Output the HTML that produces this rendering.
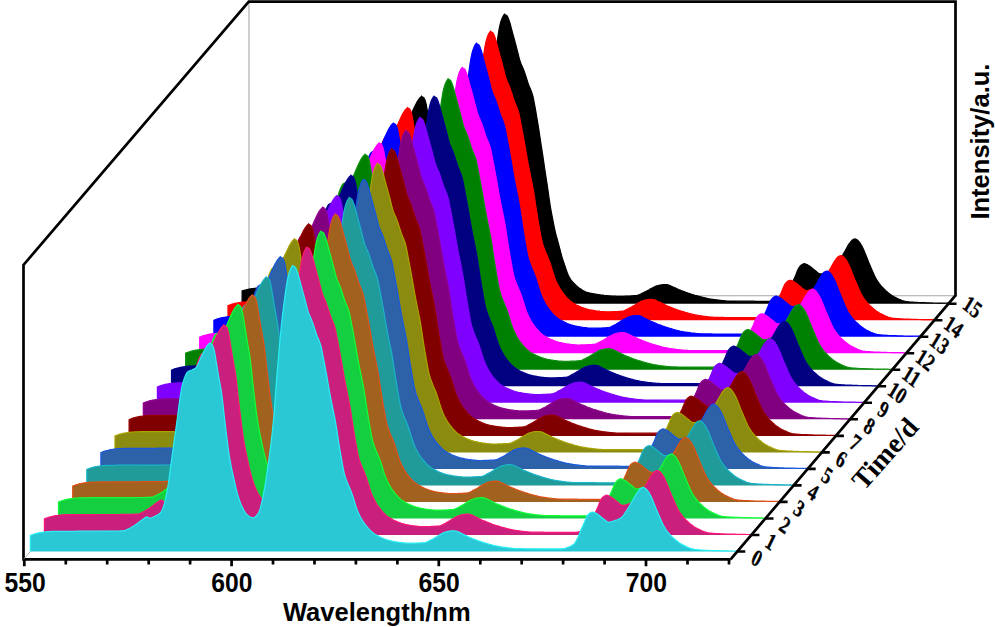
<!DOCTYPE html>
<html><head><meta charset="utf-8"><title>chart</title>
<style>html,body{margin:0;padding:0;background:#fff;}svg{display:block}</style></head>
<body><svg width="995" height="627" viewBox="0 0 995 627">
<rect width="995" height="627" fill="#fff"/>
<path d="M249 3V295.8H954" fill="none" stroke="#a8a8a8" stroke-width="1.1"/>
<path d="M242.1 303.7L242.1 291.0L243.1 290.6L244.1 290.3L245.1 290.0L246.1 289.8L247.1 289.5L248.1 289.3L249.1 289.1L250.1 288.9L251.1 288.8L252.1 288.6L253.1 288.5L254.1 288.4L255.1 288.3L256.1 288.2L257.1 288.1L258.1 288.0L259.1 287.9L260.1 287.8L261.1 287.8L262.1 287.7L263.1 287.7L264.1 287.7L265.1 287.7L266.1 287.7L267.1 287.7L268.1 287.7L269.1 287.7L270.1 287.7L271.1 287.6L272.1 287.6L273.1 287.6L274.1 287.6L275.1 287.6L276.1 287.6L277.1 287.6L278.1 287.6L279.1 287.6L280.1 287.6L281.1 287.6L282.1 287.6L283.1 287.6L284.1 287.6L285.1 287.6L286.1 287.6L287.1 287.6L288.1 287.6L289.1 287.6L290.1 287.6L291.1 287.6L292.1 287.6L293.1 287.6L294.1 287.6L295.1 287.6L296.1 287.6L297.1 287.6L298.1 287.6L299.1 287.6L300.1 287.5L301.1 287.5L302.1 287.5L303.1 287.5L304.1 287.5L305.1 287.5L306.1 287.5L307.1 287.5L308.1 287.5L309.1 287.5L310.1 287.5L311.1 287.5L312.1 287.5L313.1 287.5L314.1 287.5L315.1 287.5L316.1 287.5L317.1 287.5L318.1 287.5L319.1 287.5L320.1 287.5L321.1 287.5L322.1 287.5L323.1 287.5L324.1 287.4L325.1 287.4L326.1 287.4L327.1 287.4L328.1 287.4L329.1 287.4L330.1 287.4L331.1 287.3L332.1 287.3L333.1 287.3L334.1 287.3L335.1 287.2L336.1 287.1L337.1 286.9L338.1 286.5L339.1 286.2L340.1 285.7L341.1 285.4L342.1 285.0L343.1 284.5L344.1 284.1L345.1 283.6L346.1 283.1L347.1 282.6L348.1 282.0L349.1 281.4L350.1 280.7L351.1 280.0L352.1 279.2L353.1 278.5L354.1 277.8L355.1 277.1L356.1 276.3L357.1 275.5L358.1 274.8L359.1 274.4L359.2 274.4L360.1 274.7L360.9 275.0L361.1 275.0L362.1 274.6L363.1 274.1L364.1 273.6L365.1 272.9L366.1 272.2L367.1 271.5L368.1 270.7L369.1 269.9L370.1 269.1L371.1 268.2L372.1 267.1L373.1 265.6L374.1 263.6L375.1 260.9L376.1 257.4L377.1 253.4L378.1 248.7L379.1 243.2L380.1 237.0L381.1 229.8L382.1 222.0L383.1 214.5L384.1 207.2L385.1 200.1L386.1 192.9L387.1 185.8L388.1 178.6L389.1 171.4L390.1 163.8L391.1 156.2L392.1 149.2L393.1 143.3L394.1 138.2L395.1 134.5L396.1 131.4L397.1 129.0L398.1 126.9L399.1 125.3L400.1 124.5L401.1 124.0L402.1 123.7L403.1 123.3L404.1 122.9L405.1 122.4L406.1 122.0L407.1 121.4L408.1 120.6L409.1 119.1L410.1 116.8L411.1 114.6L412.1 112.3L413.1 109.9L414.1 107.8L415.1 105.7L416.1 103.7L417.1 101.9L418.1 100.3L419.1 98.9L420.1 97.7L421.0 96.8L421.1 96.7L421.5 96.2L422.1 96.7L423.1 97.3L424.1 98.1L425.1 100.3L426.1 103.8L427.1 109.4L428.1 115.4L429.1 121.5L430.1 127.4L431.1 133.0L432.1 138.6L433.1 144.2L434.1 151.5L435.1 160.3L436.1 169.5L437.1 178.0L438.1 186.1L439.1 194.1L440.1 201.7L441.1 208.4L442.1 214.3L443.1 219.5L444.1 224.3L445.1 228.9L446.1 233.3L447.1 237.6L448.1 241.8L449.1 245.7L450.1 249.1L451.1 252.1L452.1 254.9L453.1 257.4L454.1 259.6L455.1 261.5L456.1 263.3L457.1 264.9L458.1 266.3L459.1 267.3L460.1 268.0L461.1 268.6L462.1 269.2L463.1 269.6L464.1 269.8L464.8 269.9L465.1 269.8L466.1 269.5L467.1 268.8L468.1 267.8L469.1 266.6L470.1 265.2L471.1 263.2L472.1 260.0L473.1 255.9L474.1 251.6L475.1 246.7L476.1 241.2L477.1 235.3L478.1 228.9L479.1 222.0L480.1 214.8L481.1 207.4L482.1 199.7L483.1 191.5L484.1 182.6L485.1 172.8L486.1 161.5L487.1 147.2L488.1 133.6L489.1 121.0L490.1 109.0L491.1 97.5L492.1 86.4L493.1 75.8L494.1 66.3L495.1 58.0L496.1 50.0L497.1 42.4L498.1 35.5L499.1 29.2L500.1 24.5L501.1 21.0L502.1 18.3L503.1 16.3L504.0 14.9L504.1 14.7L504.6 14.1L505.1 14.6L505.2 14.7L506.1 15.1L507.1 15.8L508.1 17.7L509.1 20.4L510.1 23.5L511.1 27.3L512.1 31.2L513.1 34.9L514.1 38.5L515.1 42.2L516.1 46.0L517.1 49.8L518.1 53.7L519.1 57.8L520.1 61.3L521.1 63.9L522.1 66.2L523.1 68.5L524.1 71.0L525.1 73.9L526.1 77.0L527.1 80.2L528.1 83.2L529.1 85.9L530.1 88.3L531.1 90.7L532.1 93.4L533.1 97.0L534.1 102.0L535.1 107.4L536.1 113.0L537.1 119.0L538.1 125.1L539.1 131.4L540.1 138.0L541.1 144.8L542.1 151.2L543.1 157.7L544.1 164.5L545.1 171.4L546.1 177.9L547.1 184.3L548.1 191.1L549.1 198.4L550.1 205.1L551.1 210.8L552.1 216.2L553.1 221.3L554.1 226.3L555.1 231.1L556.1 235.3L557.1 238.7L558.1 242.3L559.1 246.1L560.1 250.0L561.1 253.8L562.1 257.3L563.1 260.6L564.1 263.5L565.1 266.4L566.1 269.4L567.1 272.2L568.1 274.7L569.1 276.9L570.1 278.6L571.1 280.0L572.1 281.3L573.1 282.4L574.1 283.5L575.1 284.5L576.1 285.5L577.1 286.3L578.1 287.1L579.1 287.9L580.1 288.6L581.1 289.3L582.1 290.0L583.1 290.6L584.1 291.1L585.1 291.6L586.1 292.0L587.1 292.3L588.1 292.6L589.1 292.9L590.1 293.1L591.1 293.3L592.1 293.5L593.1 293.7L594.1 293.8L595.1 294.0L596.1 294.2L597.1 294.3L598.1 294.5L599.1 294.7L600.1 294.8L601.1 295.0L602.1 295.1L603.1 295.2L604.1 295.4L605.1 295.5L606.1 295.6L607.1 295.7L608.1 295.8L609.1 295.8L610.1 295.9L611.1 296.0L612.1 296.0L613.1 296.1L614.1 296.2L615.1 296.2L616.1 296.3L617.1 296.3L618.1 296.4L619.1 296.4L620.1 296.4L621.1 296.4L622.1 296.3L623.1 296.3L624.1 296.3L625.1 296.2L626.1 296.2L627.1 296.1L628.1 296.1L629.1 296.0L630.1 296.0L631.1 295.9L632.1 295.8L633.1 295.8L634.1 295.7L635.1 295.6L636.1 295.5L637.1 295.4L638.1 295.1L639.1 294.8L640.1 294.3L641.1 293.9L642.1 293.4L643.1 292.9L644.1 292.4L645.1 291.9L646.1 291.4L647.1 290.8L648.1 290.2L649.1 289.7L650.1 289.1L651.1 288.6L652.1 288.1L653.1 287.5L654.1 287.0L655.1 286.5L656.1 286.1L657.1 285.8L658.1 285.5L659.1 285.3L660.1 285.1L661.1 284.9L662.1 284.8L663.1 284.7L664.1 284.6L665.1 284.6L666.1 284.6L667.1 284.7L668.1 284.9L669.1 285.2L670.1 285.6L671.1 286.1L672.1 286.5L673.1 287.0L674.1 287.4L675.1 287.9L676.1 288.3L677.1 288.8L678.1 289.2L679.1 289.7L680.1 290.1L681.1 290.5L682.1 290.9L683.1 291.2L684.1 291.6L685.1 292.0L686.1 292.4L687.1 292.7L688.1 293.1L689.1 293.4L690.1 293.7L691.1 294.1L692.1 294.4L693.1 294.7L694.1 295.0L695.1 295.3L696.1 295.5L697.1 295.8L698.1 296.1L699.1 296.4L700.1 296.6L701.1 296.9L702.1 297.2L703.1 297.4L704.1 297.7L705.1 297.9L706.1 298.1L707.1 298.4L708.1 298.6L709.1 298.8L710.1 299.0L711.1 299.1L712.1 299.3L713.1 299.4L714.1 299.6L715.1 299.7L716.1 299.8L717.1 299.9L718.1 300.1L719.1 300.2L720.1 300.3L721.1 300.4L722.1 300.5L723.1 300.6L724.1 300.7L725.1 300.8L726.1 300.9L727.1 301.0L728.1 301.0L729.1 301.1L730.1 301.1L731.1 301.1L732.1 301.1L733.1 301.1L734.1 301.1L735.1 301.1L736.1 301.1L737.1 301.2L738.1 301.2L739.1 301.2L740.1 301.2L741.1 301.2L742.1 301.2L743.1 301.2L744.1 301.2L745.1 301.2L746.1 301.2L747.1 301.2L748.1 301.2L749.1 301.2L750.1 301.2L751.1 301.2L752.1 301.2L753.1 301.2L754.1 301.2L755.1 301.3L756.1 301.3L757.1 301.3L758.1 301.3L759.1 301.3L760.1 301.3L761.1 301.3L762.1 301.3L763.1 301.3L764.1 301.3L765.1 301.3L766.1 301.3L767.1 301.3L768.1 301.3L769.1 301.3L770.1 301.3L771.1 301.3L772.1 301.3L773.1 301.3L774.1 301.2L775.1 301.0L776.1 300.8L777.1 300.5L778.1 300.2L779.1 299.8L780.1 299.4L781.1 298.9L782.1 298.5L783.1 298.0L784.1 297.5L785.1 296.7L786.1 295.8L787.1 294.4L788.1 292.6L789.1 290.6L790.1 288.5L791.1 286.0L792.1 283.4L793.1 280.9L794.1 278.7L795.1 276.6L796.1 274.2L797.1 271.6L798.1 269.3L799.1 267.6L800.1 266.2L801.1 265.2L802.1 264.5L803.1 264.0L804.1 263.7L804.4 263.7L805.1 263.8L806.1 264.2L807.1 264.6L808.1 265.2L809.1 265.8L810.1 266.4L811.1 267.2L812.1 268.0L813.1 268.9L814.1 269.7L815.1 270.5L816.1 271.3L817.1 272.1L818.1 272.9L819.1 273.5L820.1 273.9L821.1 273.9L822.1 273.8L823.1 273.5L824.1 273.2L825.1 272.9L826.1 272.5L827.1 272.2L828.1 271.8L829.1 271.5L830.1 271.0L831.1 270.5L832.1 270.0L833.1 269.3L834.1 268.5L835.1 267.3L836.1 265.9L837.1 264.3L838.1 262.7L839.1 261.2L840.1 259.6L841.1 257.8L842.1 256.0L843.1 254.3L844.1 252.5L845.1 250.8L846.1 249.0L847.1 247.2L848.1 245.4L849.1 243.9L850.1 242.5L851.1 241.3L852.1 240.2L853.1 239.5L854.1 239.0L855.0 238.9L855.1 238.9L856.1 239.2L857.1 239.7L858.1 240.6L859.1 241.8L860.1 243.2L861.1 244.8L862.1 246.6L863.1 248.6L864.1 250.8L865.1 253.2L866.1 255.7L867.1 258.3L868.1 260.8L869.1 263.3L870.1 265.6L871.1 267.9L872.1 270.3L873.1 272.6L874.1 274.8L875.1 276.9L876.1 278.8L877.1 280.4L878.1 281.9L879.1 283.3L880.1 284.6L881.1 285.8L882.1 287.0L883.1 288.0L884.1 289.0L885.1 289.9L886.1 290.9L887.1 291.7L888.1 292.6L889.1 293.4L890.1 294.2L891.1 294.9L892.1 295.6L893.1 296.2L894.1 296.8L895.1 297.3L896.1 297.8L897.1 298.3L898.1 298.7L899.1 299.2L900.1 299.6L901.1 300.1L902.1 300.5L903.1 300.8L904.1 301.1L905.1 301.4L906.1 301.6L907.1 301.7L908.1 301.8L909.1 301.9L910.1 302.0L911.1 302.1L912.1 302.2L913.1 302.2L914.1 302.3L915.1 302.3L916.1 302.4L917.1 302.4L918.1 302.5L919.1 302.5L920.1 302.6L921.1 302.6L922.1 302.6L923.1 302.7L924.1 302.7L925.1 302.7L926.1 302.8L927.1 302.8L928.1 302.8L929.1 302.9L930.1 302.9L931.1 302.9L932.1 302.9L933.1 303.0L934.1 303.0L935.1 303.0L936.1 303.0L937.1 303.1L938.1 303.1L939.1 303.1L940.1 303.1L941.1 303.1L942.1 303.1L943.1 303.2L944.1 303.2L945.1 303.2L946.1 303.2L947.1 303.2L948.1 303.2L948.1 303.7" fill="#000000" stroke="#000000" stroke-width="1.2" stroke-linejoin="miter" stroke-miterlimit="3"/>
<path d="M228.0 320.2L228.0 305.5L229.0 305.2L230.0 304.8L231.0 304.5L232.0 304.1L233.0 303.9L234.0 303.6L235.0 303.4L236.0 303.2L237.0 303.0L238.0 302.8L239.0 302.7L240.0 302.6L241.0 302.4L242.0 302.3L243.0 302.2L244.0 302.1L245.0 302.0L246.0 301.9L247.0 301.9L248.0 301.8L249.0 301.8L250.0 301.8L251.0 301.8L252.0 301.7L253.0 301.7L254.0 301.7L255.0 301.7L256.0 301.7L257.0 301.7L258.0 301.7L259.0 301.7L260.0 301.7L261.0 301.7L262.0 301.7L263.0 301.7L264.0 301.7L265.0 301.7L266.0 301.7L267.0 301.7L268.0 301.6L269.0 301.6L270.0 301.6L271.0 301.6L272.0 301.6L273.0 301.6L274.0 301.6L275.0 301.6L276.0 301.6L277.0 301.6L278.0 301.6L279.0 301.6L280.0 301.6L281.0 301.6L282.0 301.6L283.0 301.6L284.0 301.6L285.0 301.6L286.0 301.6L287.0 301.6L288.0 301.6L289.0 301.6L290.0 301.6L291.0 301.6L292.0 301.6L293.0 301.6L294.0 301.6L295.0 301.6L296.0 301.6L297.0 301.5L298.0 301.5L299.0 301.5L300.0 301.5L301.0 301.5L302.0 301.5L303.0 301.5L304.0 301.5L305.0 301.5L306.0 301.5L307.0 301.5L308.0 301.5L309.0 301.5L310.0 301.5L311.0 301.5L312.0 301.5L313.0 301.4L314.0 301.4L315.0 301.4L316.0 301.4L317.0 301.4L318.0 301.3L319.0 301.3L320.0 301.3L321.0 301.2L322.0 301.1L323.0 300.8L324.0 300.4L325.0 300.0L326.0 299.5L327.0 299.1L328.0 298.6L329.0 298.1L330.0 297.6L331.0 297.0L332.0 296.4L333.0 295.9L334.0 295.2L335.0 294.5L336.0 293.8L337.0 293.0L338.0 292.2L339.0 291.5L340.0 290.8L341.0 290.0L342.0 289.2L343.0 288.5L344.0 287.9L345.0 287.5L345.1 287.5L346.0 288.1L346.8 288.5L347.0 288.5L348.0 288.2L349.0 287.9L350.0 287.4L351.0 286.9L352.0 286.3L353.0 285.6L354.0 285.0L355.0 284.3L356.0 283.6L357.0 282.8L358.0 281.8L359.0 280.3L360.0 278.4L361.0 275.7L362.0 272.2L363.0 268.2L364.0 263.5L365.0 257.9L366.0 251.6L367.0 244.4L368.0 236.4L369.0 228.8L370.0 221.3L371.0 214.0L372.0 206.7L373.0 199.4L374.0 192.0L375.0 184.6L376.0 176.8L377.0 169.0L378.0 161.9L379.0 155.7L380.0 150.6L381.0 146.8L382.0 143.6L383.0 141.1L384.0 138.9L385.0 137.3L386.0 136.5L387.0 136.0L388.0 135.7L389.0 135.3L390.0 134.8L391.0 134.4L392.0 133.9L393.0 133.3L394.0 132.5L395.0 130.9L396.0 128.6L397.0 126.4L398.0 124.0L399.0 121.6L400.0 119.4L401.0 117.2L402.0 115.2L403.0 113.4L404.0 111.7L405.0 110.2L406.0 109.1L406.9 108.2L407.0 108.0L407.4 107.6L408.0 108.1L409.0 108.6L410.0 109.4L411.0 111.7L412.0 115.3L413.0 121.1L414.0 127.2L415.0 133.5L416.0 139.5L417.0 145.3L418.0 151.0L419.0 156.7L420.0 164.2L421.0 173.2L422.0 182.6L423.0 191.3L424.0 199.7L425.0 207.9L426.0 215.7L427.0 222.6L428.0 228.5L429.0 233.9L430.0 238.9L431.0 243.5L432.0 248.0L433.0 252.5L434.0 256.8L435.0 260.8L436.0 264.3L437.0 267.4L438.0 270.2L439.0 272.8L440.0 275.1L441.0 277.1L442.0 278.9L443.0 280.6L444.0 282.0L445.0 283.1L446.0 283.8L447.0 284.5L448.0 285.2L449.0 285.6L450.0 285.9L450.7 286.0L451.0 286.0L452.0 285.7L453.0 285.0L454.0 284.1L455.0 282.9L456.0 281.6L457.0 279.7L458.0 276.4L459.0 272.3L460.0 268.1L461.0 263.2L462.0 257.7L463.0 251.8L464.0 245.5L465.0 238.6L466.0 231.4L467.0 224.0L468.0 216.4L469.0 208.3L470.0 199.4L471.0 189.5L472.0 178.3L473.0 164.0L474.0 150.4L475.0 137.9L476.0 125.9L477.0 114.4L478.0 103.3L479.0 92.8L480.0 83.3L481.0 75.0L482.0 67.1L483.0 59.5L484.0 52.6L485.0 46.3L486.0 41.6L487.0 38.1L488.0 35.3L489.0 33.4L489.9 32.0L490.0 31.8L490.5 31.2L491.0 31.7L491.1 31.8L492.0 32.2L493.0 32.9L494.0 34.8L495.0 37.5L496.0 40.6L497.0 44.4L498.0 48.3L499.0 51.9L500.0 55.6L501.0 59.3L502.0 63.0L503.0 66.8L504.0 70.7L505.0 74.8L506.0 78.3L507.0 80.9L508.0 83.2L509.0 85.4L510.0 88.0L511.0 90.9L512.0 94.0L513.0 97.1L514.0 100.2L515.0 102.8L516.0 105.2L517.0 107.6L518.0 110.4L519.0 113.9L520.0 118.9L521.0 124.1L522.0 129.4L523.0 134.7L524.0 140.2L525.0 145.7L526.0 151.6L527.0 157.5L528.0 163.1L529.0 168.2L530.0 173.1L531.0 178.1L532.0 183.0L533.0 188.2L534.0 194.0L535.0 200.6L536.0 207.4L537.0 213.7L538.0 219.8L539.0 225.6L540.0 231.3L541.0 236.8L542.0 241.5L543.0 244.9L544.0 247.8L545.0 250.5L546.0 253.0L547.0 255.3L548.0 257.6L549.0 260.1L550.0 262.8L551.0 265.9L552.0 269.2L553.0 272.5L554.0 275.6L555.0 278.5L556.0 280.9L557.0 283.0L558.0 285.0L559.0 286.9L560.0 288.6L561.0 290.2L562.0 291.7L563.0 293.0L564.0 294.3L565.0 295.6L566.0 296.7L567.0 297.9L568.0 298.9L569.0 299.8L570.0 300.7L571.0 301.5L572.0 302.2L573.0 302.9L574.0 303.5L575.0 304.1L576.0 304.7L577.0 305.2L578.0 305.6L579.0 306.1L580.0 306.5L581.0 307.0L582.0 307.4L583.0 307.7L584.0 308.1L585.0 308.4L586.0 308.8L587.0 309.0L588.0 309.3L589.0 309.5L590.0 309.8L591.0 310.0L592.0 310.2L593.0 310.4L594.0 310.6L595.0 310.7L596.0 310.9L597.0 311.0L598.0 311.1L599.0 311.2L600.0 311.4L601.0 311.5L602.0 311.6L603.0 311.7L604.0 311.7L605.0 311.8L606.0 311.8L607.0 311.8L608.0 311.8L609.0 311.8L610.0 311.8L611.0 311.8L612.0 311.8L613.0 311.7L614.0 311.7L615.0 311.7L616.0 311.6L617.0 311.6L618.0 311.5L619.0 311.4L620.0 311.4L621.0 311.3L622.0 311.2L623.0 311.1L624.0 310.8L625.0 310.4L626.0 309.9L627.0 309.4L628.0 308.9L629.0 308.3L630.0 307.8L631.0 307.3L632.0 306.7L633.0 306.1L634.0 305.5L635.0 304.9L636.0 304.2L637.0 303.7L638.0 303.1L639.0 302.5L640.0 302.0L641.0 301.4L642.0 301.0L643.0 300.6L644.0 300.4L645.0 300.1L646.0 299.9L647.0 299.7L648.0 299.5L649.0 299.4L650.0 299.3L651.0 299.3L652.0 299.3L653.0 299.5L654.0 299.7L655.0 300.0L656.0 300.4L657.0 301.0L658.0 301.5L659.0 301.9L660.0 302.4L661.0 302.9L662.0 303.4L663.0 303.9L664.0 304.4L665.0 304.9L666.0 305.3L667.0 305.8L668.0 306.2L669.0 306.6L670.0 307.0L671.0 307.4L672.0 307.8L673.0 308.2L674.0 308.6L675.0 309.0L676.0 309.4L677.0 309.7L678.0 310.1L679.0 310.4L680.0 310.7L681.0 311.0L682.0 311.3L683.0 311.6L684.0 311.9L685.0 312.2L686.0 312.5L687.0 312.8L688.0 313.1L689.0 313.4L690.0 313.6L691.0 313.9L692.0 314.2L693.0 314.4L694.0 314.6L695.0 314.8L696.0 315.0L697.0 315.2L698.0 315.4L699.0 315.6L700.0 315.7L701.0 315.8L702.0 316.0L703.0 316.1L704.0 316.3L705.0 316.4L706.0 316.5L707.0 316.6L708.0 316.8L709.0 316.9L710.0 317.0L711.0 317.1L712.0 317.1L713.0 317.2L714.0 317.3L715.0 317.3L716.0 317.4L717.0 317.4L718.0 317.4L719.0 317.4L720.0 317.4L721.0 317.4L722.0 317.4L723.0 317.4L724.0 317.5L725.0 317.5L726.0 317.5L727.0 317.5L728.0 317.5L729.0 317.5L730.0 317.5L731.0 317.5L732.0 317.5L733.0 317.5L734.0 317.5L735.0 317.5L736.0 317.5L737.0 317.5L738.0 317.5L739.0 317.5L740.0 317.6L741.0 317.6L742.0 317.6L743.0 317.6L744.0 317.6L745.0 317.6L746.0 317.6L747.0 317.6L748.0 317.6L749.0 317.6L750.0 317.6L751.0 317.6L752.0 317.6L753.0 317.6L754.0 317.6L755.0 317.6L756.0 317.6L757.0 317.6L758.0 317.6L759.0 317.6L760.0 317.5L761.0 317.4L762.0 317.1L763.0 316.9L764.0 316.5L765.0 316.2L766.0 315.8L767.0 315.3L768.0 314.9L769.0 314.5L770.0 313.9L771.0 313.3L772.0 312.3L773.0 310.9L774.0 309.1L775.0 307.1L776.0 305.0L777.0 302.6L778.0 299.9L779.0 297.5L780.0 295.3L781.0 293.2L782.0 290.8L783.0 288.2L784.0 285.9L785.0 284.1L786.0 282.8L787.0 281.8L788.0 281.1L789.0 280.6L790.0 280.3L790.3 280.3L791.0 280.4L792.0 280.8L793.0 281.2L794.0 281.7L795.0 282.4L796.0 283.0L797.0 283.8L798.0 284.6L799.0 285.5L800.0 286.3L801.0 287.1L802.0 287.9L803.0 288.7L804.0 289.5L805.0 290.1L806.0 290.4L807.0 290.5L808.0 290.4L809.0 290.1L810.0 289.8L811.0 289.5L812.0 289.1L813.0 288.8L814.0 288.4L815.0 288.0L816.0 287.6L817.0 287.1L818.0 286.5L819.0 285.9L820.0 285.0L821.0 283.9L822.0 282.5L823.0 280.9L824.0 279.4L825.0 277.8L826.0 276.2L827.0 274.4L828.0 272.7L829.0 270.9L830.0 269.1L831.0 267.4L832.0 265.6L833.0 263.8L834.0 262.1L835.0 260.5L836.0 259.2L837.0 257.9L838.0 256.8L839.0 256.2L840.0 255.7L840.9 255.5L841.0 255.5L842.0 255.8L843.0 256.4L844.0 257.3L845.0 258.4L846.0 259.8L847.0 261.4L848.0 263.2L849.0 265.2L850.0 267.4L851.0 269.8L852.0 272.4L853.0 274.9L854.0 277.4L855.0 279.9L856.0 282.2L857.0 284.5L858.0 286.9L859.0 289.2L860.0 291.4L861.0 293.5L862.0 295.4L863.0 297.0L864.0 298.5L865.0 299.9L866.0 301.2L867.0 302.4L868.0 303.5L869.0 304.6L870.0 305.6L871.0 306.5L872.0 307.4L873.0 308.3L874.0 309.1L875.0 309.9L876.0 310.7L877.0 311.4L878.0 312.1L879.0 312.7L880.0 313.3L881.0 313.8L882.0 314.3L883.0 314.8L884.0 315.3L885.0 315.7L886.0 316.2L887.0 316.6L888.0 317.0L889.0 317.3L890.0 317.6L891.0 317.9L892.0 318.1L893.0 318.3L894.0 318.4L895.0 318.4L896.0 318.5L897.0 318.6L898.0 318.7L899.0 318.7L900.0 318.8L901.0 318.9L902.0 318.9L903.0 319.0L904.0 319.0L905.0 319.1L906.0 319.1L907.0 319.1L908.0 319.2L909.0 319.2L910.0 319.2L911.0 319.3L912.0 319.3L913.0 319.3L914.0 319.3L915.0 319.4L916.0 319.4L917.0 319.4L918.0 319.5L919.0 319.5L920.0 319.5L921.0 319.5L922.0 319.6L923.0 319.6L924.0 319.6L925.0 319.6L926.0 319.6L927.0 319.7L928.0 319.7L929.0 319.7L930.0 319.7L931.0 319.7L932.0 319.7L933.0 319.7L934.0 319.7L934.0 320.2" fill="#ff0000" stroke="#ff0000" stroke-width="1.2" stroke-linejoin="miter" stroke-miterlimit="3"/>
<path d="M213.9 336.7L213.9 320.3L214.9 319.9L215.9 319.5L216.9 319.1L217.9 318.8L218.9 318.5L219.9 318.2L220.9 318.0L221.9 317.7L222.9 317.5L223.9 317.3L224.9 317.2L225.9 317.0L226.9 316.9L227.9 316.8L228.9 316.6L229.9 316.5L230.9 316.4L231.9 316.3L232.9 316.3L233.9 316.2L234.9 316.2L235.9 316.1L236.9 316.1L237.9 316.1L238.9 316.1L239.9 316.1L240.9 316.1L241.9 316.1L242.9 316.1L243.9 316.1L244.9 316.1L245.9 316.0L246.9 316.0L247.9 316.0L248.9 316.0L249.9 316.0L250.9 316.0L251.9 316.0L252.9 316.0L253.9 316.0L254.9 316.0L255.9 316.0L256.9 316.0L257.9 316.0L258.9 316.0L259.9 316.0L260.9 316.0L261.9 316.0L262.9 316.0L263.9 316.0L264.9 316.0L265.9 316.0L266.9 316.0L267.9 316.0L268.9 316.0L269.9 315.9L270.9 315.9L271.9 315.9L272.9 315.9L273.9 315.9L274.9 315.9L275.9 315.9L276.9 315.9L277.9 315.9L278.9 315.9L279.9 315.9L280.9 315.9L281.9 315.9L282.9 315.9L283.9 315.9L284.9 315.9L285.9 315.9L286.9 315.9L287.9 315.9L288.9 315.9L289.9 315.9L290.9 315.9L291.9 315.8L292.9 315.8L293.9 315.8L294.9 315.8L295.9 315.8L296.9 315.8L297.9 315.8L298.9 315.8L299.9 315.8L300.9 315.7L301.9 315.7L302.9 315.7L303.9 315.7L304.9 315.6L305.9 315.6L306.9 315.5L307.9 315.4L308.9 315.1L309.9 314.6L310.9 314.1L311.9 313.6L312.9 313.1L313.9 312.6L314.9 312.1L315.9 311.5L316.9 310.8L317.9 310.2L318.9 309.5L319.9 308.9L320.9 308.1L321.9 307.3L322.9 306.5L323.9 305.7L324.9 304.9L325.9 304.2L326.9 303.5L327.9 302.7L328.9 302.0L329.9 301.5L330.9 301.3L331.0 301.3L331.9 302.0L332.7 302.6L332.9 302.6L333.9 302.4L334.9 302.2L335.9 301.9L336.9 301.5L337.9 301.0L338.9 300.4L339.9 299.9L340.9 299.3L341.9 298.7L342.9 298.1L343.9 297.2L344.9 295.8L345.9 294.0L346.9 291.4L347.9 288.0L348.9 284.0L349.9 279.4L350.9 273.9L351.9 267.6L352.9 260.4L353.9 252.4L354.9 244.8L355.9 237.4L356.9 230.0L357.9 222.6L358.9 215.3L359.9 207.9L360.9 200.4L361.9 192.6L362.9 184.7L363.9 177.6L364.9 171.5L365.9 166.3L366.9 162.4L367.9 159.3L368.9 156.8L369.9 154.6L370.9 152.9L371.9 152.1L372.9 151.6L373.9 151.3L374.9 150.9L375.9 150.5L376.9 150.0L377.9 149.5L378.9 148.9L379.9 148.1L380.9 146.5L381.9 144.2L382.9 142.0L383.9 139.5L384.9 137.1L385.9 134.9L386.9 132.7L387.9 130.7L388.9 128.9L389.9 127.2L390.9 125.7L391.9 124.5L392.8 123.6L392.9 123.5L393.3 123.0L393.9 123.5L394.9 124.1L395.9 124.9L396.9 127.2L397.9 130.8L398.9 136.6L399.9 142.8L400.9 149.1L401.9 155.1L402.9 160.9L403.9 166.6L404.9 172.4L405.9 180.0L406.9 189.0L407.9 198.5L408.9 207.2L409.9 215.6L410.9 223.9L411.9 231.7L412.9 238.6L413.9 244.6L414.9 250.0L415.9 255.0L416.9 259.6L417.9 264.2L418.9 268.7L419.9 273.0L420.9 277.0L421.9 280.5L422.9 283.6L423.9 286.5L424.9 289.1L425.9 291.3L426.9 293.3L427.9 295.2L428.9 296.9L429.9 298.3L430.9 299.3L431.9 300.1L432.9 300.8L433.9 301.4L434.9 301.8L435.9 302.1L436.6 302.2L436.9 302.1L437.9 301.8L438.9 301.1L439.9 300.2L440.9 299.0L441.9 297.6L442.9 295.6L443.9 292.3L444.9 288.2L445.9 283.8L446.9 278.9L447.9 273.3L448.9 267.3L449.9 260.9L450.9 253.9L451.9 246.6L452.9 239.0L453.9 231.3L454.9 223.0L455.9 214.0L456.9 204.0L457.9 192.5L458.9 178.0L459.9 164.3L460.9 151.5L461.9 139.3L462.9 127.7L463.9 116.4L464.9 105.7L465.9 96.0L466.9 87.6L467.9 79.6L468.9 71.8L469.9 64.9L470.9 58.5L471.9 53.7L472.9 50.1L473.9 47.4L474.9 45.4L475.8 43.9L475.9 43.8L476.4 43.1L476.9 43.6L477.0 43.7L477.9 44.2L478.9 44.9L479.9 46.8L480.9 49.5L481.9 52.7L482.9 56.6L483.9 60.5L484.9 64.2L485.9 67.9L486.9 71.7L487.9 75.5L488.9 79.3L489.9 83.3L490.9 87.4L491.9 91.0L492.9 93.7L493.9 96.0L494.9 98.3L495.9 100.8L496.9 103.8L497.9 106.9L498.9 110.1L499.9 113.2L500.9 115.9L501.9 118.3L502.9 120.8L503.9 123.6L504.9 127.2L505.9 132.2L506.9 137.5L507.9 142.9L508.9 148.3L509.9 153.8L510.9 159.5L511.9 165.4L512.9 171.4L513.9 177.1L514.9 182.3L515.9 187.3L516.9 192.3L517.9 197.4L518.9 202.7L519.9 208.6L520.9 215.3L521.9 222.1L522.9 228.5L523.9 234.7L524.9 240.6L525.9 246.4L526.9 252.0L527.9 256.8L528.9 260.3L529.9 263.2L530.9 265.9L531.9 268.4L532.9 270.8L533.9 273.2L534.9 275.7L535.9 278.5L536.9 281.6L537.9 284.9L538.9 288.3L539.9 291.4L540.9 294.3L541.9 296.8L542.9 298.9L543.9 301.0L544.9 302.9L545.9 304.6L546.9 306.3L547.9 307.7L548.9 309.1L549.9 310.4L550.9 311.7L551.9 312.9L552.9 314.0L553.9 315.1L554.9 316.0L555.9 316.9L556.9 317.7L557.9 318.5L558.9 319.2L559.9 319.8L560.9 320.4L561.9 320.9L562.9 321.4L563.9 321.9L564.9 322.4L565.9 322.8L566.9 323.3L567.9 323.7L568.9 324.1L569.9 324.4L570.9 324.8L571.9 325.1L572.9 325.4L573.9 325.6L574.9 325.9L575.9 326.1L576.9 326.3L577.9 326.6L578.9 326.7L579.9 326.9L580.9 327.1L581.9 327.2L582.9 327.4L583.9 327.5L584.9 327.6L585.9 327.7L586.9 327.8L587.9 328.0L588.9 328.0L589.9 328.1L590.9 328.2L591.9 328.2L592.9 328.2L593.9 328.2L594.9 328.2L595.9 328.2L596.9 328.2L597.9 328.1L598.9 328.1L599.9 328.1L600.9 328.0L601.9 328.0L602.9 327.9L603.9 327.9L604.9 327.8L605.9 327.8L606.9 327.7L607.9 327.6L608.9 327.5L609.9 327.2L610.9 326.8L611.9 326.3L612.9 325.8L613.9 325.2L614.9 324.7L615.9 324.2L616.9 323.6L617.9 323.0L618.9 322.4L619.9 321.8L620.9 321.1L621.9 320.5L622.9 319.9L623.9 319.4L624.9 318.8L625.9 318.2L626.9 317.7L627.9 317.2L628.9 316.9L629.9 316.6L630.9 316.3L631.9 316.1L632.9 315.9L633.9 315.7L634.9 315.6L635.9 315.5L636.9 315.5L637.9 315.5L638.9 315.7L639.9 315.9L640.9 316.2L641.9 316.6L642.9 317.2L643.9 317.7L644.9 318.2L645.9 318.7L646.9 319.2L647.9 319.7L648.9 320.2L649.9 320.7L650.9 321.2L651.9 321.6L652.9 322.1L653.9 322.5L654.9 322.9L655.9 323.3L656.9 323.8L657.9 324.2L658.9 324.6L659.9 324.9L660.9 325.3L661.9 325.7L662.9 326.1L663.9 326.4L664.9 326.8L665.9 327.1L666.9 327.4L667.9 327.7L668.9 328.0L669.9 328.3L670.9 328.6L671.9 328.9L672.9 329.2L673.9 329.5L674.9 329.8L675.9 330.1L676.9 330.3L677.9 330.6L678.9 330.8L679.9 331.1L680.9 331.3L681.9 331.5L682.9 331.7L683.9 331.8L684.9 332.0L685.9 332.1L686.9 332.3L687.9 332.4L688.9 332.6L689.9 332.7L690.9 332.9L691.9 333.0L692.9 333.1L693.9 333.2L694.9 333.3L695.9 333.4L696.9 333.5L697.9 333.6L698.9 333.7L699.9 333.8L700.9 333.8L701.9 333.8L702.9 333.9L703.9 333.9L704.9 333.9L705.9 333.9L706.9 333.9L707.9 333.9L708.9 333.9L709.9 333.9L710.9 333.9L711.9 333.9L712.9 334.0L713.9 334.0L714.9 334.0L715.9 334.0L716.9 334.0L717.9 334.0L718.9 334.0L719.9 334.0L720.9 334.0L721.9 334.0L722.9 334.0L723.9 334.0L724.9 334.0L725.9 334.0L726.9 334.0L727.9 334.0L728.9 334.0L729.9 334.0L730.9 334.0L731.9 334.1L732.9 334.1L733.9 334.1L734.9 334.1L735.9 334.1L736.9 334.1L737.9 334.1L738.9 334.1L739.9 334.1L740.9 334.1L741.9 334.1L742.9 334.1L743.9 334.1L744.9 334.1L745.9 334.0L746.9 333.8L747.9 333.6L748.9 333.3L749.9 333.0L750.9 332.6L751.9 332.2L752.9 331.8L753.9 331.4L754.9 330.9L755.9 330.4L756.9 329.7L757.9 328.7L758.9 327.3L759.9 325.5L760.9 323.4L761.9 321.3L762.9 318.8L763.9 316.1L764.9 313.7L765.9 311.4L766.9 309.3L767.9 306.8L768.9 304.2L769.9 301.8L770.9 300.1L771.9 298.8L772.9 297.7L773.9 297.0L774.9 296.5L775.9 296.2L776.2 296.2L776.9 296.3L777.9 296.7L778.9 297.1L779.9 297.7L780.9 298.3L781.9 298.9L782.9 299.7L783.9 300.6L784.9 301.5L785.9 302.3L786.9 303.1L787.9 303.9L788.9 304.7L789.9 305.5L790.9 306.1L791.9 306.5L792.9 306.5L793.9 306.4L794.9 306.2L795.9 305.9L796.9 305.5L797.9 305.2L798.9 304.8L799.9 304.4L800.9 304.0L801.9 303.6L802.9 303.1L803.9 302.5L804.9 301.9L805.9 301.0L806.9 299.8L807.9 298.4L808.9 296.8L809.9 295.2L810.9 293.6L811.9 292.0L812.9 290.2L813.9 288.4L814.9 286.6L815.9 284.8L816.9 283.1L817.9 281.2L818.9 279.4L819.9 277.7L820.9 276.1L821.9 274.7L822.9 273.4L823.9 272.3L824.9 271.7L825.9 271.2L826.8 271.0L826.9 271.0L827.9 271.3L828.9 271.9L829.9 272.8L830.9 273.9L831.9 275.4L832.9 277.0L833.9 278.8L834.9 280.8L835.9 283.1L836.9 285.6L837.9 288.1L838.9 290.7L839.9 293.3L840.9 295.7L841.9 298.1L842.9 300.5L843.9 302.9L844.9 305.2L845.9 307.5L846.9 309.6L847.9 311.5L848.9 313.1L849.9 314.7L850.9 316.1L851.9 317.4L852.9 318.6L853.9 319.8L854.9 320.8L855.9 321.8L856.9 322.8L857.9 323.7L858.9 324.6L859.9 325.5L860.9 326.3L861.9 327.1L862.9 327.8L863.9 328.5L864.9 329.1L865.9 329.7L866.9 330.2L867.9 330.7L868.9 331.2L869.9 331.7L870.9 332.2L871.9 332.6L872.9 333.1L873.9 333.4L874.9 333.8L875.9 334.1L876.9 334.4L877.9 334.6L878.9 334.7L879.9 334.8L880.9 334.9L881.9 335.0L882.9 335.1L883.9 335.2L884.9 335.2L885.9 335.3L886.9 335.4L887.9 335.4L888.9 335.5L889.9 335.5L890.9 335.6L891.9 335.6L892.9 335.6L893.9 335.7L894.9 335.7L895.9 335.7L896.9 335.8L897.9 335.8L898.9 335.8L899.9 335.9L900.9 335.9L901.9 335.9L902.9 335.9L903.9 336.0L904.9 336.0L905.9 336.0L906.9 336.0L907.9 336.1L908.9 336.1L909.9 336.1L910.9 336.1L911.9 336.1L912.9 336.2L913.9 336.2L914.9 336.2L915.9 336.2L916.9 336.2L917.9 336.2L918.9 336.2L919.9 336.2L919.9 336.7" fill="#0000ff" stroke="#0000ff" stroke-width="1.2" stroke-linejoin="miter" stroke-miterlimit="3"/>
<path d="M199.7 353.3L199.7 337.1L200.7 336.7L201.7 336.3L202.7 335.9L203.7 335.6L204.7 335.3L205.7 335.0L206.7 334.8L207.7 334.5L208.7 334.3L209.7 334.1L210.7 334.0L211.7 333.8L212.7 333.7L213.7 333.6L214.7 333.5L215.7 333.4L216.7 333.3L217.7 333.2L218.7 333.1L219.7 333.0L220.7 333.0L221.7 333.0L222.7 333.0L223.7 333.0L224.7 332.9L225.7 332.9L226.7 332.9L227.7 332.9L228.7 332.9L229.7 332.9L230.7 332.9L231.7 332.9L232.7 332.9L233.7 332.9L234.7 332.9L235.7 332.9L236.7 332.9L237.7 332.9L238.7 332.9L239.7 332.8L240.7 332.8L241.7 332.8L242.7 332.8L243.7 332.8L244.7 332.8L245.7 332.8L246.7 332.8L247.7 332.8L248.7 332.8L249.7 332.8L250.7 332.8L251.7 332.8L252.7 332.8L253.7 332.8L254.7 332.8L255.7 332.8L256.7 332.8L257.7 332.8L258.7 332.8L259.7 332.8L260.7 332.8L261.7 332.8L262.7 332.8L263.7 332.8L264.7 332.8L265.7 332.8L266.7 332.7L267.7 332.7L268.7 332.7L269.7 332.7L270.7 332.7L271.7 332.7L272.7 332.7L273.7 332.7L274.7 332.7L275.7 332.7L276.7 332.7L277.7 332.7L278.7 332.7L279.7 332.7L280.7 332.7L281.7 332.7L282.7 332.6L283.7 332.6L284.7 332.6L285.7 332.6L286.7 332.6L287.7 332.6L288.7 332.5L289.7 332.5L290.7 332.5L291.7 332.4L292.7 332.4L293.7 332.2L294.7 331.9L295.7 331.5L296.7 331.0L297.7 330.5L298.7 330.0L299.7 329.5L300.7 329.0L301.7 328.4L302.7 327.8L303.7 327.1L304.7 326.5L305.7 325.8L306.7 325.1L307.7 324.3L308.7 323.5L309.7 322.7L310.7 321.9L311.7 321.2L312.7 320.5L313.7 319.8L314.7 319.1L315.7 318.6L316.7 318.4L316.8 318.3L317.7 319.1L318.5 319.7L318.7 319.7L319.7 319.5L320.7 319.3L321.7 319.0L322.7 318.5L323.7 318.1L324.7 317.5L325.7 317.0L326.7 316.4L327.7 315.8L328.7 315.2L329.7 314.3L330.7 313.0L331.7 311.2L332.7 308.6L333.7 305.2L334.7 301.4L335.7 296.8L336.7 291.4L337.7 285.2L338.7 278.1L339.7 270.3L340.7 262.8L341.7 255.4L342.7 248.2L343.7 240.9L344.7 233.7L345.7 226.4L346.7 219.1L347.7 211.4L348.7 203.6L349.7 196.6L350.7 190.6L351.7 185.5L352.7 181.7L353.7 178.6L354.7 176.1L355.7 173.9L356.7 172.3L357.7 171.5L358.7 171.1L359.7 170.7L360.7 170.3L361.7 169.9L362.7 169.4L363.7 169.0L364.7 168.4L365.7 167.6L366.7 166.0L367.7 163.8L368.7 161.5L369.7 159.1L370.7 156.8L371.7 154.6L372.7 152.4L373.7 150.4L374.7 148.6L375.7 147.0L376.7 145.5L377.7 144.4L378.6 143.5L378.7 143.4L379.1 142.9L379.7 143.4L380.7 143.9L381.7 144.7L382.7 147.0L383.7 150.6L384.7 156.2L385.7 162.3L386.7 168.5L387.7 174.5L388.7 180.2L389.7 185.8L390.7 191.5L391.7 198.9L392.7 207.8L393.7 217.1L394.7 225.7L395.7 234.0L396.7 242.2L397.7 249.8L398.7 256.7L399.7 262.6L400.7 267.9L401.7 272.8L402.7 277.4L403.7 281.9L404.7 286.3L405.7 290.5L406.7 294.5L407.7 298.0L408.7 301.0L409.7 303.8L410.7 306.4L411.7 308.6L412.7 310.6L413.7 312.4L414.7 314.1L415.7 315.5L416.7 316.5L417.7 317.3L418.7 318.0L419.7 318.6L420.7 319.0L421.7 319.3L422.4 319.4L422.7 319.4L423.7 319.1L424.7 318.5L425.7 317.5L426.7 316.4L427.7 315.0L428.7 313.1L429.7 309.9L430.7 305.9L431.7 301.7L432.7 296.9L433.7 291.4L434.7 285.6L435.7 279.4L436.7 272.6L437.7 265.4L438.7 258.1L439.7 250.6L440.7 242.5L441.7 233.7L442.7 224.0L443.7 212.8L444.7 198.7L445.7 185.3L446.7 172.9L447.7 161.0L448.7 149.7L449.7 138.7L450.7 128.3L451.7 118.9L452.7 110.7L453.7 102.9L454.7 95.3L455.7 88.5L456.7 82.3L457.7 77.7L458.7 74.2L459.7 71.5L460.7 69.5L461.6 68.2L461.7 68.0L462.2 67.4L462.7 67.9L462.8 68.0L463.7 68.4L464.7 69.1L465.7 70.9L466.7 73.6L467.7 76.7L468.7 80.4L469.7 84.3L470.7 87.9L471.7 91.5L472.7 95.2L473.7 98.9L474.7 102.6L475.7 106.4L476.7 110.5L477.7 114.0L478.7 116.6L479.7 118.8L480.7 121.0L481.7 123.5L482.7 126.4L483.7 129.5L484.7 132.6L485.7 135.6L486.7 138.2L487.7 140.6L488.7 143.0L489.7 145.7L490.7 149.2L491.7 154.1L492.7 159.3L493.7 164.5L494.7 169.8L495.7 175.2L496.7 180.7L497.7 186.4L498.7 192.3L499.7 197.8L500.7 202.8L501.7 207.7L502.7 212.7L503.7 217.6L504.7 222.7L505.7 228.4L506.7 235.0L507.7 241.6L508.7 247.9L509.7 253.9L510.7 259.7L511.7 265.3L512.7 270.8L513.7 275.4L514.7 278.8L515.7 281.6L516.7 284.3L517.7 286.8L518.7 289.1L519.7 291.4L520.7 293.8L521.7 296.5L522.7 299.6L523.7 302.8L524.7 306.0L525.7 309.2L526.7 312.0L527.7 314.3L528.7 316.5L529.7 318.4L530.7 320.3L531.7 322.0L532.7 323.6L533.7 325.0L534.7 326.4L535.7 327.7L536.7 328.9L537.7 330.0L538.7 331.1L539.7 332.2L540.7 333.1L541.7 334.0L542.7 334.8L543.7 335.5L544.7 336.1L545.7 336.8L546.7 337.3L547.7 337.9L548.7 338.4L549.7 338.8L550.7 339.3L551.7 339.7L552.7 340.1L553.7 340.5L554.7 340.9L555.7 341.3L556.7 341.6L557.7 341.9L558.7 342.2L559.7 342.5L560.7 342.7L561.7 342.9L562.7 343.1L563.7 343.3L564.7 343.5L565.7 343.7L566.7 343.9L567.7 344.0L568.7 344.1L569.7 344.2L570.7 344.4L571.7 344.5L572.7 344.6L573.7 344.7L574.7 344.8L575.7 344.9L576.7 344.9L577.7 345.0L578.7 345.0L579.7 345.0L580.7 344.9L581.7 344.9L582.7 344.9L583.7 344.9L584.7 344.9L585.7 344.8L586.7 344.8L587.7 344.7L588.7 344.7L589.7 344.6L590.7 344.6L591.7 344.5L592.7 344.4L593.7 344.4L594.7 344.2L595.7 344.0L596.7 343.6L597.7 343.1L598.7 342.6L599.7 342.0L600.7 341.5L601.7 341.0L602.7 340.5L603.7 339.9L604.7 339.3L605.7 338.7L606.7 338.1L607.7 337.5L608.7 336.9L609.7 336.3L610.7 335.8L611.7 335.2L612.7 334.7L613.7 334.2L614.7 333.9L615.7 333.6L616.7 333.3L617.7 333.1L618.7 332.9L619.7 332.8L620.7 332.7L621.7 332.6L622.7 332.6L623.7 332.6L624.7 332.8L625.7 333.0L626.7 333.2L627.7 333.7L628.7 334.2L629.7 334.7L630.7 335.2L631.7 335.7L632.7 336.2L633.7 336.7L634.7 337.2L635.7 337.6L636.7 338.1L637.7 338.5L638.7 339.0L639.7 339.4L640.7 339.8L641.7 340.2L642.7 340.6L643.7 341.0L644.7 341.4L645.7 341.8L646.7 342.1L647.7 342.5L648.7 342.9L649.7 343.2L650.7 343.5L651.7 343.9L652.7 344.2L653.7 344.5L654.7 344.8L655.7 345.1L656.7 345.4L657.7 345.6L658.7 345.9L659.7 346.2L660.7 346.5L661.7 346.8L662.7 347.0L663.7 347.3L664.7 347.5L665.7 347.7L666.7 347.9L667.7 348.1L668.7 348.3L669.7 348.5L670.7 348.6L671.7 348.8L672.7 348.9L673.7 349.1L674.7 349.2L675.7 349.3L676.7 349.5L677.7 349.6L678.7 349.7L679.7 349.8L680.7 349.9L681.7 350.0L682.7 350.1L683.7 350.2L684.7 350.3L685.7 350.4L686.7 350.4L687.7 350.4L688.7 350.5L689.7 350.5L690.7 350.5L691.7 350.5L692.7 350.5L693.7 350.5L694.7 350.5L695.7 350.5L696.7 350.5L697.7 350.5L698.7 350.5L699.7 350.6L700.7 350.6L701.7 350.6L702.7 350.6L703.7 350.6L704.7 350.6L705.7 350.6L706.7 350.6L707.7 350.6L708.7 350.6L709.7 350.6L710.7 350.6L711.7 350.6L712.7 350.6L713.7 350.6L714.7 350.6L715.7 350.6L716.7 350.6L717.7 350.6L718.7 350.6L719.7 350.6L720.7 350.7L721.7 350.7L722.7 350.7L723.7 350.7L724.7 350.7L725.7 350.7L726.7 350.7L727.7 350.7L728.7 350.7L729.7 350.7L730.7 350.7L731.7 350.6L732.7 350.4L733.7 350.2L734.7 349.9L735.7 349.6L736.7 349.3L737.7 348.9L738.7 348.4L739.7 348.0L740.7 347.6L741.7 347.1L742.7 346.4L743.7 345.4L744.7 344.0L745.7 342.3L746.7 340.3L747.7 338.2L748.7 335.8L749.7 333.2L750.7 330.8L751.7 328.6L752.7 326.5L753.7 324.2L754.7 321.6L755.7 319.3L756.7 317.6L757.7 316.3L758.7 315.3L759.7 314.6L760.7 314.1L761.7 313.8L762.0 313.8L762.7 313.9L763.7 314.2L764.7 314.7L765.7 315.2L766.7 315.8L767.7 316.5L768.7 317.2L769.7 318.1L770.7 318.9L771.7 319.7L772.7 320.5L773.7 321.3L774.7 322.1L775.7 322.9L776.7 323.5L777.7 323.8L778.7 323.8L779.7 323.7L780.7 323.5L781.7 323.2L782.7 322.9L783.7 322.5L784.7 322.2L785.7 321.8L786.7 321.4L787.7 321.0L788.7 320.5L789.7 319.9L790.7 319.3L791.7 318.5L792.7 317.3L793.7 315.9L794.7 314.4L795.7 312.8L796.7 311.3L797.7 309.7L798.7 308.0L799.7 306.2L800.7 304.5L801.7 302.7L802.7 301.0L803.7 299.2L804.7 297.4L805.7 295.8L806.7 294.2L807.7 292.9L808.7 291.6L809.7 290.6L810.7 289.9L811.7 289.4L812.6 289.3L812.7 289.3L813.7 289.6L814.7 290.1L815.7 291.0L816.7 292.1L817.7 293.5L818.7 295.1L819.7 296.9L820.7 298.8L821.7 301.0L822.7 303.4L823.7 305.9L824.7 308.5L825.7 311.0L826.7 313.3L827.7 315.6L828.7 317.9L829.7 320.3L830.7 322.6L831.7 324.8L832.7 326.8L833.7 328.7L834.7 330.3L835.7 331.8L836.7 333.1L837.7 334.4L838.7 335.6L839.7 336.7L840.7 337.8L841.7 338.8L842.7 339.7L843.7 340.6L844.7 341.5L845.7 342.3L846.7 343.1L847.7 343.8L848.7 344.6L849.7 345.2L850.7 345.8L851.7 346.4L852.7 346.9L853.7 347.4L854.7 347.9L855.7 348.4L856.7 348.8L857.7 349.3L858.7 349.7L859.7 350.1L860.7 350.4L861.7 350.7L862.7 351.0L863.7 351.2L864.7 351.3L865.7 351.4L866.7 351.5L867.7 351.6L868.7 351.7L869.7 351.7L870.7 351.8L871.7 351.9L872.7 351.9L873.7 352.0L874.7 352.0L875.7 352.1L876.7 352.1L877.7 352.1L878.7 352.2L879.7 352.2L880.7 352.3L881.7 352.3L882.7 352.3L883.7 352.3L884.7 352.4L885.7 352.4L886.7 352.4L887.7 352.5L888.7 352.5L889.7 352.5L890.7 352.5L891.7 352.6L892.7 352.6L893.7 352.6L894.7 352.6L895.7 352.6L896.7 352.7L897.7 352.7L898.7 352.7L899.7 352.7L900.7 352.7L901.7 352.7L902.7 352.7L903.7 352.8L904.7 352.8L905.7 352.8L905.7 353.3" fill="#ff00ff" stroke="#ff00ff" stroke-width="1.2" stroke-linejoin="miter" stroke-miterlimit="3"/>
<path d="M185.6 369.8L185.6 353.2L186.6 352.8L187.6 352.4L188.6 352.0L189.6 351.7L190.6 351.4L191.6 351.1L192.6 350.8L193.6 350.6L194.6 350.4L195.6 350.2L196.6 350.0L197.6 349.9L198.6 349.8L199.6 349.6L200.6 349.5L201.6 349.4L202.6 349.3L203.6 349.2L204.6 349.1L205.6 349.1L206.6 349.0L207.6 349.0L208.6 349.0L209.6 349.0L210.6 349.0L211.6 348.9L212.6 348.9L213.6 348.9L214.6 348.9L215.6 348.9L216.6 348.9L217.6 348.9L218.6 348.9L219.6 348.9L220.6 348.9L221.6 348.9L222.6 348.9L223.6 348.9L224.6 348.9L225.6 348.9L226.6 348.9L227.6 348.9L228.6 348.9L229.6 348.8L230.6 348.8L231.6 348.8L232.6 348.8L233.6 348.8L234.6 348.8L235.6 348.8L236.6 348.8L237.6 348.8L238.6 348.8L239.6 348.8L240.6 348.8L241.6 348.8L242.6 348.8L243.6 348.8L244.6 348.8L245.6 348.8L246.6 348.8L247.6 348.8L248.6 348.8L249.6 348.8L250.6 348.8L251.6 348.8L252.6 348.8L253.6 348.8L254.6 348.7L255.6 348.7L256.6 348.7L257.6 348.7L258.6 348.7L259.6 348.7L260.6 348.7L261.6 348.7L262.6 348.7L263.6 348.7L264.6 348.7L265.6 348.7L266.6 348.7L267.6 348.7L268.6 348.7L269.6 348.6L270.6 348.6L271.6 348.6L272.6 348.6L273.6 348.6L274.6 348.5L275.6 348.5L276.6 348.5L277.6 348.4L278.6 348.4L279.6 348.2L280.6 347.9L281.6 347.5L282.6 347.0L283.6 346.5L284.6 346.0L285.6 345.4L286.6 344.9L287.6 344.3L288.6 343.7L289.6 343.0L290.6 342.3L291.6 341.6L292.6 340.9L293.6 340.1L294.6 339.3L295.6 338.4L296.6 337.7L297.6 337.0L298.6 336.3L299.6 335.5L300.6 334.8L301.6 334.2L302.6 334.0L302.7 334.0L303.6 334.7L304.4 335.3L304.6 335.3L305.6 335.2L306.6 334.9L307.6 334.6L308.6 334.2L309.6 333.7L310.6 333.2L311.6 332.6L312.6 332.0L313.6 331.4L314.6 330.8L315.6 329.9L316.6 328.5L317.6 326.7L318.6 324.0L319.6 320.6L320.6 316.6L321.6 311.9L322.6 306.3L323.6 300.1L324.6 292.8L325.6 284.7L326.6 277.1L327.6 269.5L328.6 262.1L329.6 254.7L330.6 247.3L331.6 239.8L332.6 232.3L333.6 224.4L334.6 216.5L335.6 209.3L336.6 203.0L337.6 197.8L338.6 193.9L339.6 190.8L340.6 188.2L341.6 186.0L342.6 184.4L343.6 183.6L344.6 183.1L345.6 182.7L346.6 182.3L347.6 181.9L348.6 181.4L349.6 180.9L350.6 180.3L351.6 179.5L352.6 177.9L353.6 175.6L354.6 173.3L355.6 170.8L356.6 168.4L357.6 166.2L358.6 164.0L359.6 161.9L360.6 160.1L361.6 158.4L362.6 156.9L363.6 155.7L364.5 154.8L364.6 154.7L365.0 154.2L365.6 154.7L366.6 155.3L367.6 156.1L368.6 158.4L369.6 162.1L370.6 167.9L371.6 174.1L372.6 180.5L373.6 186.6L374.6 192.4L375.6 198.2L376.6 204.0L377.6 211.6L378.6 220.8L379.6 230.3L380.6 239.1L381.6 247.6L382.6 255.9L383.6 263.8L384.6 270.8L385.6 276.8L386.6 282.3L387.6 287.3L388.6 292.0L389.6 296.6L390.6 301.1L391.6 305.5L392.6 309.5L393.6 313.1L394.6 316.2L395.6 319.1L396.6 321.7L397.6 324.0L398.6 326.0L399.6 327.9L400.6 329.7L401.6 331.1L402.6 332.2L403.6 333.0L404.6 333.7L405.6 334.3L406.6 334.8L407.6 335.1L408.3 335.2L408.6 335.2L409.6 334.9L410.6 334.3L411.6 333.3L412.6 332.2L413.6 330.8L414.6 328.9L415.6 325.6L416.6 321.5L417.6 317.3L418.6 312.3L419.6 306.8L420.6 300.9L421.6 294.6L422.6 287.6L423.6 280.4L424.6 272.9L425.6 265.2L426.6 257.0L427.6 248.1L428.6 238.2L429.6 226.8L430.6 212.5L431.6 198.8L432.6 186.2L433.6 174.1L434.6 162.5L435.6 151.4L436.6 140.8L437.6 131.2L438.6 122.8L439.6 114.9L440.6 107.2L441.6 100.3L442.6 93.9L443.6 89.2L444.6 85.7L445.6 82.9L446.6 81.0L447.5 79.5L447.6 79.4L448.1 78.7L448.6 79.2L448.7 79.3L449.6 79.8L450.6 80.5L451.6 82.4L452.6 85.1L453.6 88.2L454.6 92.1L455.6 96.0L456.6 99.6L457.6 103.3L458.6 107.0L459.6 110.8L460.6 114.6L461.6 118.5L462.6 122.7L463.6 126.2L464.6 128.8L465.6 131.1L466.6 133.4L467.6 135.9L468.6 138.8L469.6 142.0L470.6 145.2L471.6 148.2L472.6 150.9L473.6 153.3L474.6 155.7L475.6 158.5L476.6 162.1L477.6 167.1L478.6 172.3L479.6 177.6L480.6 183.0L481.6 188.5L482.6 194.1L483.6 200.0L484.6 205.9L485.6 211.5L486.6 216.7L487.6 221.6L488.6 226.6L489.6 231.7L490.6 236.9L491.6 242.7L492.6 249.4L493.6 256.1L494.6 262.5L495.6 268.6L496.6 274.5L497.6 280.2L498.6 285.8L499.6 290.5L500.6 294.0L501.6 296.9L502.6 299.6L503.6 302.1L504.6 304.4L505.6 306.8L506.6 309.2L507.6 312.0L508.6 315.1L509.6 318.4L510.6 321.7L511.6 324.9L512.6 327.7L513.6 330.1L514.6 332.3L515.6 334.3L516.6 336.2L517.6 338.0L518.6 339.6L519.6 341.0L520.6 342.4L521.6 343.7L522.6 345.0L523.6 346.1L524.6 347.3L525.6 348.3L526.6 349.3L527.6 350.1L528.6 350.9L529.6 351.7L530.6 352.4L531.6 353.0L532.6 353.6L533.6 354.1L534.6 354.6L535.6 355.1L536.6 355.6L537.6 356.0L538.6 356.4L539.6 356.8L540.6 357.2L541.6 357.6L542.6 357.9L543.6 358.2L544.6 358.5L545.6 358.8L546.6 359.0L547.6 359.3L548.6 359.5L549.6 359.7L550.6 359.9L551.6 360.0L552.6 360.2L553.6 360.4L554.6 360.5L555.6 360.6L556.6 360.7L557.6 360.9L558.6 361.0L559.6 361.1L560.6 361.2L561.6 361.2L562.6 361.3L563.6 361.3L564.6 361.3L565.6 361.3L566.6 361.3L567.6 361.3L568.6 361.3L569.6 361.3L570.6 361.2L571.6 361.2L572.6 361.2L573.6 361.1L574.6 361.1L575.6 361.0L576.6 360.9L577.6 360.9L578.6 360.8L579.6 360.7L580.6 360.6L581.6 360.3L582.6 359.9L583.6 359.4L584.6 358.9L585.6 358.4L586.6 357.8L587.6 357.3L588.6 356.8L589.6 356.2L590.6 355.6L591.6 354.9L592.6 354.3L593.6 353.7L594.6 353.1L595.6 352.5L596.6 352.0L597.6 351.4L598.6 350.9L599.6 350.4L600.6 350.1L601.6 349.8L602.6 349.5L603.6 349.3L604.6 349.1L605.6 349.0L606.6 348.8L607.6 348.8L608.6 348.7L609.6 348.8L610.6 348.9L611.6 349.1L612.6 349.4L613.6 349.8L614.6 350.4L615.6 350.9L616.6 351.4L617.6 351.9L618.6 352.4L619.6 352.9L620.6 353.4L621.6 353.9L622.6 354.3L623.6 354.8L624.6 355.2L625.6 355.7L626.6 356.1L627.6 356.5L628.6 356.9L629.6 357.3L630.6 357.7L631.6 358.1L632.6 358.5L633.6 358.8L634.6 359.2L635.6 359.5L636.6 359.9L637.6 360.2L638.6 360.5L639.6 360.8L640.6 361.1L641.6 361.4L642.6 361.7L643.6 362.0L644.6 362.3L645.6 362.6L646.6 362.9L647.6 363.2L648.6 363.4L649.6 363.7L650.6 363.9L651.6 364.1L652.6 364.4L653.6 364.6L654.6 364.8L655.6 364.9L656.6 365.1L657.6 365.2L658.6 365.4L659.6 365.5L660.6 365.7L661.6 365.8L662.6 365.9L663.6 366.1L664.6 366.2L665.6 366.3L666.6 366.4L667.6 366.5L668.6 366.6L669.6 366.7L670.6 366.8L671.6 366.8L672.6 366.9L673.6 366.9L674.6 366.9L675.6 366.9L676.6 366.9L677.6 367.0L678.6 367.0L679.6 367.0L680.6 367.0L681.6 367.0L682.6 367.0L683.6 367.0L684.6 367.0L685.6 367.0L686.6 367.0L687.6 367.0L688.6 367.0L689.6 367.1L690.6 367.1L691.6 367.1L692.6 367.1L693.6 367.1L694.6 367.1L695.6 367.1L696.6 367.1L697.6 367.1L698.6 367.1L699.6 367.1L700.6 367.1L701.6 367.1L702.6 367.1L703.6 367.1L704.6 367.1L705.6 367.1L706.6 367.1L707.6 367.1L708.6 367.1L709.6 367.1L710.6 367.1L711.6 367.1L712.6 367.1L713.6 367.1L714.6 367.1L715.6 367.1L716.6 367.1L717.6 367.1L718.6 366.9L719.6 366.7L720.6 366.4L721.6 366.1L722.6 365.7L723.6 365.3L724.6 364.9L725.6 364.4L726.6 364.0L727.6 363.5L728.6 362.8L729.6 361.8L730.6 360.4L731.6 358.6L732.6 356.6L733.6 354.5L734.6 352.0L735.6 349.3L736.6 346.9L737.6 344.7L738.6 342.5L739.6 340.1L740.6 337.6L741.6 335.2L742.6 333.5L743.6 332.1L744.6 331.1L745.6 330.4L746.6 329.9L747.6 329.6L747.9 329.6L748.6 329.7L749.6 330.1L750.6 330.5L751.6 331.0L752.6 331.7L753.6 332.3L754.6 333.1L755.6 333.9L756.6 334.8L757.6 335.7L758.6 336.4L759.6 337.2L760.6 338.1L761.6 338.8L762.6 339.4L763.6 339.8L764.6 339.8L765.6 339.7L766.6 339.5L767.6 339.2L768.6 338.8L769.6 338.5L770.6 338.1L771.6 337.8L772.6 337.4L773.6 336.9L774.6 336.4L775.6 335.9L776.6 335.2L777.6 334.4L778.6 333.2L779.6 331.8L780.6 330.2L781.6 328.6L782.6 327.1L783.6 325.4L784.6 323.7L785.6 321.9L786.6 320.1L787.6 318.3L788.6 316.6L789.6 314.8L790.6 313.0L791.6 311.2L792.6 309.7L793.6 308.3L794.6 307.0L795.6 306.0L796.6 305.3L797.6 304.8L798.5 304.6L798.6 304.6L799.6 304.9L800.6 305.5L801.6 306.4L802.6 307.5L803.6 308.9L804.6 310.6L805.6 312.4L806.6 314.4L807.6 316.6L808.6 319.0L809.6 321.6L810.6 324.2L811.6 326.7L812.6 329.1L813.6 331.5L814.6 333.8L815.6 336.2L816.6 338.5L817.6 340.8L818.6 342.9L819.6 344.7L820.6 346.4L821.6 347.9L822.6 349.3L823.6 350.6L824.6 351.8L825.6 353.0L826.6 354.0L827.6 355.0L828.6 356.0L829.6 356.9L830.6 357.8L831.6 358.6L832.6 359.4L833.6 360.2L834.6 360.9L835.6 361.6L836.6 362.2L837.6 362.8L838.6 363.3L839.6 363.8L840.6 364.3L841.6 364.8L842.6 365.3L843.6 365.7L844.6 366.1L845.6 366.5L846.6 366.9L847.6 367.2L848.6 367.4L849.6 367.6L850.6 367.8L851.6 367.9L852.6 368.0L853.6 368.1L854.6 368.2L855.6 368.2L856.6 368.3L857.6 368.4L858.6 368.4L859.6 368.5L860.6 368.5L861.6 368.6L862.6 368.6L863.6 368.6L864.6 368.7L865.6 368.7L866.6 368.8L867.6 368.8L868.6 368.8L869.6 368.8L870.6 368.9L871.6 368.9L872.6 368.9L873.6 369.0L874.6 369.0L875.6 369.0L876.6 369.0L877.6 369.1L878.6 369.1L879.6 369.1L880.6 369.1L881.6 369.2L882.6 369.2L883.6 369.2L884.6 369.2L885.6 369.2L886.6 369.2L887.6 369.2L888.6 369.3L889.6 369.3L890.6 369.3L891.6 369.3L891.6 369.8" fill="#008000" stroke="#109010" stroke-width="1.2" stroke-linejoin="miter" stroke-miterlimit="3"/>
<path d="M171.5 386.3L171.5 370.1L172.5 369.7L173.5 369.3L174.5 368.9L175.5 368.6L176.5 368.3L177.5 368.0L178.5 367.8L179.5 367.5L180.5 367.3L181.5 367.1L182.5 367.0L183.5 366.8L184.5 366.7L185.5 366.6L186.5 366.4L187.5 366.3L188.5 366.2L189.5 366.1L190.5 366.1L191.5 366.0L192.5 366.0L193.5 365.9L194.5 365.9L195.5 365.9L196.5 365.9L197.5 365.9L198.5 365.9L199.5 365.9L200.5 365.9L201.5 365.9L202.5 365.9L203.5 365.9L204.5 365.8L205.5 365.8L206.5 365.8L207.5 365.8L208.5 365.8L209.5 365.8L210.5 365.8L211.5 365.8L212.5 365.8L213.5 365.8L214.5 365.8L215.5 365.8L216.5 365.8L217.5 365.8L218.5 365.8L219.5 365.8L220.5 365.8L221.5 365.8L222.5 365.8L223.5 365.8L224.5 365.8L225.5 365.8L226.5 365.8L227.5 365.8L228.5 365.8L229.5 365.8L230.5 365.7L231.5 365.7L232.5 365.7L233.5 365.7L234.5 365.7L235.5 365.7L236.5 365.7L237.5 365.7L238.5 365.7L239.5 365.7L240.5 365.7L241.5 365.7L242.5 365.7L243.5 365.7L244.5 365.7L245.5 365.7L246.5 365.7L247.5 365.7L248.5 365.7L249.5 365.7L250.5 365.7L251.5 365.6L252.5 365.6L253.5 365.6L254.5 365.6L255.5 365.6L256.5 365.6L257.5 365.6L258.5 365.5L259.5 365.5L260.5 365.5L261.5 365.5L262.5 365.4L263.5 365.4L264.5 365.3L265.5 365.2L266.5 364.9L267.5 364.5L268.5 364.0L269.5 363.5L270.5 363.0L271.5 362.5L272.5 361.9L273.5 361.3L274.5 360.7L275.5 360.1L276.5 359.4L277.5 358.8L278.5 358.0L279.5 357.2L280.5 356.4L281.5 355.6L282.5 354.9L283.5 354.2L284.5 353.5L285.5 352.7L286.5 352.0L287.5 351.5L288.5 351.3L288.6 351.3L289.5 352.0L290.3 352.6L290.5 352.6L291.5 352.4L292.5 352.2L293.5 351.9L294.5 351.5L295.5 351.0L296.5 350.4L297.5 349.9L298.5 349.3L299.5 348.8L300.5 348.1L301.5 347.2L302.5 345.9L303.5 344.1L304.5 341.5L305.5 338.1L306.5 334.2L307.5 329.6L308.5 324.2L309.5 318.0L310.5 310.9L311.5 303.0L312.5 295.5L313.5 288.1L314.5 280.8L315.5 273.6L316.5 266.3L317.5 259.0L318.5 251.7L319.5 243.9L320.5 236.2L321.5 229.1L322.5 223.0L323.5 217.9L324.5 214.1L325.5 211.0L326.5 208.5L327.5 206.3L328.5 204.7L329.5 204.0L330.5 203.5L331.5 203.1L332.5 202.7L333.5 202.3L334.5 201.8L335.5 201.4L336.5 200.8L337.5 200.0L338.5 198.4L339.5 196.1L340.5 193.9L341.5 191.5L342.5 189.1L343.5 186.9L344.5 184.8L345.5 182.8L346.5 181.0L347.5 179.3L348.5 177.9L349.5 176.7L350.4 175.8L350.5 175.7L350.9 175.2L351.5 175.7L352.5 176.2L353.5 177.1L354.5 179.4L355.5 182.9L356.5 188.6L357.5 194.7L358.5 200.9L359.5 206.9L360.5 212.6L361.5 218.3L362.5 224.0L363.5 231.4L364.5 240.4L365.5 249.7L366.5 258.3L367.5 266.6L368.5 274.8L369.5 282.5L370.5 289.4L371.5 295.3L372.5 300.6L373.5 305.5L374.5 310.1L375.5 314.6L376.5 319.1L377.5 323.3L378.5 327.3L379.5 330.8L380.5 333.8L381.5 336.7L382.5 339.2L383.5 341.5L384.5 343.4L385.5 345.2L386.5 346.9L387.5 348.3L388.5 349.3L389.5 350.1L390.5 350.8L391.5 351.4L392.5 351.8L393.5 352.1L394.2 352.1L394.5 352.1L395.5 351.8L396.5 351.1L397.5 350.2L398.5 349.0L399.5 347.6L400.5 345.7L401.5 342.4L402.5 338.3L403.5 334.0L404.5 329.1L405.5 323.6L406.5 317.7L407.5 311.3L408.5 304.4L409.5 297.2L410.5 289.7L411.5 282.1L412.5 273.9L413.5 265.0L414.5 255.1L415.5 243.8L416.5 229.5L417.5 215.9L418.5 203.2L419.5 191.2L420.5 179.7L421.5 168.6L422.5 158.0L423.5 148.4L424.5 140.1L425.5 132.1L426.5 124.5L427.5 117.6L428.5 111.3L429.5 106.6L430.5 103.0L431.5 100.3L432.5 98.3L433.4 96.9L433.5 96.8L434.0 96.1L434.5 96.6L434.6 96.7L435.5 97.2L436.5 97.8L437.5 99.7L438.5 102.5L439.5 105.6L440.5 109.4L441.5 113.3L442.5 117.0L443.5 120.6L444.5 124.3L445.5 128.1L446.5 131.9L447.5 135.8L448.5 139.9L449.5 143.4L450.5 146.1L451.5 148.4L452.5 150.6L453.5 153.1L454.5 156.0L455.5 159.2L456.5 162.3L457.5 165.4L458.5 168.1L459.5 170.4L460.5 172.9L461.5 175.6L462.5 179.2L463.5 184.2L464.5 189.4L465.5 194.7L466.5 200.1L467.5 205.5L468.5 211.1L469.5 217.0L470.5 222.9L471.5 228.5L472.5 233.6L473.5 238.6L474.5 243.6L475.5 248.6L476.5 253.8L477.5 259.6L478.5 266.2L479.5 273.0L480.5 279.3L481.5 285.4L482.5 291.3L483.5 297.0L484.5 302.6L485.5 307.2L486.5 310.7L487.5 313.6L488.5 316.3L489.5 318.8L490.5 321.1L491.5 323.5L492.5 325.9L493.5 328.7L494.5 331.8L495.5 335.1L496.5 338.4L497.5 341.5L498.5 344.4L499.5 346.8L500.5 348.9L501.5 351.0L502.5 352.8L503.5 354.6L504.5 356.2L505.5 357.6L506.5 359.0L507.5 360.3L508.5 361.6L509.5 362.7L510.5 363.8L511.5 364.9L512.5 365.8L513.5 366.7L514.5 367.5L515.5 368.2L516.5 368.9L517.5 369.5L518.5 370.1L519.5 370.7L520.5 371.2L521.5 371.7L522.5 372.1L523.5 372.6L524.5 373.0L525.5 373.4L526.5 373.8L527.5 374.1L528.5 374.5L529.5 374.8L530.5 375.1L531.5 375.3L532.5 375.6L533.5 375.8L534.5 376.0L535.5 376.2L536.5 376.4L537.5 376.6L538.5 376.8L539.5 376.9L540.5 377.0L541.5 377.2L542.5 377.3L543.5 377.4L544.5 377.5L545.5 377.6L546.5 377.7L547.5 377.8L548.5 377.8L549.5 377.9L550.5 377.9L551.5 377.9L552.5 377.9L553.5 377.8L554.5 377.8L555.5 377.8L556.5 377.8L557.5 377.7L558.5 377.7L559.5 377.7L560.5 377.6L561.5 377.5L562.5 377.5L563.5 377.4L564.5 377.4L565.5 377.3L566.5 377.1L567.5 376.9L568.5 376.5L569.5 376.0L570.5 375.5L571.5 374.9L572.5 374.4L573.5 373.9L574.5 373.3L575.5 372.7L576.5 372.1L577.5 371.5L578.5 370.9L579.5 370.3L580.5 369.7L581.5 369.1L582.5 368.5L583.5 368.0L584.5 367.4L585.5 367.0L586.5 366.7L587.5 366.4L588.5 366.1L589.5 365.9L590.5 365.7L591.5 365.5L592.5 365.4L593.5 365.3L594.5 365.3L595.5 365.3L596.5 365.5L597.5 365.7L598.5 366.0L599.5 366.4L600.5 367.0L601.5 367.5L602.5 368.0L603.5 368.5L604.5 369.0L605.5 369.5L606.5 370.0L607.5 370.4L608.5 370.9L609.5 371.4L610.5 371.8L611.5 372.2L612.5 372.6L613.5 373.1L614.5 373.5L615.5 373.9L616.5 374.3L617.5 374.6L618.5 375.0L619.5 375.4L620.5 375.7L621.5 376.1L622.5 376.4L623.5 376.8L624.5 377.1L625.5 377.4L626.5 377.7L627.5 378.0L628.5 378.3L629.5 378.6L630.5 378.9L631.5 379.1L632.5 379.4L633.5 379.7L634.5 380.0L635.5 380.2L636.5 380.5L637.5 380.7L638.5 380.9L639.5 381.1L640.5 381.3L641.5 381.5L642.5 381.6L643.5 381.8L644.5 381.9L645.5 382.0L646.5 382.2L647.5 382.3L648.5 382.5L649.5 382.6L650.5 382.7L651.5 382.8L652.5 382.9L653.5 383.0L654.5 383.1L655.5 383.2L656.5 383.3L657.5 383.4L658.5 383.4L659.5 383.4L660.5 383.5L661.5 383.5L662.5 383.5L663.5 383.5L664.5 383.5L665.5 383.5L666.5 383.5L667.5 383.5L668.5 383.5L669.5 383.5L670.5 383.5L671.5 383.6L672.5 383.6L673.5 383.6L674.5 383.6L675.5 383.6L676.5 383.6L677.5 383.6L678.5 383.6L679.5 383.6L680.5 383.6L681.5 383.6L682.5 383.6L683.5 383.6L684.5 383.6L685.5 383.6L686.5 383.6L687.5 383.6L688.5 383.6L689.5 383.6L690.5 383.6L691.5 383.6L692.5 383.7L693.5 383.7L694.5 383.7L695.5 383.7L696.5 383.7L697.5 383.7L698.5 383.7L699.5 383.7L700.5 383.7L701.5 383.7L702.5 383.7L703.5 383.6L704.5 383.4L705.5 383.2L706.5 382.9L707.5 382.6L708.5 382.2L709.5 381.8L710.5 381.4L711.5 381.0L712.5 380.5L713.5 380.0L714.5 379.3L715.5 378.4L716.5 377.0L717.5 375.2L718.5 373.1L719.5 371.1L720.5 368.6L721.5 365.9L722.5 363.5L723.5 361.3L724.5 359.1L725.5 356.8L726.5 354.2L727.5 351.8L728.5 350.1L729.5 348.8L730.5 347.7L731.5 347.1L732.5 346.5L733.5 346.2L733.8 346.2L734.5 346.3L735.5 346.7L736.5 347.2L737.5 347.7L738.5 348.3L739.5 349.0L740.5 349.7L741.5 350.6L742.5 351.4L743.5 352.3L744.5 353.0L745.5 353.8L746.5 354.7L747.5 355.4L748.5 356.1L749.5 356.4L750.5 356.4L751.5 356.3L752.5 356.1L753.5 355.8L754.5 355.4L755.5 355.1L756.5 354.7L757.5 354.4L758.5 354.0L759.5 353.6L760.5 353.1L761.5 352.5L762.5 351.8L763.5 351.0L764.5 349.8L765.5 348.4L766.5 346.9L767.5 345.3L768.5 343.7L769.5 342.1L770.5 340.3L771.5 338.6L772.5 336.8L773.5 335.0L774.5 333.3L775.5 331.5L776.5 329.7L777.5 327.9L778.5 326.4L779.5 325.0L780.5 323.7L781.5 322.7L782.5 322.0L783.5 321.5L784.4 321.3L784.5 321.3L785.5 321.7L786.5 322.2L787.5 323.1L788.5 324.2L789.5 325.6L790.5 327.3L791.5 329.1L792.5 331.1L793.5 333.3L794.5 335.7L795.5 338.2L796.5 340.8L797.5 343.4L798.5 345.8L799.5 348.1L800.5 350.5L801.5 352.8L802.5 355.1L803.5 357.4L804.5 359.5L805.5 361.3L806.5 363.0L807.5 364.5L808.5 365.9L809.5 367.2L810.5 368.4L811.5 369.5L812.5 370.6L813.5 371.6L814.5 372.5L815.5 373.4L816.5 374.3L817.5 375.2L818.5 376.0L819.5 376.7L820.5 377.5L821.5 378.1L822.5 378.8L823.5 379.3L824.5 379.9L825.5 380.4L826.5 380.8L827.5 381.3L828.5 381.8L829.5 382.2L830.5 382.7L831.5 383.0L832.5 383.4L833.5 383.7L834.5 384.0L835.5 384.2L836.5 384.3L837.5 384.4L838.5 384.5L839.5 384.6L840.5 384.7L841.5 384.8L842.5 384.8L843.5 384.9L844.5 384.9L845.5 385.0L846.5 385.0L847.5 385.1L848.5 385.1L849.5 385.2L850.5 385.2L851.5 385.2L852.5 385.3L853.5 385.3L854.5 385.3L855.5 385.4L856.5 385.4L857.5 385.4L858.5 385.5L859.5 385.5L860.5 385.5L861.5 385.5L862.5 385.6L863.5 385.6L864.5 385.6L865.5 385.6L866.5 385.7L867.5 385.7L868.5 385.7L869.5 385.7L870.5 385.7L871.5 385.7L872.5 385.8L873.5 385.8L874.5 385.8L875.5 385.8L876.5 385.8L877.5 385.8L877.5 386.3" fill="#000080" stroke="#000090" stroke-width="1.2" stroke-linejoin="miter" stroke-miterlimit="3"/>
<path d="M157.4 402.8L157.4 386.9L158.4 386.5L159.4 386.1L160.4 385.7L161.4 385.4L162.4 385.1L163.4 384.9L164.4 384.6L165.4 384.4L166.4 384.2L167.4 384.0L168.4 383.8L169.4 383.7L170.4 383.6L171.4 383.4L172.4 383.3L173.4 383.2L174.4 383.1L175.4 383.0L176.4 383.0L177.4 382.9L178.4 382.9L179.4 382.8L180.4 382.8L181.4 382.8L182.4 382.8L183.4 382.8L184.4 382.8L185.4 382.8L186.4 382.8L187.4 382.8L188.4 382.8L189.4 382.7L190.4 382.7L191.4 382.7L192.4 382.7L193.4 382.7L194.4 382.7L195.4 382.7L196.4 382.7L197.4 382.7L198.4 382.7L199.4 382.7L200.4 382.7L201.4 382.7L202.4 382.7L203.4 382.7L204.4 382.7L205.4 382.7L206.4 382.7L207.4 382.7L208.4 382.7L209.4 382.7L210.4 382.7L211.4 382.7L212.4 382.7L213.4 382.7L214.4 382.7L215.4 382.6L216.4 382.6L217.4 382.6L218.4 382.6L219.4 382.6L220.4 382.6L221.4 382.6L222.4 382.6L223.4 382.6L224.4 382.6L225.4 382.6L226.4 382.6L227.4 382.6L228.4 382.6L229.4 382.6L230.4 382.6L231.4 382.6L232.4 382.6L233.4 382.6L234.4 382.6L235.4 382.6L236.4 382.5L237.4 382.5L238.4 382.5L239.4 382.5L240.4 382.5L241.4 382.5L242.4 382.5L243.4 382.5L244.4 382.4L245.4 382.4L246.4 382.4L247.4 382.4L248.4 382.3L249.4 382.3L250.4 382.2L251.4 382.1L252.4 381.8L253.4 381.4L254.4 380.9L255.4 380.4L256.4 379.9L257.4 379.4L258.4 378.9L259.4 378.3L260.4 377.7L261.4 377.1L262.4 376.4L263.4 375.8L264.4 375.0L265.4 374.3L266.4 373.5L267.4 372.7L268.4 372.0L269.4 371.3L270.4 370.6L271.4 369.8L272.4 369.2L273.4 368.7L274.4 368.4L274.5 368.4L275.4 369.1L276.2 369.7L276.4 369.7L277.4 369.6L278.4 369.3L279.4 369.0L280.4 368.6L281.4 368.1L282.4 367.6L283.4 367.1L284.4 366.5L285.4 366.0L286.4 365.3L287.4 364.5L288.4 363.2L289.4 361.4L290.4 358.8L291.4 355.5L292.4 351.7L293.4 347.2L294.4 341.8L295.4 335.8L296.4 328.8L297.4 321.1L298.4 313.7L299.4 306.4L300.4 299.3L301.4 292.2L302.4 285.0L303.4 277.9L304.4 270.6L305.4 263.0L306.4 255.4L307.4 248.5L308.4 242.5L309.4 237.5L310.4 233.8L311.4 230.7L312.4 228.3L313.4 226.2L314.4 224.6L315.4 223.8L316.4 223.3L317.4 223.0L318.4 222.6L319.4 222.2L320.4 221.7L321.4 221.3L322.4 220.7L323.4 219.9L324.4 218.4L325.4 216.1L326.4 213.9L327.4 211.6L328.4 209.3L329.4 207.1L330.4 205.0L331.4 203.0L332.4 201.3L333.4 199.6L334.4 198.2L335.4 197.0L336.3 196.2L336.4 196.0L336.8 195.6L337.4 196.1L338.4 196.6L339.4 197.4L340.4 199.7L341.4 203.1L342.4 208.7L343.4 214.7L344.4 220.8L345.4 226.7L346.4 232.3L347.4 237.9L348.4 243.5L349.4 250.8L350.4 259.6L351.4 268.7L352.4 277.2L353.4 285.4L354.4 293.4L355.4 300.9L356.4 307.7L357.4 313.5L358.4 318.7L359.4 323.5L360.4 328.1L361.4 332.5L362.4 336.8L363.4 341.0L364.4 344.9L365.4 348.3L366.4 351.3L367.4 354.1L368.4 356.6L369.4 358.8L370.4 360.7L371.4 362.5L372.4 364.2L373.4 365.5L374.4 366.5L375.4 367.3L376.4 367.9L377.4 368.5L378.4 368.9L379.4 369.2L380.1 369.3L380.4 369.2L381.4 368.9L382.4 368.3L383.4 367.3L384.4 366.1L385.4 364.8L386.4 362.9L387.4 359.6L388.4 355.6L389.4 351.4L390.4 346.6L391.4 341.2L392.4 335.4L393.4 329.1L394.4 322.3L395.4 315.2L396.4 307.9L397.4 300.3L398.4 292.3L399.4 283.5L400.4 273.8L401.4 262.7L402.4 248.6L403.4 235.2L404.4 222.8L405.4 211.0L406.4 199.6L407.4 188.7L408.4 178.3L409.4 168.9L410.4 160.7L411.4 152.9L412.4 145.4L413.4 138.6L414.4 132.4L415.4 127.8L416.4 124.3L417.4 121.6L418.4 119.7L419.3 118.3L419.4 118.1L419.9 117.5L420.4 118.0L420.5 118.1L421.4 118.5L422.4 119.2L423.4 121.1L424.4 123.7L425.4 126.8L426.4 130.6L427.4 134.4L428.4 138.0L429.4 141.6L430.4 145.2L431.4 148.9L432.4 152.7L433.4 156.5L434.4 160.5L435.4 164.0L436.4 166.6L437.4 168.9L438.4 171.1L439.4 173.5L440.4 176.4L441.4 179.5L442.4 182.6L443.4 185.6L444.4 188.2L445.4 190.6L446.4 192.9L447.4 195.7L448.4 199.2L449.4 204.1L450.4 209.2L451.4 214.4L452.4 219.7L453.4 225.1L454.4 230.6L455.4 236.3L456.4 242.2L457.4 247.7L458.4 252.7L459.4 257.6L460.4 262.5L461.4 267.4L462.4 272.5L463.4 278.3L464.4 284.8L465.4 291.4L466.4 297.6L467.4 303.7L468.4 309.4L469.4 315.0L470.4 320.5L471.4 325.1L472.4 328.5L473.4 331.3L474.4 334.0L475.4 336.5L476.4 338.8L477.4 341.0L478.4 343.5L479.4 346.2L480.4 349.2L481.4 352.5L482.4 355.7L483.4 358.8L484.4 361.6L485.4 364.0L486.4 366.1L487.4 368.1L488.4 369.9L489.4 371.6L490.4 373.2L491.4 374.6L492.4 376.0L493.4 377.3L494.4 378.5L495.4 379.7L496.4 380.7L497.4 381.8L498.4 382.7L499.4 383.6L500.4 384.4L501.4 385.1L502.4 385.7L503.4 386.3L504.4 386.9L505.4 387.5L506.4 388.0L507.4 388.4L508.4 388.9L509.4 389.3L510.4 389.7L511.4 390.1L512.4 390.5L513.4 390.9L514.4 391.2L515.4 391.5L516.4 391.8L517.4 392.0L518.4 392.3L519.4 392.5L520.4 392.7L521.4 392.9L522.4 393.1L523.4 393.3L524.4 393.4L525.4 393.6L526.4 393.7L527.4 393.8L528.4 393.9L529.4 394.1L530.4 394.2L531.4 394.3L532.4 394.4L533.4 394.4L534.4 394.5L535.4 394.5L536.4 394.5L537.4 394.5L538.4 394.5L539.4 394.5L540.4 394.5L541.4 394.5L542.4 394.4L543.4 394.4L544.4 394.4L545.4 394.3L546.4 394.3L547.4 394.2L548.4 394.2L549.4 394.1L550.4 394.0L551.4 393.9L552.4 393.8L553.4 393.5L554.4 393.1L555.4 392.7L556.4 392.2L557.4 391.6L558.4 391.1L559.4 390.6L560.4 390.1L561.4 389.5L562.4 388.9L563.4 388.3L564.4 387.7L565.4 387.0L566.4 386.5L567.4 385.9L568.4 385.4L569.4 384.8L570.4 384.3L571.4 383.8L572.4 383.5L573.4 383.2L574.4 382.9L575.4 382.7L576.4 382.5L577.4 382.4L578.4 382.3L579.4 382.2L580.4 382.2L581.4 382.2L582.4 382.4L583.4 382.6L584.4 382.8L585.4 383.3L586.4 383.8L587.4 384.3L588.4 384.8L589.4 385.3L590.4 385.8L591.4 386.3L592.4 386.7L593.4 387.2L594.4 387.7L595.4 388.1L596.4 388.6L597.4 389.0L598.4 389.4L599.4 389.8L600.4 390.2L601.4 390.6L602.4 391.0L603.4 391.4L604.4 391.7L605.4 392.1L606.4 392.4L607.4 392.8L608.4 393.1L609.4 393.4L610.4 393.7L611.4 394.0L612.4 394.3L613.4 394.6L614.4 394.9L615.4 395.2L616.4 395.5L617.4 395.8L618.4 396.1L619.4 396.3L620.4 396.6L621.4 396.8L622.4 397.1L623.4 397.3L624.4 397.5L625.4 397.7L626.4 397.9L627.4 398.1L628.4 398.2L629.4 398.4L630.4 398.5L631.4 398.6L632.4 398.8L633.4 398.9L634.4 399.0L635.4 399.2L636.4 399.3L637.4 399.4L638.4 399.5L639.4 399.6L640.4 399.7L641.4 399.8L642.4 399.9L643.4 399.9L644.4 400.0L645.4 400.0L646.4 400.0L647.4 400.0L648.4 400.0L649.4 400.1L650.4 400.1L651.4 400.1L652.4 400.1L653.4 400.1L654.4 400.1L655.4 400.1L656.4 400.1L657.4 400.1L658.4 400.1L659.4 400.1L660.4 400.1L661.4 400.1L662.4 400.2L663.4 400.2L664.4 400.2L665.4 400.2L666.4 400.2L667.4 400.2L668.4 400.2L669.4 400.2L670.4 400.2L671.4 400.2L672.4 400.2L673.4 400.2L674.4 400.2L675.4 400.2L676.4 400.2L677.4 400.2L678.4 400.2L679.4 400.2L680.4 400.2L681.4 400.2L682.4 400.2L683.4 400.2L684.4 400.2L685.4 400.2L686.4 400.2L687.4 400.2L688.4 400.2L689.4 400.2L690.4 400.0L691.4 399.8L692.4 399.5L693.4 399.2L694.4 398.8L695.4 398.4L696.4 398.0L697.4 397.6L698.4 397.2L699.4 396.6L700.4 395.9L701.4 395.0L702.4 393.6L703.4 391.9L704.4 389.9L705.4 387.8L706.4 385.4L707.4 382.8L708.4 380.4L709.4 378.2L710.4 376.1L711.4 373.8L712.4 371.2L713.4 368.9L714.4 367.2L715.4 365.9L716.4 364.9L717.4 364.2L718.4 363.7L719.4 363.4L719.7 363.4L720.4 363.5L721.4 363.9L722.4 364.3L723.4 364.8L724.4 365.4L725.4 366.1L726.4 366.9L727.4 367.7L728.4 368.5L729.4 369.4L730.4 370.1L731.4 370.9L732.4 371.7L733.4 372.5L734.4 373.1L735.4 373.4L736.4 373.5L737.4 373.3L738.4 373.1L739.4 372.8L740.4 372.5L741.4 372.1L742.4 371.8L743.4 371.4L744.4 371.0L745.4 370.6L746.4 370.1L747.4 369.6L748.4 368.9L749.4 368.1L750.4 366.9L751.4 365.6L752.4 364.0L753.4 362.5L754.4 360.9L755.4 359.3L756.4 357.6L757.4 355.9L758.4 354.1L759.4 352.4L760.4 350.7L761.4 348.9L762.4 347.1L763.4 345.4L764.4 343.9L765.4 342.6L766.4 341.3L767.4 340.2L768.4 339.6L769.4 339.1L770.3 338.9L770.4 339.0L771.4 339.3L772.4 339.8L773.4 340.7L774.4 341.8L775.4 343.2L776.4 344.8L777.4 346.6L778.4 348.5L779.4 350.7L780.4 353.1L781.4 355.6L782.4 358.1L783.4 360.6L784.4 363.0L785.4 365.3L786.4 367.6L787.4 369.9L788.4 372.2L789.4 374.4L790.4 376.4L791.4 378.3L792.4 379.9L793.4 381.4L794.4 382.7L795.4 384.0L796.4 385.2L797.4 386.3L798.4 387.4L799.4 388.3L800.4 389.3L801.4 390.2L802.4 391.0L803.4 391.9L804.4 392.7L805.4 393.4L806.4 394.1L807.4 394.8L808.4 395.4L809.4 396.0L810.4 396.5L811.4 397.0L812.4 397.5L813.4 397.9L814.4 398.4L815.4 398.8L816.4 399.2L817.4 399.6L818.4 400.0L819.4 400.3L820.4 400.5L821.4 400.7L822.4 400.9L823.4 401.0L824.4 401.1L825.4 401.2L826.4 401.2L827.4 401.3L828.4 401.4L829.4 401.4L830.4 401.5L831.4 401.5L832.4 401.6L833.4 401.6L834.4 401.7L835.4 401.7L836.4 401.7L837.4 401.8L838.4 401.8L839.4 401.8L840.4 401.9L841.4 401.9L842.4 401.9L843.4 402.0L844.4 402.0L845.4 402.0L846.4 402.0L847.4 402.1L848.4 402.1L849.4 402.1L850.4 402.1L851.4 402.2L852.4 402.2L853.4 402.2L854.4 402.2L855.4 402.2L856.4 402.3L857.4 402.3L858.4 402.3L859.4 402.3L860.4 402.3L861.4 402.3L862.4 402.3L863.4 402.3L863.4 402.8" fill="#8000ff" stroke="#8000ff" stroke-width="1.2" stroke-linejoin="miter" stroke-miterlimit="3"/>
<path d="M143.3 419.3L143.3 403.1L144.3 402.6L145.3 402.2L146.3 401.9L147.3 401.5L148.3 401.2L149.3 400.9L150.3 400.7L151.3 400.5L152.3 400.2L153.3 400.1L154.3 399.9L155.3 399.8L156.3 399.6L157.3 399.5L158.3 399.4L159.3 399.3L160.3 399.2L161.3 399.1L162.3 399.0L163.3 398.9L164.3 398.9L165.3 398.9L166.3 398.9L167.3 398.9L168.3 398.8L169.3 398.8L170.3 398.8L171.3 398.8L172.3 398.8L173.3 398.8L174.3 398.8L175.3 398.8L176.3 398.8L177.3 398.8L178.3 398.8L179.3 398.8L180.3 398.8L181.3 398.8L182.3 398.7L183.3 398.7L184.3 398.7L185.3 398.7L186.3 398.7L187.3 398.7L188.3 398.7L189.3 398.7L190.3 398.7L191.3 398.7L192.3 398.7L193.3 398.7L194.3 398.7L195.3 398.7L196.3 398.7L197.3 398.7L198.3 398.7L199.3 398.7L200.3 398.7L201.3 398.7L202.3 398.7L203.3 398.7L204.3 398.7L205.3 398.7L206.3 398.7L207.3 398.7L208.3 398.7L209.3 398.6L210.3 398.6L211.3 398.6L212.3 398.6L213.3 398.6L214.3 398.6L215.3 398.6L216.3 398.6L217.3 398.6L218.3 398.6L219.3 398.6L220.3 398.6L221.3 398.6L222.3 398.6L223.3 398.6L224.3 398.6L225.3 398.6L226.3 398.5L227.3 398.5L228.3 398.5L229.3 398.5L230.3 398.5L231.3 398.5L232.3 398.4L233.3 398.4L234.3 398.4L235.3 398.3L236.3 398.3L237.3 398.1L238.3 397.8L239.3 397.4L240.3 396.9L241.3 396.4L242.3 395.9L243.3 395.4L244.3 394.8L245.3 394.2L246.3 393.6L247.3 393.0L248.3 392.3L249.3 391.6L250.3 390.9L251.3 390.1L252.3 389.3L253.3 388.5L254.3 387.7L255.3 387.0L256.3 386.3L257.3 385.6L258.3 384.9L259.3 384.3L260.3 384.1L260.4 384.1L261.3 384.8L262.1 385.4L262.3 385.4L263.3 385.3L264.3 385.0L265.3 384.7L266.3 384.3L267.3 383.8L268.3 383.3L269.3 382.7L270.3 382.2L271.3 381.6L272.3 380.9L273.3 380.0L274.3 378.7L275.3 376.9L276.3 374.3L277.3 370.9L278.3 367.0L279.3 362.4L280.3 356.9L281.3 350.7L282.3 343.5L283.3 335.6L284.3 328.1L285.3 320.6L286.3 313.3L287.3 306.0L288.3 298.7L289.3 291.4L290.3 284.0L291.3 276.2L292.3 268.4L293.3 261.3L294.3 255.2L295.3 250.1L296.3 246.2L297.3 243.1L298.3 240.6L299.3 238.4L300.3 236.8L301.3 236.0L302.3 235.5L303.3 235.1L304.3 234.8L305.3 234.3L306.3 233.9L307.3 233.4L308.3 232.8L309.3 232.0L310.3 230.4L311.3 228.1L312.3 225.9L313.3 223.5L314.3 221.1L315.3 218.9L316.3 216.7L317.3 214.7L318.3 212.9L319.3 211.2L320.3 209.8L321.3 208.6L322.2 207.7L322.3 207.6L322.7 207.1L323.3 207.6L324.3 208.1L325.3 209.0L326.3 211.3L327.3 214.8L328.3 220.6L329.3 226.7L330.3 232.9L331.3 238.9L332.3 244.7L333.3 250.4L334.3 256.2L335.3 263.6L336.3 272.6L337.3 282.0L338.3 290.7L339.3 299.0L340.3 307.2L341.3 315.0L342.3 321.9L343.3 327.8L344.3 333.2L345.3 338.1L346.3 342.8L347.3 347.3L348.3 351.8L349.3 356.0L350.3 360.0L351.3 363.5L352.3 366.6L353.3 369.4L354.3 372.0L355.3 374.3L356.3 376.2L357.3 378.1L358.3 379.8L359.3 381.2L360.3 382.3L361.3 383.0L362.3 383.7L363.3 384.3L364.3 384.8L365.3 385.1L366.0 385.2L366.3 385.1L367.3 384.8L368.3 384.2L369.3 383.2L370.3 382.1L371.3 380.7L372.3 378.8L373.3 375.5L374.3 371.5L375.3 367.2L376.3 362.3L377.3 356.8L378.3 351.0L379.3 344.7L380.3 337.8L381.3 330.5L382.3 323.1L383.3 315.5L384.3 307.4L385.3 298.5L386.3 288.7L387.3 277.4L388.3 263.1L389.3 249.6L390.3 237.0L391.3 225.0L392.3 213.5L393.3 202.5L394.3 191.9L395.3 182.4L396.3 174.1L397.3 166.2L398.3 158.6L399.3 151.7L400.3 145.4L401.3 140.7L402.3 137.2L403.3 134.5L404.3 132.5L405.2 131.1L405.3 130.9L405.8 130.3L406.3 130.8L406.4 130.9L407.3 131.4L408.3 132.0L409.3 133.9L410.3 136.6L411.3 139.7L412.3 143.5L413.3 147.4L414.3 151.1L415.3 154.7L416.3 158.4L417.3 162.2L418.3 166.0L419.3 169.8L420.3 173.9L421.3 177.4L422.3 180.0L423.3 182.3L424.3 184.6L425.3 187.1L426.3 190.0L427.3 193.1L428.3 196.3L429.3 199.3L430.3 202.0L431.3 204.3L432.3 206.7L433.3 209.5L434.3 213.1L435.3 218.0L436.3 223.2L437.3 228.5L438.3 233.9L439.3 239.3L440.3 244.8L441.3 250.7L442.3 256.6L443.3 262.2L444.3 267.3L445.3 272.2L446.3 277.2L447.3 282.2L448.3 287.3L449.3 293.2L450.3 299.7L451.3 306.5L452.3 312.8L453.3 318.9L454.3 324.7L455.3 330.4L456.3 335.9L457.3 340.6L458.3 344.1L459.3 346.9L460.3 349.6L461.3 352.1L462.3 354.4L463.3 356.8L464.3 359.2L465.3 362.0L466.3 365.1L467.3 368.3L468.3 371.6L469.3 374.7L470.3 377.6L471.3 380.0L472.3 382.1L473.3 384.1L474.3 386.0L475.3 387.7L476.3 389.3L477.3 390.8L478.3 392.2L479.3 393.5L480.3 394.7L481.3 395.9L482.3 397.0L483.3 398.0L484.3 399.0L485.3 399.8L486.3 400.6L487.3 401.4L488.3 402.0L489.3 402.7L490.3 403.2L491.3 403.8L492.3 404.3L493.3 404.8L494.3 405.2L495.3 405.7L496.3 406.1L497.3 406.5L498.3 406.9L499.3 407.2L500.3 407.6L501.3 407.9L502.3 408.2L503.3 408.4L504.3 408.7L505.3 408.9L506.3 409.1L507.3 409.3L508.3 409.5L509.3 409.7L510.3 409.8L511.3 410.0L512.3 410.1L513.3 410.2L514.3 410.4L515.3 410.5L516.3 410.6L517.3 410.7L518.3 410.8L519.3 410.9L520.3 410.9L521.3 410.9L522.3 410.9L523.3 410.9L524.3 410.9L525.3 410.9L526.3 410.9L527.3 410.9L528.3 410.8L529.3 410.8L530.3 410.8L531.3 410.7L532.3 410.7L533.3 410.6L534.3 410.6L535.3 410.5L536.3 410.4L537.3 410.4L538.3 410.2L539.3 409.9L540.3 409.5L541.3 409.1L542.3 408.5L543.3 408.0L544.3 407.5L545.3 407.0L546.3 406.4L547.3 405.8L548.3 405.2L549.3 404.6L550.3 404.0L551.3 403.4L552.3 402.8L553.3 402.2L554.3 401.6L555.3 401.1L556.3 400.5L557.3 400.1L558.3 399.8L559.3 399.5L560.3 399.2L561.3 399.0L562.3 398.8L563.3 398.7L564.3 398.6L565.3 398.5L566.3 398.4L567.3 398.5L568.3 398.6L569.3 398.8L570.3 399.1L571.3 399.5L572.3 400.1L573.3 400.6L574.3 401.1L575.3 401.6L576.3 402.1L577.3 402.6L578.3 403.1L579.3 403.5L580.3 404.0L581.3 404.5L582.3 404.9L583.3 405.3L584.3 405.7L585.3 406.1L586.3 406.6L587.3 407.0L588.3 407.3L589.3 407.7L590.3 408.1L591.3 408.5L592.3 408.8L593.3 409.2L594.3 409.5L595.3 409.8L596.3 410.1L597.3 410.4L598.3 410.7L599.3 411.0L600.3 411.3L601.3 411.6L602.3 411.9L603.3 412.2L604.3 412.5L605.3 412.8L606.3 413.0L607.3 413.3L608.3 413.5L609.3 413.7L610.3 414.0L611.3 414.2L612.3 414.3L613.3 414.5L614.3 414.7L615.3 414.8L616.3 415.0L617.3 415.1L618.3 415.2L619.3 415.4L620.3 415.5L621.3 415.6L622.3 415.8L623.3 415.9L624.3 416.0L625.3 416.1L626.3 416.2L627.3 416.3L628.3 416.3L629.3 416.4L630.3 416.5L631.3 416.5L632.3 416.5L633.3 416.5L634.3 416.5L635.3 416.5L636.3 416.5L637.3 416.6L638.3 416.6L639.3 416.6L640.3 416.6L641.3 416.6L642.3 416.6L643.3 416.6L644.3 416.6L645.3 416.6L646.3 416.6L647.3 416.6L648.3 416.6L649.3 416.6L650.3 416.7L651.3 416.7L652.3 416.7L653.3 416.7L654.3 416.7L655.3 416.7L656.3 416.7L657.3 416.7L658.3 416.7L659.3 416.7L660.3 416.7L661.3 416.7L662.3 416.7L663.3 416.7L664.3 416.7L665.3 416.7L666.3 416.7L667.3 416.7L668.3 416.7L669.3 416.7L670.3 416.7L671.3 416.7L672.3 416.7L673.3 416.7L674.3 416.7L675.3 416.6L676.3 416.5L677.3 416.3L678.3 416.0L679.3 415.7L680.3 415.3L681.3 414.9L682.3 414.5L683.3 414.0L684.3 413.6L685.3 413.1L686.3 412.4L687.3 411.4L688.3 410.0L689.3 408.2L690.3 406.2L691.3 404.2L692.3 401.7L693.3 399.0L694.3 396.6L695.3 394.4L696.3 392.3L697.3 389.9L698.3 387.3L699.3 385.0L700.3 383.3L701.3 382.0L702.3 380.9L703.3 380.2L704.3 379.7L705.3 379.4L705.6 379.4L706.3 379.5L707.3 379.9L708.3 380.3L709.3 380.9L710.3 381.5L711.3 382.1L712.3 382.9L713.3 383.8L714.3 384.6L715.3 385.5L716.3 386.2L717.3 387.0L718.3 387.8L719.3 388.6L720.3 389.2L721.3 389.6L722.3 389.6L723.3 389.5L724.3 389.2L725.3 388.9L726.3 388.6L727.3 388.2L728.3 387.9L729.3 387.5L730.3 387.2L731.3 386.7L732.3 386.2L733.3 385.7L734.3 385.0L735.3 384.2L736.3 383.0L737.3 381.6L738.3 380.1L739.3 378.5L740.3 376.9L741.3 375.3L742.3 373.6L743.3 371.8L744.3 370.0L745.3 368.3L746.3 366.5L747.3 364.7L748.3 362.9L749.3 361.2L750.3 359.6L751.3 358.3L752.3 357.0L753.3 356.0L754.3 355.3L755.3 354.8L756.2 354.6L756.3 354.6L757.3 354.9L758.3 355.5L759.3 356.4L760.3 357.5L761.3 358.9L762.3 360.5L763.3 362.3L764.3 364.3L765.3 366.5L766.3 369.0L767.3 371.5L768.3 374.0L769.3 376.6L770.3 379.0L771.3 381.3L772.3 383.6L773.3 386.0L774.3 388.3L775.3 390.5L776.3 392.6L777.3 394.5L778.3 396.1L779.3 397.6L780.3 399.0L781.3 400.3L782.3 401.5L783.3 402.6L784.3 403.7L785.3 404.7L786.3 405.6L787.3 406.5L788.3 407.4L789.3 408.3L790.3 409.1L791.3 409.8L792.3 410.5L793.3 411.2L794.3 411.8L795.3 412.4L796.3 412.9L797.3 413.4L798.3 413.9L799.3 414.4L800.3 414.9L801.3 415.3L802.3 415.7L803.3 416.1L804.3 416.4L805.3 416.8L806.3 417.0L807.3 417.2L808.3 417.4L809.3 417.5L810.3 417.6L811.3 417.6L812.3 417.7L813.3 417.8L814.3 417.9L815.3 417.9L816.3 418.0L817.3 418.0L818.3 418.1L819.3 418.1L820.3 418.2L821.3 418.2L822.3 418.3L823.3 418.3L824.3 418.3L825.3 418.4L826.3 418.4L827.3 418.4L828.3 418.4L829.3 418.5L830.3 418.5L831.3 418.5L832.3 418.5L833.3 418.6L834.3 418.6L835.3 418.6L836.3 418.7L837.3 418.7L838.3 418.7L839.3 418.7L840.3 418.7L841.3 418.8L842.3 418.8L843.3 418.8L844.3 418.8L845.3 418.8L846.3 418.8L847.3 418.8L848.3 418.8L849.3 418.8L849.3 419.3" fill="#800080" stroke="#900090" stroke-width="1.2" stroke-linejoin="miter" stroke-miterlimit="3"/>
<path d="M129.1 435.9L129.1 419.6L130.1 419.2L131.1 418.8L132.1 418.4L133.1 418.1L134.1 417.7L135.1 417.5L136.1 417.2L137.1 417.0L138.1 416.8L139.1 416.6L140.1 416.4L141.1 416.3L142.1 416.2L143.1 416.0L144.1 415.9L145.1 415.8L146.1 415.7L147.1 415.6L148.1 415.5L149.1 415.5L150.1 415.4L151.1 415.4L152.1 415.4L153.1 415.4L154.1 415.4L155.1 415.4L156.1 415.4L157.1 415.4L158.1 415.3L159.1 415.3L160.1 415.3L161.1 415.3L162.1 415.3L163.1 415.3L164.1 415.3L165.1 415.3L166.1 415.3L167.1 415.3L168.1 415.3L169.1 415.3L170.1 415.3L171.1 415.3L172.1 415.3L173.1 415.3L174.1 415.3L175.1 415.3L176.1 415.3L177.1 415.3L178.1 415.3L179.1 415.3L180.1 415.3L181.1 415.2L182.1 415.2L183.1 415.2L184.1 415.2L185.1 415.2L186.1 415.2L187.1 415.2L188.1 415.2L189.1 415.2L190.1 415.2L191.1 415.2L192.1 415.2L193.1 415.2L194.1 415.2L195.1 415.2L196.1 415.2L197.1 415.2L198.1 415.2L199.1 415.2L200.1 415.2L201.1 415.2L202.1 415.2L203.1 415.2L204.1 415.1L205.1 415.1L206.1 415.1L207.1 415.1L208.1 415.1L209.1 415.1L210.1 415.1L211.1 415.1L212.1 415.1L213.1 415.1L214.1 415.1L215.1 415.0L216.1 415.0L217.1 415.0L218.1 415.0L219.1 414.9L220.1 414.9L221.1 414.9L222.1 414.8L223.1 414.7L224.1 414.4L225.1 413.9L226.1 413.4L227.1 412.9L228.1 412.4L229.1 411.9L230.1 411.4L231.1 410.8L232.1 410.2L233.1 409.5L234.1 408.9L235.1 408.2L236.1 407.4L237.1 406.7L238.1 405.8L239.1 405.0L240.1 404.3L241.1 403.6L242.1 402.9L243.1 402.1L244.1 401.4L245.1 400.9L246.1 400.7L246.2 400.7L247.1 401.4L247.9 402.0L248.1 402.0L249.1 401.8L250.1 401.6L251.1 401.3L252.1 400.9L253.1 400.4L254.1 399.8L255.1 399.3L256.1 398.7L257.1 398.1L258.1 397.5L259.1 396.6L260.1 395.3L261.1 393.5L262.1 390.8L263.1 387.5L264.1 383.6L265.1 378.9L266.1 373.5L267.1 367.3L268.1 360.1L269.1 352.2L270.1 344.7L271.1 337.2L272.1 329.9L273.1 322.6L274.1 315.4L275.1 308.0L276.1 300.6L277.1 292.8L278.1 285.1L279.1 278.0L280.1 271.9L281.1 266.7L282.1 262.9L283.1 259.8L284.1 257.3L285.1 255.1L286.1 253.5L287.1 252.7L288.1 252.2L289.1 251.8L290.1 251.5L291.1 251.0L292.1 250.6L293.1 250.1L294.1 249.5L295.1 248.7L296.1 247.1L297.1 244.9L298.1 242.6L299.1 240.2L300.1 237.8L301.1 235.6L302.1 233.4L303.1 231.4L304.1 229.6L305.1 228.0L306.1 226.5L307.1 225.3L308.0 224.4L308.1 224.3L308.5 223.8L309.1 224.3L310.1 224.9L311.1 225.7L312.1 228.0L313.1 231.6L314.1 237.3L315.1 243.4L316.1 249.6L317.1 255.6L318.1 261.4L319.1 267.1L320.1 272.8L321.1 280.3L322.1 289.3L323.1 298.7L324.1 307.3L325.1 315.7L326.1 323.9L327.1 331.6L328.1 338.5L329.1 344.4L330.1 349.8L331.1 354.7L332.1 359.4L333.1 363.9L334.1 368.3L335.1 372.6L336.1 376.6L337.1 380.1L338.1 383.2L339.1 386.0L340.1 388.6L341.1 390.9L342.1 392.8L343.1 394.7L344.1 396.4L345.1 397.8L346.1 398.9L347.1 399.6L348.1 400.3L349.1 400.9L350.1 401.4L351.1 401.7L351.8 401.8L352.1 401.8L353.1 401.5L354.1 400.9L355.1 399.9L356.1 398.8L357.1 397.4L358.1 395.6L359.1 392.3L360.1 388.3L361.1 384.1L362.1 379.2L363.1 373.8L364.1 368.0L365.1 361.7L366.1 354.8L367.1 347.7L368.1 340.3L369.1 332.7L370.1 324.7L371.1 315.8L372.1 306.1L373.1 294.9L374.1 280.7L375.1 267.3L376.1 254.8L377.1 242.9L378.1 231.5L379.1 220.5L380.1 210.0L381.1 200.5L382.1 192.3L383.1 184.4L384.1 176.9L385.1 170.1L386.1 163.8L387.1 159.2L388.1 155.6L389.1 153.0L390.1 151.0L391.0 149.6L391.1 149.5L391.6 148.8L392.1 149.3L392.2 149.4L393.1 149.9L394.1 150.5L395.1 152.4L396.1 155.1L397.1 158.2L398.1 162.0L399.1 165.8L400.1 169.4L401.1 173.1L402.1 176.7L403.1 180.5L404.1 184.2L405.1 188.0L406.1 192.1L407.1 195.6L408.1 198.2L409.1 200.5L410.1 202.7L411.1 205.2L412.1 208.1L413.1 211.2L414.1 214.3L415.1 217.3L416.1 220.0L417.1 222.3L418.1 224.7L419.1 227.5L420.1 231.0L421.1 235.9L422.1 241.1L423.1 246.3L424.1 251.7L425.1 257.1L426.1 262.6L427.1 268.4L428.1 274.3L429.1 279.8L430.1 284.8L431.1 289.7L432.1 294.7L433.1 299.6L434.1 304.8L435.1 310.5L436.1 317.1L437.1 323.8L438.1 330.0L439.1 336.1L440.1 341.9L441.1 347.5L442.1 353.0L443.1 357.7L444.1 361.1L445.1 363.9L446.1 366.6L447.1 369.1L448.1 371.4L449.1 373.7L450.1 376.1L451.1 378.9L452.1 382.0L453.1 385.2L454.1 388.5L455.1 391.6L456.1 394.4L457.1 396.8L458.1 398.9L459.1 400.9L460.1 402.8L461.1 404.5L462.1 406.1L463.1 407.5L464.1 408.9L465.1 410.2L466.1 411.4L467.1 412.6L468.1 413.7L469.1 414.7L470.1 415.6L471.1 416.5L472.1 417.3L473.1 418.0L474.1 418.7L475.1 419.3L476.1 419.9L477.1 420.4L478.1 420.9L479.1 421.4L480.1 421.8L481.1 422.3L482.1 422.7L483.1 423.1L484.1 423.5L485.1 423.8L486.1 424.2L487.1 424.5L488.1 424.8L489.1 425.0L490.1 425.3L491.1 425.5L492.1 425.7L493.1 425.9L494.1 426.1L495.1 426.3L496.1 426.4L497.1 426.6L498.1 426.7L499.1 426.8L500.1 426.9L501.1 427.1L502.1 427.2L503.1 427.3L504.1 427.4L505.1 427.4L506.1 427.5L507.1 427.5L508.1 427.5L509.1 427.5L510.1 427.5L511.1 427.5L512.1 427.5L513.1 427.5L514.1 427.4L515.1 427.4L516.1 427.4L517.1 427.3L518.1 427.3L519.1 427.2L520.1 427.1L521.1 427.1L522.1 427.0L523.1 426.9L524.1 426.8L525.1 426.5L526.1 426.1L527.1 425.7L528.1 425.1L529.1 424.6L530.1 424.1L531.1 423.6L532.1 423.0L533.1 422.4L534.1 421.8L535.1 421.2L536.1 420.6L537.1 420.0L538.1 419.4L539.1 418.9L540.1 418.3L541.1 417.7L542.1 417.2L543.1 416.8L544.1 416.4L545.1 416.1L546.1 415.9L547.1 415.6L548.1 415.5L549.1 415.3L550.1 415.2L551.1 415.1L552.1 415.1L553.1 415.1L554.1 415.3L555.1 415.5L556.1 415.8L557.1 416.2L558.1 416.7L559.1 417.2L560.1 417.7L561.1 418.2L562.1 418.7L563.1 419.2L564.1 419.7L565.1 420.2L566.1 420.6L567.1 421.1L568.1 421.5L569.1 421.9L570.1 422.3L571.1 422.8L572.1 423.2L573.1 423.6L574.1 423.9L575.1 424.3L576.1 424.7L577.1 425.1L578.1 425.4L579.1 425.8L580.1 426.1L581.1 426.4L582.1 426.7L583.1 427.0L584.1 427.3L585.1 427.6L586.1 427.9L587.1 428.2L588.1 428.5L589.1 428.8L590.1 429.1L591.1 429.3L592.1 429.6L593.1 429.8L594.1 430.1L595.1 430.3L596.1 430.5L597.1 430.7L598.1 430.9L599.1 431.1L600.1 431.2L601.1 431.4L602.1 431.5L603.1 431.7L604.1 431.8L605.1 431.9L606.1 432.1L607.1 432.2L608.1 432.3L609.1 432.4L610.1 432.5L611.1 432.6L612.1 432.7L613.1 432.8L614.1 432.9L615.1 432.9L616.1 433.0L617.1 433.0L618.1 433.0L619.1 433.1L620.1 433.1L621.1 433.1L622.1 433.1L623.1 433.1L624.1 433.1L625.1 433.1L626.1 433.1L627.1 433.1L628.1 433.1L629.1 433.1L630.1 433.2L631.1 433.2L632.1 433.2L633.1 433.2L634.1 433.2L635.1 433.2L636.1 433.2L637.1 433.2L638.1 433.2L639.1 433.2L640.1 433.2L641.1 433.2L642.1 433.2L643.1 433.2L644.1 433.2L645.1 433.2L646.1 433.2L647.1 433.2L648.1 433.2L649.1 433.2L650.1 433.2L651.1 433.2L652.1 433.2L653.1 433.2L654.1 433.2L655.1 433.2L656.1 433.2L657.1 433.2L658.1 433.2L659.1 433.2L660.1 433.2L661.1 433.2L662.1 433.0L663.1 432.8L664.1 432.5L665.1 432.2L666.1 431.8L667.1 431.4L668.1 431.0L669.1 430.6L670.1 430.2L671.1 429.6L672.1 428.9L673.1 428.0L674.1 426.6L675.1 424.8L676.1 422.8L677.1 420.8L678.1 418.3L679.1 415.7L680.1 413.3L681.1 411.1L682.1 409.0L683.1 406.6L684.1 404.1L685.1 401.7L686.1 400.0L687.1 398.7L688.1 397.7L689.1 397.0L690.1 396.5L691.1 396.2L691.4 396.2L692.1 396.3L693.1 396.7L694.1 397.1L695.1 397.7L696.1 398.3L697.1 398.9L698.1 399.7L699.1 400.5L700.1 401.4L701.1 402.2L702.1 402.9L703.1 403.7L704.1 404.6L705.1 405.3L706.1 405.9L707.1 406.3L708.1 406.3L709.1 406.2L710.1 406.0L711.1 405.7L712.1 405.3L713.1 405.0L714.1 404.6L715.1 404.3L716.1 403.9L717.1 403.5L718.1 403.0L719.1 402.4L720.1 401.8L721.1 400.9L722.1 399.8L723.1 398.4L724.1 396.8L725.1 395.3L726.1 393.7L727.1 392.1L728.1 390.4L729.1 388.6L730.1 386.9L731.1 385.1L732.1 383.4L733.1 381.6L734.1 379.8L735.1 378.1L736.1 376.6L737.1 375.2L738.1 374.0L739.1 372.9L740.1 372.2L741.1 371.8L742.0 371.6L742.1 371.6L743.1 371.9L744.1 372.5L745.1 373.3L746.1 374.5L747.1 375.9L748.1 377.5L749.1 379.3L750.1 381.2L751.1 383.4L752.1 385.8L753.1 388.3L754.1 390.9L755.1 393.4L756.1 395.8L757.1 398.1L758.1 400.4L759.1 402.7L760.1 405.0L761.1 407.3L762.1 409.3L763.1 411.2L764.1 412.8L765.1 414.3L766.1 415.6L767.1 416.9L768.1 418.1L769.1 419.3L770.1 420.3L771.1 421.3L772.1 422.2L773.1 423.1L774.1 424.0L775.1 424.9L776.1 425.7L777.1 426.4L778.1 427.1L779.1 427.8L780.1 428.4L781.1 429.0L782.1 429.5L783.1 430.0L784.1 430.5L785.1 430.9L786.1 431.4L787.1 431.8L788.1 432.3L789.1 432.6L790.1 433.0L791.1 433.3L792.1 433.6L793.1 433.8L794.1 433.9L795.1 434.0L796.1 434.1L797.1 434.2L798.1 434.3L799.1 434.3L800.1 434.4L801.1 434.5L802.1 434.5L803.1 434.6L804.1 434.6L805.1 434.7L806.1 434.7L807.1 434.7L808.1 434.8L809.1 434.8L810.1 434.8L811.1 434.9L812.1 434.9L813.1 434.9L814.1 435.0L815.1 435.0L816.1 435.0L817.1 435.0L818.1 435.1L819.1 435.1L820.1 435.1L821.1 435.2L822.1 435.2L823.1 435.2L824.1 435.2L825.1 435.2L826.1 435.3L827.1 435.3L828.1 435.3L829.1 435.3L830.1 435.3L831.1 435.3L832.1 435.3L833.1 435.4L834.1 435.4L835.1 435.4L835.1 435.9" fill="#800000" stroke="#980000" stroke-width="1.2" stroke-linejoin="miter" stroke-miterlimit="3"/>
<path d="M115.0 452.4L115.0 436.0L116.0 435.6L117.0 435.2L118.0 434.8L119.0 434.4L120.0 434.1L121.0 433.9L122.0 433.6L123.0 433.4L124.0 433.2L125.0 433.0L126.0 432.8L127.0 432.7L128.0 432.5L129.0 432.4L130.0 432.3L131.0 432.2L132.0 432.1L133.0 432.0L134.0 431.9L135.0 431.8L136.0 431.8L137.0 431.8L138.0 431.8L139.0 431.8L140.0 431.7L141.0 431.7L142.0 431.7L143.0 431.7L144.0 431.7L145.0 431.7L146.0 431.7L147.0 431.7L148.0 431.7L149.0 431.7L150.0 431.7L151.0 431.7L152.0 431.7L153.0 431.7L154.0 431.6L155.0 431.6L156.0 431.6L157.0 431.6L158.0 431.6L159.0 431.6L160.0 431.6L161.0 431.6L162.0 431.6L163.0 431.6L164.0 431.6L165.0 431.6L166.0 431.6L167.0 431.6L168.0 431.6L169.0 431.6L170.0 431.6L171.0 431.6L172.0 431.6L173.0 431.6L174.0 431.6L175.0 431.6L176.0 431.6L177.0 431.6L178.0 431.6L179.0 431.6L180.0 431.5L181.0 431.5L182.0 431.5L183.0 431.5L184.0 431.5L185.0 431.5L186.0 431.5L187.0 431.5L188.0 431.5L189.0 431.5L190.0 431.5L191.0 431.5L192.0 431.5L193.0 431.5L194.0 431.5L195.0 431.5L196.0 431.5L197.0 431.4L198.0 431.4L199.0 431.4L200.0 431.4L201.0 431.4L202.0 431.4L203.0 431.3L204.0 431.3L205.0 431.3L206.0 431.3L207.0 431.2L208.0 431.2L209.0 431.0L210.0 430.7L211.0 430.3L212.0 429.8L213.0 429.3L214.0 428.8L215.0 428.2L216.0 427.7L217.0 427.1L218.0 426.5L219.0 425.8L220.0 425.2L221.0 424.5L222.0 423.7L223.0 422.9L224.0 422.1L225.0 421.3L226.0 420.6L227.0 419.9L228.0 419.1L229.0 418.4L230.0 417.7L231.0 417.1L232.0 416.9L232.1 416.9L233.0 417.6L233.8 418.2L234.0 418.2L235.0 418.1L236.0 417.8L237.0 417.5L238.0 417.1L239.0 416.6L240.0 416.1L241.0 415.5L242.0 414.9L243.0 414.4L244.0 413.7L245.0 412.8L246.0 411.5L247.0 409.6L248.0 407.0L249.0 403.6L250.0 399.7L251.0 395.0L252.0 389.5L253.0 383.3L254.0 376.1L255.0 368.1L256.0 360.5L257.0 353.0L258.0 345.6L259.0 338.3L260.0 330.9L261.0 323.5L262.0 316.1L263.0 308.2L264.0 300.4L265.0 293.3L266.0 287.1L267.0 281.9L268.0 278.1L269.0 274.9L270.0 272.4L271.0 270.2L272.0 268.6L273.0 267.8L274.0 267.3L275.0 266.9L276.0 266.6L277.0 266.1L278.0 265.6L279.0 265.2L280.0 264.6L281.0 263.8L282.0 262.2L283.0 259.9L284.0 257.6L285.0 255.2L286.0 252.8L287.0 250.5L288.0 248.4L289.0 246.3L290.0 244.5L291.0 242.8L292.0 241.4L293.0 240.2L293.9 239.3L294.0 239.1L294.4 238.7L295.0 239.2L296.0 239.7L297.0 240.6L298.0 242.9L299.0 246.5L300.0 252.2L301.0 258.4L302.0 264.7L303.0 270.7L304.0 276.6L305.0 282.3L306.0 288.1L307.0 295.6L308.0 304.6L309.0 314.1L310.0 322.8L311.0 331.2L312.0 339.5L313.0 347.3L314.0 354.3L315.0 360.3L316.0 365.6L317.0 370.6L318.0 375.3L319.0 379.8L320.0 384.3L321.0 388.6L322.0 392.6L323.0 396.2L324.0 399.3L325.0 402.2L326.0 404.7L327.0 407.0L328.0 409.0L329.0 410.9L330.0 412.6L331.0 414.0L332.0 415.1L333.0 415.9L334.0 416.6L335.0 417.2L336.0 417.7L337.0 418.0L337.7 418.1L338.0 418.1L339.0 417.8L340.0 417.1L341.0 416.2L342.0 415.0L343.0 413.7L344.0 411.8L345.0 408.5L346.0 404.5L347.0 400.2L348.0 395.3L349.0 389.9L350.0 384.0L351.0 377.7L352.0 370.8L353.0 363.6L354.0 356.2L355.0 348.5L356.0 340.4L357.0 331.5L358.0 321.7L359.0 310.4L360.0 296.1L361.0 282.6L362.0 270.0L363.0 258.0L364.0 246.5L365.0 235.5L366.0 225.0L367.0 215.4L368.0 207.1L369.0 199.2L370.0 191.6L371.0 184.8L372.0 178.4L373.0 173.7L374.0 170.2L375.0 167.5L376.0 165.5L376.9 164.1L377.0 164.0L377.5 163.3L378.0 163.8L378.1 163.9L379.0 164.4L380.0 165.1L381.0 167.0L382.0 169.7L383.0 172.8L384.0 176.6L385.0 180.5L386.0 184.1L387.0 187.8L388.0 191.4L389.0 195.2L390.0 199.0L391.0 202.8L392.0 207.0L393.0 210.4L394.0 213.1L395.0 215.4L396.0 217.6L397.0 220.1L398.0 223.0L399.0 226.1L400.0 229.3L401.0 232.3L402.0 235.0L403.0 237.4L404.0 239.8L405.0 242.5L406.0 246.1L407.0 251.1L408.0 256.3L409.0 261.5L410.0 266.9L411.0 272.3L412.0 277.9L413.0 283.7L414.0 289.7L415.0 295.2L416.0 300.3L417.0 305.2L418.0 310.2L419.0 315.2L420.0 320.4L421.0 326.2L422.0 332.8L423.0 339.5L424.0 345.8L425.0 351.9L426.0 357.8L427.0 363.4L428.0 369.0L429.0 373.6L430.0 377.1L431.0 380.0L432.0 382.6L433.0 385.1L434.0 387.5L435.0 389.8L436.0 392.2L437.0 395.0L438.0 398.1L439.0 401.4L440.0 404.6L441.0 407.8L442.0 410.6L443.0 413.0L444.0 415.2L445.0 417.2L446.0 419.0L447.0 420.8L448.0 422.4L449.0 423.8L450.0 425.2L451.0 426.5L452.0 427.7L453.0 428.9L454.0 430.0L455.0 431.0L456.0 432.0L457.0 432.9L458.0 433.7L459.0 434.4L460.0 435.1L461.0 435.7L462.0 436.3L463.0 436.8L464.0 437.3L465.0 437.8L466.0 438.3L467.0 438.7L468.0 439.1L469.0 439.5L470.0 439.9L471.0 440.3L472.0 440.6L473.0 440.9L474.0 441.2L475.0 441.5L476.0 441.7L477.0 441.9L478.0 442.1L479.0 442.4L480.0 442.5L481.0 442.7L482.0 442.9L483.0 443.0L484.0 443.1L485.0 443.3L486.0 443.4L487.0 443.5L488.0 443.6L489.0 443.7L490.0 443.8L491.0 443.9L492.0 444.0L493.0 444.0L494.0 444.0L495.0 444.0L496.0 444.0L497.0 444.0L498.0 443.9L499.0 443.9L500.0 443.9L501.0 443.9L502.0 443.8L503.0 443.8L504.0 443.7L505.0 443.7L506.0 443.6L507.0 443.5L508.0 443.5L509.0 443.4L510.0 443.2L511.0 443.0L512.0 442.6L513.0 442.1L514.0 441.6L515.0 441.0L516.0 440.5L517.0 440.0L518.0 439.5L519.0 438.9L520.0 438.3L521.0 437.6L522.0 437.0L523.0 436.4L524.0 435.8L525.0 435.3L526.0 434.7L527.0 434.1L528.0 433.6L529.0 433.1L530.0 432.8L531.0 432.5L532.0 432.2L533.0 432.0L534.0 431.8L535.0 431.7L536.0 431.6L537.0 431.5L538.0 431.5L539.0 431.5L540.0 431.7L541.0 431.9L542.0 432.1L543.0 432.6L544.0 433.1L545.0 433.6L546.0 434.1L547.0 434.6L548.0 435.1L549.0 435.6L550.0 436.1L551.0 436.6L552.0 437.1L553.0 437.5L554.0 437.9L555.0 438.4L556.0 438.8L557.0 439.2L558.0 439.6L559.0 440.0L560.0 440.4L561.0 440.8L562.0 441.1L563.0 441.5L564.0 441.9L565.0 442.2L566.0 442.5L567.0 442.9L568.0 443.2L569.0 443.5L570.0 443.8L571.0 444.1L572.0 444.4L573.0 444.7L574.0 445.0L575.0 445.3L576.0 445.5L577.0 445.8L578.0 446.1L579.0 446.3L580.0 446.6L581.0 446.8L582.0 447.0L583.0 447.2L584.0 447.4L585.0 447.6L586.0 447.7L587.0 447.9L588.0 448.0L589.0 448.1L590.0 448.3L591.0 448.4L592.0 448.6L593.0 448.7L594.0 448.8L595.0 448.9L596.0 449.0L597.0 449.1L598.0 449.2L599.0 449.3L600.0 449.4L601.0 449.4L602.0 449.5L603.0 449.5L604.0 449.5L605.0 449.6L606.0 449.6L607.0 449.6L608.0 449.6L609.0 449.6L610.0 449.6L611.0 449.6L612.0 449.6L613.0 449.6L614.0 449.6L615.0 449.6L616.0 449.7L617.0 449.7L618.0 449.7L619.0 449.7L620.0 449.7L621.0 449.7L622.0 449.7L623.0 449.7L624.0 449.7L625.0 449.7L626.0 449.7L627.0 449.7L628.0 449.7L629.0 449.7L630.0 449.7L631.0 449.7L632.0 449.7L633.0 449.7L634.0 449.7L635.0 449.7L636.0 449.7L637.0 449.7L638.0 449.7L639.0 449.7L640.0 449.7L641.0 449.7L642.0 449.8L643.0 449.8L644.0 449.8L645.0 449.8L646.0 449.7L647.0 449.7L648.0 449.5L649.0 449.3L650.0 449.0L651.0 448.7L652.0 448.3L653.0 447.9L654.0 447.5L655.0 447.1L656.0 446.6L657.0 446.1L658.0 445.4L659.0 444.5L660.0 443.1L661.0 441.3L662.0 439.3L663.0 437.2L664.0 434.7L665.0 432.1L666.0 429.7L667.0 427.5L668.0 425.3L669.0 423.0L670.0 420.4L671.0 418.0L672.0 416.3L673.0 415.0L674.0 414.0L675.0 413.3L676.0 412.8L677.0 412.5L677.3 412.4L678.0 412.6L679.0 412.9L680.0 413.4L681.0 413.9L682.0 414.5L683.0 415.2L684.0 415.9L685.0 416.8L686.0 417.7L687.0 418.5L688.0 419.2L689.0 420.0L690.0 420.9L691.0 421.6L692.0 422.3L693.0 422.6L694.0 422.6L695.0 422.5L696.0 422.3L697.0 422.0L698.0 421.6L699.0 421.3L700.0 420.9L701.0 420.6L702.0 420.2L703.0 419.8L704.0 419.3L705.0 418.7L706.0 418.0L707.0 417.2L708.0 416.0L709.0 414.6L710.0 413.1L711.0 411.5L712.0 410.0L713.0 408.3L714.0 406.6L715.0 404.8L716.0 403.0L717.0 401.3L718.0 399.5L719.0 397.7L720.0 396.0L721.0 394.2L722.0 392.7L723.0 391.3L724.0 390.1L725.0 389.0L726.0 388.3L727.0 387.9L727.9 387.7L728.0 387.7L729.0 388.0L730.0 388.5L731.0 389.4L732.0 390.6L733.0 392.0L734.0 393.6L735.0 395.4L736.0 397.3L737.0 399.6L738.0 402.0L739.0 404.5L740.0 407.1L741.0 409.6L742.0 412.0L743.0 414.3L744.0 416.7L745.0 419.0L746.0 421.4L747.0 423.6L748.0 425.7L749.0 427.5L750.0 429.1L751.0 430.6L752.0 432.0L753.0 433.3L754.0 434.5L755.0 435.7L756.0 436.7L757.0 437.7L758.0 438.7L759.0 439.6L760.0 440.4L761.0 441.3L762.0 442.1L763.0 442.9L764.0 443.6L765.0 444.3L766.0 444.9L767.0 445.4L768.0 446.0L769.0 446.5L770.0 446.9L771.0 447.4L772.0 447.9L773.0 448.3L774.0 448.8L775.0 449.1L776.0 449.5L777.0 449.8L778.0 450.1L779.0 450.3L780.0 450.4L781.0 450.5L782.0 450.6L783.0 450.7L784.0 450.8L785.0 450.8L786.0 450.9L787.0 451.0L788.0 451.0L789.0 451.1L790.0 451.1L791.0 451.2L792.0 451.2L793.0 451.3L794.0 451.3L795.0 451.3L796.0 451.4L797.0 451.4L798.0 451.4L799.0 451.5L800.0 451.5L801.0 451.5L802.0 451.5L803.0 451.6L804.0 451.6L805.0 451.6L806.0 451.6L807.0 451.7L808.0 451.7L809.0 451.7L810.0 451.7L811.0 451.8L812.0 451.8L813.0 451.8L814.0 451.8L815.0 451.8L816.0 451.8L817.0 451.9L818.0 451.9L819.0 451.9L820.0 451.9L821.0 451.9L821.0 452.4" fill="#8b8b10" stroke="#a8a400" stroke-width="1.2" stroke-linejoin="miter" stroke-miterlimit="3"/>
<path d="M100.9 468.9L100.9 452.6L101.9 452.2L102.9 451.8L103.9 451.4L104.9 451.1L105.9 450.8L106.9 450.5L107.9 450.3L108.9 450.0L109.9 449.8L110.9 449.6L111.9 449.5L112.9 449.3L113.9 449.2L114.9 449.1L115.9 448.9L116.9 448.8L117.9 448.7L118.9 448.6L119.9 448.6L120.9 448.5L121.9 448.5L122.9 448.4L123.9 448.4L124.9 448.4L125.9 448.4L126.9 448.4L127.9 448.4L128.9 448.4L129.9 448.4L130.9 448.4L131.9 448.4L132.9 448.3L133.9 448.3L134.9 448.3L135.9 448.3L136.9 448.3L137.9 448.3L138.9 448.3L139.9 448.3L140.9 448.3L141.9 448.3L142.9 448.3L143.9 448.3L144.9 448.3L145.9 448.3L146.9 448.3L147.9 448.3L148.9 448.3L149.9 448.3L150.9 448.3L151.9 448.3L152.9 448.3L153.9 448.3L154.9 448.3L155.9 448.3L156.9 448.3L157.9 448.2L158.9 448.2L159.9 448.2L160.9 448.2L161.9 448.2L162.9 448.2L163.9 448.2L164.9 448.2L165.9 448.2L166.9 448.2L167.9 448.2L168.9 448.2L169.9 448.2L170.9 448.2L171.9 448.2L172.9 448.2L173.9 448.2L174.9 448.2L175.9 448.2L176.9 448.2L177.9 448.2L178.9 448.1L179.9 448.1L180.9 448.1L181.9 448.1L182.9 448.1L183.9 448.1L184.9 448.1L185.9 448.1L186.9 448.1L187.9 448.0L188.9 448.0L189.9 448.0L190.9 448.0L191.9 447.9L192.9 447.9L193.9 447.8L194.9 447.7L195.9 447.4L196.9 447.0L197.9 446.5L198.9 445.9L199.9 445.4L200.9 444.9L201.9 444.4L202.9 443.8L203.9 443.2L204.9 442.5L205.9 441.9L206.9 441.2L207.9 440.5L208.9 439.7L209.9 438.9L210.9 438.1L211.9 437.3L212.9 436.6L213.9 435.9L214.9 435.1L215.9 434.4L216.9 433.9L217.9 433.7L218.0 433.7L218.9 434.4L219.7 435.0L219.9 435.0L220.9 434.8L221.9 434.6L222.9 434.3L223.9 433.9L224.9 433.4L225.9 432.9L226.9 432.3L227.9 431.7L228.9 431.1L229.9 430.5L230.9 429.6L231.9 428.3L232.9 426.5L233.9 423.8L234.9 420.5L235.9 416.5L236.9 411.9L237.9 406.4L238.9 400.3L239.9 393.1L240.9 385.2L241.9 377.6L242.9 370.2L243.9 362.9L244.9 355.6L245.9 348.3L246.9 340.9L247.9 333.5L248.9 325.7L249.9 317.9L250.9 310.9L251.9 304.7L252.9 299.6L253.9 295.8L254.9 292.6L255.9 290.2L256.9 288.0L257.9 286.4L258.9 285.6L259.9 285.1L260.9 284.7L261.9 284.3L262.9 283.9L263.9 283.4L264.9 283.0L265.9 282.4L266.9 281.6L267.9 280.0L268.9 277.7L269.9 275.5L270.9 273.0L271.9 270.7L272.9 268.4L273.9 266.3L274.9 264.3L275.9 262.5L276.9 260.8L277.9 259.3L278.9 258.1L279.8 257.3L279.9 257.1L280.3 256.6L280.9 257.2L281.9 257.7L282.9 258.5L283.9 260.8L284.9 264.4L285.9 270.1L286.9 276.3L287.9 282.5L288.9 288.5L289.9 294.3L290.9 300.0L291.9 305.7L292.9 313.2L293.9 322.2L294.9 331.6L295.9 340.3L296.9 348.6L297.9 356.8L298.9 364.5L299.9 371.4L300.9 377.4L301.9 382.8L302.9 387.7L303.9 392.3L304.9 396.9L305.9 401.3L306.9 405.6L307.9 409.6L308.9 413.1L309.9 416.2L310.9 419.0L311.9 421.6L312.9 423.8L313.9 425.8L314.9 427.7L315.9 429.3L316.9 430.8L317.9 431.8L318.9 432.6L319.9 433.3L320.9 433.9L321.9 434.3L322.9 434.6L323.6 434.7L323.9 434.7L324.9 434.4L325.9 433.7L326.9 432.8L327.9 431.6L328.9 430.2L329.9 428.3L330.9 425.0L331.9 421.0L332.9 416.7L333.9 411.8L334.9 406.3L335.9 400.4L336.9 394.1L337.9 387.2L338.9 379.9L339.9 372.5L340.9 364.9L341.9 356.7L342.9 347.8L343.9 338.0L344.9 326.7L345.9 312.4L346.9 298.8L347.9 286.2L348.9 274.2L349.9 262.7L350.9 251.6L351.9 241.0L352.9 231.5L353.9 223.2L354.9 215.2L355.9 207.6L356.9 200.7L357.9 194.4L358.9 189.7L359.9 186.2L360.9 183.5L361.9 181.5L362.8 180.1L362.9 179.9L363.4 179.3L363.9 179.8L364.0 179.9L364.9 180.3L365.9 181.0L366.9 182.9L367.9 185.6L368.9 188.7L369.9 192.5L370.9 196.4L371.9 200.1L372.9 203.7L373.9 207.4L374.9 211.2L375.9 215.0L376.9 218.9L377.9 223.0L378.9 226.5L379.9 229.1L380.9 231.4L381.9 233.7L382.9 236.2L383.9 239.1L384.9 242.2L385.9 245.4L386.9 248.4L387.9 251.1L388.9 253.5L389.9 255.9L390.9 258.6L391.9 262.2L392.9 267.2L393.9 272.4L394.9 277.7L395.9 283.0L396.9 288.5L397.9 294.1L398.9 299.9L399.9 305.9L400.9 311.4L401.9 316.5L402.9 321.5L403.9 326.5L404.9 331.5L405.9 336.6L406.9 342.5L407.9 349.1L408.9 355.8L409.9 362.1L410.9 368.2L411.9 374.1L412.9 379.8L413.9 385.3L414.9 390.0L415.9 393.5L416.9 396.3L417.9 399.0L418.9 401.5L419.9 403.9L420.9 406.2L421.9 408.6L422.9 411.4L423.9 414.5L424.9 417.8L425.9 421.1L426.9 424.2L427.9 427.1L428.9 429.5L429.9 431.6L430.9 433.6L431.9 435.5L432.9 437.2L433.9 438.8L434.9 440.3L435.9 441.7L436.9 443.0L437.9 444.2L438.9 445.4L439.9 446.5L440.9 447.5L441.9 448.5L442.9 449.4L443.9 450.2L444.9 450.9L445.9 451.6L446.9 452.2L447.9 452.8L448.9 453.3L449.9 453.8L450.9 454.3L451.9 454.8L452.9 455.2L453.9 455.6L454.9 456.0L455.9 456.4L456.9 456.8L457.9 457.1L458.9 457.4L459.9 457.7L460.9 458.0L461.9 458.2L462.9 458.4L463.9 458.6L464.9 458.9L465.9 459.0L466.9 459.2L467.9 459.4L468.9 459.5L469.9 459.6L470.9 459.8L471.9 459.9L472.9 460.0L473.9 460.1L474.9 460.2L475.9 460.3L476.9 460.4L477.9 460.5L478.9 460.5L479.9 460.5L480.9 460.5L481.9 460.5L482.9 460.5L483.9 460.4L484.9 460.4L485.9 460.4L486.9 460.4L487.9 460.3L488.9 460.3L489.9 460.2L490.9 460.2L491.9 460.1L492.9 460.0L493.9 460.0L494.9 459.9L495.9 459.7L496.9 459.5L497.9 459.1L498.9 458.6L499.9 458.1L500.9 457.5L501.9 457.0L502.9 456.5L503.9 456.0L504.9 455.4L505.9 454.8L506.9 454.1L507.9 453.5L508.9 452.9L509.9 452.3L510.9 451.7L511.9 451.2L512.9 450.6L513.9 450.1L514.9 449.6L515.9 449.3L516.9 449.0L517.9 448.7L518.9 448.5L519.9 448.3L520.9 448.2L521.9 448.1L522.9 448.0L523.9 447.9L524.9 448.0L525.9 448.1L526.9 448.4L527.9 448.6L528.9 449.1L529.9 449.6L530.9 450.1L531.9 450.6L532.9 451.1L533.9 451.6L534.9 452.1L535.9 452.6L536.9 453.1L537.9 453.5L538.9 454.0L539.9 454.4L540.9 454.8L541.9 455.3L542.9 455.7L543.9 456.1L544.9 456.5L545.9 456.9L546.9 457.3L547.9 457.6L548.9 458.0L549.9 458.4L550.9 458.7L551.9 459.0L552.9 459.4L553.9 459.7L554.9 460.0L555.9 460.3L556.9 460.6L557.9 460.9L558.9 461.2L559.9 461.5L560.9 461.8L561.9 462.0L562.9 462.3L563.9 462.6L564.9 462.8L565.9 463.1L566.9 463.3L567.9 463.5L568.9 463.7L569.9 463.9L570.9 464.1L571.9 464.2L572.9 464.4L573.9 464.5L574.9 464.7L575.9 464.8L576.9 464.9L577.9 465.1L578.9 465.2L579.9 465.3L580.9 465.4L581.9 465.5L582.9 465.6L583.9 465.7L584.9 465.8L585.9 465.9L586.9 466.0L587.9 466.0L588.9 466.0L589.9 466.1L590.9 466.1L591.9 466.1L592.9 466.1L593.9 466.1L594.9 466.1L595.9 466.1L596.9 466.1L597.9 466.1L598.9 466.1L599.9 466.2L600.9 466.2L601.9 466.2L602.9 466.2L603.9 466.2L604.9 466.2L605.9 466.2L606.9 466.2L607.9 466.2L608.9 466.2L609.9 466.2L610.9 466.2L611.9 466.2L612.9 466.2L613.9 466.2L614.9 466.2L615.9 466.2L616.9 466.2L617.9 466.2L618.9 466.2L619.9 466.3L620.9 466.3L621.9 466.3L622.9 466.3L623.9 466.3L624.9 466.3L625.9 466.3L626.9 466.3L627.9 466.3L628.9 466.3L629.9 466.3L630.9 466.3L631.9 466.3L632.9 466.2L633.9 466.0L634.9 465.8L635.9 465.5L636.9 465.2L637.9 464.8L638.9 464.4L639.9 464.0L640.9 463.6L641.9 463.1L642.9 462.6L643.9 461.9L644.9 461.0L645.9 459.6L646.9 457.8L647.9 455.8L648.9 453.7L649.9 451.2L650.9 448.6L651.9 446.1L652.9 443.9L653.9 441.8L654.9 439.4L655.9 436.8L656.9 434.5L657.9 432.8L658.9 431.4L659.9 430.4L660.9 429.7L661.9 429.2L662.9 428.9L663.2 428.9L663.9 429.0L664.9 429.4L665.9 429.8L666.9 430.4L667.9 431.0L668.9 431.6L669.9 432.4L670.9 433.2L671.9 434.1L672.9 434.9L673.9 435.7L674.9 436.5L675.9 437.3L676.9 438.1L677.9 438.7L678.9 439.1L679.9 439.1L680.9 439.0L681.9 438.7L682.9 438.4L683.9 438.1L684.9 437.7L685.9 437.4L686.9 437.0L687.9 436.7L688.9 436.2L689.9 435.7L690.9 435.2L691.9 434.5L692.9 433.7L693.9 432.5L694.9 431.1L695.9 429.5L696.9 427.9L697.9 426.4L698.9 424.8L699.9 423.0L700.9 421.2L701.9 419.5L702.9 417.7L703.9 416.0L704.9 414.2L705.9 412.4L706.9 410.6L707.9 409.1L708.9 407.7L709.9 406.5L710.9 405.4L711.9 404.7L712.9 404.2L713.8 404.1L713.9 404.1L714.9 404.4L715.9 404.9L716.9 405.8L717.9 407.0L718.9 408.4L719.9 410.0L720.9 411.8L721.9 413.8L722.9 416.0L723.9 418.4L724.9 420.9L725.9 423.5L726.9 426.0L727.9 428.5L728.9 430.8L729.9 433.1L730.9 435.5L731.9 437.8L732.9 440.0L733.9 442.1L734.9 444.0L735.9 445.6L736.9 447.1L737.9 448.5L738.9 449.8L739.9 451.0L740.9 452.2L741.9 453.2L742.9 454.2L743.9 455.1L744.9 456.1L745.9 456.9L746.9 457.8L747.9 458.6L748.9 459.4L749.9 460.1L750.9 460.8L751.9 461.4L752.9 462.0L753.9 462.5L754.9 463.0L755.9 463.5L756.9 463.9L757.9 464.4L758.9 464.8L759.9 465.3L760.9 465.7L761.9 466.0L762.9 466.3L763.9 466.6L764.9 466.8L765.9 466.9L766.9 467.0L767.9 467.1L768.9 467.2L769.9 467.3L770.9 467.4L771.9 467.4L772.9 467.5L773.9 467.5L774.9 467.6L775.9 467.6L776.9 467.7L777.9 467.7L778.9 467.8L779.9 467.8L780.9 467.8L781.9 467.9L782.9 467.9L783.9 467.9L784.9 468.0L785.9 468.0L786.9 468.0L787.9 468.1L788.9 468.1L789.9 468.1L790.9 468.1L791.9 468.2L792.9 468.2L793.9 468.2L794.9 468.2L795.9 468.3L796.9 468.3L797.9 468.3L798.9 468.3L799.9 468.3L800.9 468.3L801.9 468.4L802.9 468.4L803.9 468.4L804.9 468.4L805.9 468.4L806.9 468.4L806.9 468.9" fill="#2e62a8" stroke="#1858e0" stroke-width="1.2" stroke-linejoin="miter" stroke-miterlimit="3"/>
<path d="M86.8 485.4L86.8 469.4L87.8 469.0L88.8 468.6L89.8 468.2L90.8 467.9L91.8 467.6L92.8 467.3L93.8 467.1L94.8 466.9L95.8 466.7L96.8 466.5L97.8 466.3L98.8 466.2L99.8 466.1L100.8 465.9L101.8 465.8L102.8 465.7L103.8 465.6L104.8 465.5L105.8 465.4L106.8 465.4L107.8 465.3L108.8 465.3L109.8 465.3L110.8 465.3L111.8 465.3L112.8 465.3L113.8 465.3L114.8 465.3L115.8 465.2L116.8 465.2L117.8 465.2L118.8 465.2L119.8 465.2L120.8 465.2L121.8 465.2L122.8 465.2L123.8 465.2L124.8 465.2L125.8 465.2L126.8 465.2L127.8 465.2L128.8 465.2L129.8 465.2L130.8 465.2L131.8 465.2L132.8 465.2L133.8 465.2L134.8 465.2L135.8 465.2L136.8 465.2L137.8 465.2L138.8 465.2L139.8 465.1L140.8 465.1L141.8 465.1L142.8 465.1L143.8 465.1L144.8 465.1L145.8 465.1L146.8 465.1L147.8 465.1L148.8 465.1L149.8 465.1L150.8 465.1L151.8 465.1L152.8 465.1L153.8 465.1L154.8 465.1L155.8 465.1L156.8 465.1L157.8 465.1L158.8 465.1L159.8 465.1L160.8 465.1L161.8 465.1L162.8 465.0L163.8 465.0L164.8 465.0L165.8 465.0L166.8 465.0L167.8 465.0L168.8 465.0L169.8 465.0L170.8 465.0L171.8 465.0L172.8 464.9L173.8 464.9L174.8 464.9L175.8 464.9L176.8 464.8L177.8 464.8L178.8 464.8L179.8 464.7L180.8 464.6L181.8 464.3L182.8 463.9L183.8 463.4L184.8 462.9L185.8 462.4L186.8 461.9L187.8 461.3L188.8 460.8L189.8 460.2L190.8 459.5L191.8 458.9L192.8 458.2L193.8 457.5L194.8 456.7L195.8 455.9L196.8 455.1L197.8 454.4L198.8 453.7L199.8 453.0L200.8 452.3L201.8 451.6L202.8 451.0L203.8 450.8L203.9 450.8L204.8 451.5L205.6 452.1L205.8 452.1L206.8 452.0L207.8 451.7L208.8 451.4L209.8 451.0L210.8 450.5L211.8 450.0L212.8 449.5L213.8 448.9L214.8 448.3L215.8 447.7L216.8 446.8L217.8 445.5L218.8 443.7L219.8 441.1L220.8 437.8L221.8 434.0L222.8 429.4L223.8 424.1L224.8 418.0L225.8 411.0L226.8 403.2L227.8 395.7L228.8 388.5L229.8 381.3L230.8 374.1L231.8 366.9L232.8 359.7L233.8 352.4L234.8 344.8L235.8 337.1L236.8 330.2L237.8 324.2L238.8 319.1L239.8 315.4L240.8 312.3L241.8 309.9L242.8 307.7L243.8 306.1L244.8 305.3L245.8 304.8L246.8 304.5L247.8 304.1L248.8 303.7L249.8 303.2L250.8 302.8L251.8 302.2L252.8 301.4L253.8 299.9L254.8 297.6L255.8 295.4L256.8 293.0L257.8 290.7L258.8 288.5L259.8 286.4L260.8 284.4L261.8 282.6L262.8 281.0L263.8 279.5L264.8 278.4L265.7 277.5L265.8 277.4L266.2 276.9L266.8 277.4L267.8 278.0L268.8 278.8L269.8 281.0L270.8 284.5L271.8 290.2L272.8 296.2L273.8 302.3L274.8 308.2L275.8 313.9L276.8 319.5L277.8 325.1L278.8 332.5L279.8 341.3L280.8 350.5L281.8 359.0L282.8 367.2L283.8 375.3L284.8 382.9L285.8 389.7L286.8 395.5L287.8 400.8L288.8 405.6L289.8 410.2L290.8 414.6L291.8 419.0L292.8 423.2L293.8 427.1L294.8 430.6L295.8 433.6L296.8 436.4L297.8 438.9L298.8 441.1L299.8 443.0L300.8 444.9L301.8 446.5L302.8 447.9L303.8 448.9L304.8 449.6L305.8 450.3L306.8 450.9L307.8 451.3L308.8 451.6L309.5 451.6L309.8 451.6L310.8 451.3L311.8 450.6L312.8 449.6L313.8 448.4L314.8 447.0L315.8 445.1L316.8 441.9L317.8 437.8L318.8 433.6L319.8 428.7L320.8 423.2L321.8 417.4L322.8 411.1L323.8 404.2L324.8 397.0L325.8 389.6L326.8 382.0L327.8 373.9L328.8 365.1L329.8 355.3L330.8 344.0L331.8 329.8L332.8 316.3L333.8 303.8L334.8 291.8L335.8 280.4L336.8 269.4L337.8 258.9L338.8 249.4L339.8 241.1L340.8 233.3L341.8 225.7L342.8 218.9L343.8 212.6L344.8 207.9L345.8 204.4L346.8 201.7L347.8 199.7L348.7 198.3L348.8 198.2L349.3 197.5L349.8 198.0L349.9 198.1L350.8 198.6L351.8 199.2L352.8 201.1L353.8 203.8L354.8 206.9L355.8 210.7L356.8 214.6L357.8 218.2L358.8 221.8L359.8 225.5L360.8 229.3L361.8 233.0L362.8 236.9L363.8 241.0L364.8 244.4L365.8 247.1L366.8 249.3L367.8 251.6L368.8 254.1L369.8 257.0L370.8 260.1L371.8 263.2L372.8 266.2L373.8 268.9L374.8 271.3L375.8 273.7L376.8 276.4L377.8 280.0L378.8 284.9L379.8 290.1L380.8 295.3L381.8 300.7L382.8 306.1L383.8 311.6L384.8 317.4L385.8 323.3L386.8 328.9L387.8 334.0L388.8 338.8L389.8 343.8L390.8 348.8L391.8 353.9L392.8 359.7L393.8 366.3L394.8 373.0L395.8 379.3L396.8 385.4L397.8 391.2L398.8 396.8L399.8 402.3L400.8 407.0L401.8 410.4L402.8 413.3L403.8 416.0L404.8 418.5L405.8 420.8L406.8 423.1L407.8 425.5L408.8 428.3L409.8 431.4L410.8 434.6L411.8 437.9L412.8 441.0L413.8 443.8L414.8 446.2L415.8 448.4L416.8 450.4L417.8 452.2L418.8 453.9L419.8 455.5L420.8 457.0L421.8 458.3L422.8 459.6L423.8 460.9L424.8 462.0L425.8 463.1L426.8 464.2L427.8 465.1L428.8 466.0L429.8 466.8L430.8 467.5L431.8 468.2L432.8 468.8L433.8 469.4L434.8 469.9L435.8 470.4L436.8 470.9L437.8 471.4L438.8 471.8L439.8 472.2L440.8 472.6L441.8 473.0L442.8 473.4L443.8 473.7L444.8 474.0L445.8 474.3L446.8 474.5L447.8 474.8L448.8 475.0L449.8 475.2L450.8 475.4L451.8 475.6L452.8 475.8L453.8 476.0L454.8 476.1L455.8 476.2L456.8 476.3L457.8 476.5L458.8 476.6L459.8 476.7L460.8 476.8L461.8 476.9L462.8 477.0L463.8 477.0L464.8 477.1L465.8 477.1L466.8 477.1L467.8 477.0L468.8 477.0L469.8 477.0L470.8 477.0L471.8 477.0L472.8 476.9L473.8 476.9L474.8 476.8L475.8 476.8L476.8 476.7L477.8 476.7L478.8 476.6L479.8 476.5L480.8 476.5L481.8 476.3L482.8 476.0L483.8 475.7L484.8 475.2L485.8 474.7L486.8 474.1L487.8 473.6L488.8 473.1L489.8 472.5L490.8 472.0L491.8 471.4L492.8 470.7L493.8 470.1L494.8 469.5L495.8 468.9L496.8 468.4L497.8 467.8L498.8 467.2L499.8 466.7L500.8 466.3L501.8 465.9L502.8 465.6L503.8 465.4L504.8 465.1L505.8 465.0L506.8 464.8L507.8 464.7L508.8 464.6L509.8 464.6L510.8 464.6L511.8 464.8L512.8 465.0L513.8 465.3L514.8 465.7L515.8 466.2L516.8 466.7L517.8 467.2L518.8 467.7L519.8 468.2L520.8 468.7L521.8 469.2L522.8 469.7L523.8 470.2L524.8 470.6L525.8 471.0L526.8 471.5L527.8 471.9L528.8 472.3L529.8 472.7L530.8 473.1L531.8 473.5L532.8 473.9L533.8 474.2L534.8 474.6L535.8 474.9L536.8 475.3L537.8 475.6L538.8 475.9L539.8 476.3L540.8 476.6L541.8 476.9L542.8 477.2L543.8 477.5L544.8 477.8L545.8 478.0L546.8 478.3L547.8 478.6L548.8 478.9L549.8 479.1L550.8 479.4L551.8 479.6L552.8 479.8L553.8 480.1L554.8 480.3L555.8 480.4L556.8 480.6L557.8 480.8L558.8 480.9L559.8 481.1L560.8 481.2L561.8 481.3L562.8 481.5L563.8 481.6L564.8 481.7L565.8 481.9L566.8 482.0L567.8 482.1L568.8 482.2L569.8 482.3L570.8 482.4L571.8 482.4L572.8 482.5L573.8 482.5L574.8 482.6L575.8 482.6L576.8 482.6L577.8 482.6L578.8 482.6L579.8 482.6L580.8 482.6L581.8 482.7L582.8 482.7L583.8 482.7L584.8 482.7L585.8 482.7L586.8 482.7L587.8 482.7L588.8 482.7L589.8 482.7L590.8 482.7L591.8 482.7L592.8 482.7L593.8 482.7L594.8 482.7L595.8 482.8L596.8 482.8L597.8 482.8L598.8 482.8L599.8 482.8L600.8 482.8L601.8 482.8L602.8 482.8L603.8 482.8L604.8 482.8L605.8 482.8L606.8 482.8L607.8 482.8L608.8 482.8L609.8 482.8L610.8 482.8L611.8 482.8L612.8 482.8L613.8 482.8L614.8 482.8L615.8 482.8L616.8 482.8L617.8 482.8L618.8 482.7L619.8 482.6L620.8 482.4L621.8 482.1L622.8 481.8L623.8 481.4L624.8 481.0L625.8 480.6L626.8 480.1L627.8 479.7L628.8 479.2L629.8 478.5L630.8 477.6L631.8 476.1L632.8 474.4L633.8 472.4L634.8 470.3L635.8 467.8L636.8 465.2L637.8 462.8L638.8 460.6L639.8 458.5L640.8 456.1L641.8 453.5L642.8 451.2L643.8 449.5L644.8 448.2L645.8 447.2L646.8 446.5L647.8 446.0L648.8 445.7L649.1 445.6L649.8 445.7L650.8 446.1L651.8 446.6L652.8 447.1L653.8 447.7L654.8 448.4L655.8 449.1L656.8 450.0L657.8 450.8L658.8 451.7L659.8 452.4L660.8 453.2L661.8 454.0L662.8 454.8L663.8 455.4L664.8 455.8L665.8 455.8L666.8 455.7L667.8 455.4L668.8 455.1L669.8 454.8L670.8 454.4L671.8 454.1L672.8 453.7L673.8 453.4L674.8 452.9L675.8 452.4L676.8 451.9L677.8 451.2L678.8 450.4L679.8 449.2L680.8 447.8L681.8 446.3L682.8 444.7L683.8 443.2L684.8 441.5L685.8 439.8L686.8 438.1L687.8 436.3L688.8 434.5L689.8 432.8L690.8 431.0L691.8 429.2L692.8 427.5L693.8 426.0L694.8 424.6L695.8 423.3L696.8 422.3L697.8 421.6L698.8 421.2L699.7 421.0L699.8 421.0L700.8 421.3L701.8 421.8L702.8 422.7L703.8 423.9L704.8 425.2L705.8 426.9L706.8 428.6L707.8 430.6L708.8 432.8L709.8 435.2L710.8 437.7L711.8 440.3L712.8 442.8L713.8 445.2L714.8 447.5L715.8 449.9L716.8 452.2L717.8 454.5L718.8 456.7L719.8 458.8L720.8 460.7L721.8 462.3L722.8 463.8L723.8 465.1L724.8 466.4L725.8 467.7L726.8 468.8L727.8 469.8L728.8 470.8L729.8 471.8L730.8 472.7L731.8 473.5L732.8 474.4L733.8 475.2L734.8 475.9L735.8 476.7L736.8 477.3L737.8 477.9L738.8 478.5L739.8 479.0L740.8 479.5L741.8 480.0L742.8 480.5L743.8 480.9L744.8 481.4L745.8 481.8L746.8 482.2L747.8 482.5L748.8 482.8L749.8 483.1L750.8 483.3L751.8 483.5L752.8 483.6L753.8 483.7L754.8 483.7L755.8 483.8L756.8 483.9L757.8 484.0L758.8 484.0L759.8 484.1L760.8 484.1L761.8 484.2L762.8 484.2L763.8 484.3L764.8 484.3L765.8 484.3L766.8 484.4L767.8 484.4L768.8 484.4L769.8 484.5L770.8 484.5L771.8 484.5L772.8 484.5L773.8 484.6L774.8 484.6L775.8 484.6L776.8 484.7L777.8 484.7L778.8 484.7L779.8 484.7L780.8 484.8L781.8 484.8L782.8 484.8L783.8 484.8L784.8 484.8L785.8 484.9L786.8 484.9L787.8 484.9L788.8 484.9L789.8 484.9L790.8 484.9L791.8 484.9L792.8 484.9L792.8 485.4" fill="#219a9a" stroke="#18b4c8" stroke-width="1.2" stroke-linejoin="miter" stroke-miterlimit="3"/>
<path d="M72.7 501.9L72.7 486.1L73.7 485.6L74.7 485.3L75.7 484.9L76.7 484.6L77.7 484.3L78.7 484.0L79.7 483.7L80.7 483.5L81.7 483.3L82.7 483.1L83.7 483.0L84.7 482.8L85.7 482.7L86.7 482.6L87.7 482.5L88.7 482.4L89.7 482.3L90.7 482.2L91.7 482.1L92.7 482.0L93.7 482.0L94.7 482.0L95.7 482.0L96.7 482.0L97.7 481.9L98.7 481.9L99.7 481.9L100.7 481.9L101.7 481.9L102.7 481.9L103.7 481.9L104.7 481.9L105.7 481.9L106.7 481.9L107.7 481.9L108.7 481.9L109.7 481.9L110.7 481.9L111.7 481.9L112.7 481.9L113.7 481.8L114.7 481.8L115.7 481.8L116.7 481.8L117.7 481.8L118.7 481.8L119.7 481.8L120.7 481.8L121.7 481.8L122.7 481.8L123.7 481.8L124.7 481.8L125.7 481.8L126.7 481.8L127.7 481.8L128.7 481.8L129.7 481.8L130.7 481.8L131.7 481.8L132.7 481.8L133.7 481.8L134.7 481.8L135.7 481.8L136.7 481.8L137.7 481.8L138.7 481.8L139.7 481.8L140.7 481.7L141.7 481.7L142.7 481.7L143.7 481.7L144.7 481.7L145.7 481.7L146.7 481.7L147.7 481.7L148.7 481.7L149.7 481.7L150.7 481.7L151.7 481.7L152.7 481.7L153.7 481.7L154.7 481.7L155.7 481.7L156.7 481.6L157.7 481.6L158.7 481.6L159.7 481.6L160.7 481.6L161.7 481.5L162.7 481.5L163.7 481.5L164.7 481.4L165.7 481.4L166.7 481.3L167.7 481.0L168.7 480.5L169.7 480.0L170.7 479.5L171.7 479.1L172.7 478.6L173.7 478.0L174.7 477.4L175.7 476.8L176.7 476.2L177.7 475.6L178.7 474.9L179.7 474.2L180.7 473.4L181.7 472.6L182.7 471.9L183.7 471.1L184.7 470.4L185.7 469.7L186.7 469.0L187.7 468.3L188.7 467.8L189.7 467.6L189.8 467.6L190.7 468.3L191.5 468.9L191.7 468.9L192.7 468.7L193.7 468.5L194.7 468.2L195.7 467.8L196.7 467.3L197.7 466.8L198.7 466.2L199.7 465.7L200.7 465.1L201.7 464.5L202.7 463.6L203.7 462.3L204.7 460.5L205.7 458.0L206.7 454.7L207.7 450.9L208.7 446.4L209.7 441.0L210.7 435.0L211.7 428.0L212.7 420.3L213.7 412.9L214.7 405.7L215.7 398.5L216.7 391.4L217.7 384.3L218.7 377.1L219.7 369.9L220.7 362.3L221.7 354.7L222.7 347.8L223.7 341.8L224.7 336.8L225.7 333.1L226.7 330.0L227.7 327.6L228.7 325.5L229.7 323.9L230.7 323.1L231.7 322.6L232.7 322.3L233.7 321.9L234.7 321.5L235.7 321.0L236.7 320.6L237.7 320.0L238.7 319.2L239.7 317.7L240.7 315.4L241.7 313.2L242.7 310.9L243.7 308.6L244.7 306.4L245.7 304.3L246.7 302.3L247.7 300.6L248.7 298.9L249.7 297.5L250.7 296.4L251.6 295.5L251.7 295.4L252.1 294.9L252.7 295.4L253.7 295.9L254.7 296.7L255.7 299.0L256.7 302.5L257.7 308.1L258.7 314.0L259.7 320.1L260.7 326.0L261.7 331.6L262.7 337.1L263.7 342.8L264.7 350.0L265.7 358.8L266.7 368.0L267.7 376.4L268.7 384.6L269.7 392.6L270.7 400.1L271.7 406.9L272.7 412.7L273.7 417.9L274.7 422.7L275.7 427.2L276.7 431.7L277.7 436.0L278.7 440.2L279.7 444.0L280.7 447.5L281.7 450.5L282.7 453.2L283.7 455.7L284.7 457.9L285.7 459.8L286.7 461.6L287.7 463.3L288.7 464.6L289.7 465.6L290.7 466.3L291.7 467.0L292.7 467.5L293.7 468.0L294.7 468.2L295.4 468.2L295.7 468.2L296.7 467.9L297.7 467.2L298.7 466.2L299.7 465.0L300.7 463.6L301.7 461.7L302.7 458.4L303.7 454.4L304.7 450.1L305.7 445.2L306.7 439.8L307.7 433.9L308.7 427.6L309.7 420.7L310.7 413.5L311.7 406.2L312.7 398.6L313.7 390.4L314.7 381.6L315.7 371.8L316.7 360.5L317.7 346.3L318.7 332.8L319.7 320.3L320.7 308.4L321.7 296.9L322.7 285.9L323.7 275.4L324.7 265.9L325.7 257.7L326.7 249.8L327.7 242.2L328.7 235.4L329.7 229.1L330.7 224.4L331.7 220.9L332.7 218.2L333.7 216.2L334.6 214.8L334.7 214.7L335.2 214.0L335.7 214.5L335.8 214.6L336.7 215.1L337.7 215.8L338.7 217.6L339.7 220.3L340.7 223.4L341.7 227.2L342.7 231.1L343.7 234.7L344.7 238.4L345.7 242.0L346.7 245.8L347.7 249.6L348.7 253.4L349.7 257.5L350.7 261.0L351.7 263.6L352.7 265.9L353.7 268.1L354.7 270.6L355.7 273.5L356.7 276.6L357.7 279.7L358.7 282.8L359.7 285.4L360.7 287.8L361.7 290.2L362.7 292.9L363.7 296.5L364.7 301.4L365.7 306.6L366.7 311.8L367.7 317.2L368.7 322.6L369.7 328.1L370.7 333.9L371.7 339.9L372.7 345.4L373.7 350.5L374.7 355.4L375.7 360.4L376.7 365.3L377.7 370.5L378.7 376.3L379.7 382.8L380.7 389.5L381.7 395.8L382.7 401.9L383.7 407.7L384.7 413.3L385.7 418.9L386.7 423.5L387.7 427.0L388.7 429.8L389.7 432.5L390.7 435.0L391.7 437.3L392.7 439.6L393.7 442.0L394.7 444.8L395.7 447.9L396.7 451.1L397.7 454.4L398.7 457.5L399.7 460.4L400.7 462.7L401.7 464.9L402.7 466.9L403.7 468.7L404.7 470.5L405.7 472.1L406.7 473.5L407.7 474.9L408.7 476.2L409.7 477.4L410.7 478.6L411.7 479.7L412.7 480.7L413.7 481.6L414.7 482.5L415.7 483.3L416.7 484.0L417.7 484.7L418.7 485.3L419.7 485.9L420.7 486.4L421.7 486.9L422.7 487.4L423.7 487.9L424.7 488.3L425.7 488.7L426.7 489.1L427.7 489.5L428.7 489.9L429.7 490.2L430.7 490.5L431.7 490.8L432.7 491.1L433.7 491.3L434.7 491.5L435.7 491.8L436.7 492.0L437.7 492.1L438.7 492.3L439.7 492.5L440.7 492.6L441.7 492.7L442.7 492.9L443.7 493.0L444.7 493.1L445.7 493.2L446.7 493.3L447.7 493.4L448.7 493.5L449.7 493.5L450.7 493.6L451.7 493.6L452.7 493.6L453.7 493.6L454.7 493.6L455.7 493.5L456.7 493.5L457.7 493.5L458.7 493.4L459.7 493.4L460.7 493.4L461.7 493.3L462.7 493.3L463.7 493.2L464.7 493.1L465.7 493.1L466.7 493.0L467.7 492.8L468.7 492.6L469.7 492.2L470.7 491.7L471.7 491.2L472.7 490.6L473.7 490.1L474.7 489.6L475.7 489.1L476.7 488.5L477.7 487.9L478.7 487.3L479.7 486.6L480.7 486.0L481.7 485.4L482.7 484.9L483.7 484.3L484.7 483.7L485.7 483.2L486.7 482.8L487.7 482.4L488.7 482.1L489.7 481.9L490.7 481.7L491.7 481.5L492.7 481.3L493.7 481.2L494.7 481.1L495.7 481.1L496.7 481.1L497.7 481.3L498.7 481.5L499.7 481.8L500.7 482.2L501.7 482.8L502.7 483.3L503.7 483.7L504.7 484.2L505.7 484.7L506.7 485.2L507.7 485.7L508.7 486.2L509.7 486.7L510.7 487.1L511.7 487.6L512.7 488.0L513.7 488.4L514.7 488.8L515.7 489.2L516.7 489.6L517.7 490.0L518.7 490.4L519.7 490.7L520.7 491.1L521.7 491.5L522.7 491.8L523.7 492.1L524.7 492.5L525.7 492.8L526.7 493.1L527.7 493.4L528.7 493.7L529.7 494.0L530.7 494.3L531.7 494.6L532.7 494.8L533.7 495.1L534.7 495.4L535.7 495.6L536.7 495.9L537.7 496.1L538.7 496.4L539.7 496.6L540.7 496.8L541.7 497.0L542.7 497.1L543.7 497.3L544.7 497.4L545.7 497.6L546.7 497.7L547.7 497.9L548.7 498.0L549.7 498.1L550.7 498.3L551.7 498.4L552.7 498.5L553.7 498.6L554.7 498.7L555.7 498.8L556.7 498.9L557.7 499.0L558.7 499.0L559.7 499.1L560.7 499.1L561.7 499.1L562.7 499.1L563.7 499.1L564.7 499.1L565.7 499.2L566.7 499.2L567.7 499.2L568.7 499.2L569.7 499.2L570.7 499.2L571.7 499.2L572.7 499.2L573.7 499.2L574.7 499.2L575.7 499.2L576.7 499.2L577.7 499.2L578.7 499.3L579.7 499.3L580.7 499.3L581.7 499.3L582.7 499.3L583.7 499.3L584.7 499.3L585.7 499.3L586.7 499.3L587.7 499.3L588.7 499.3L589.7 499.3L590.7 499.3L591.7 499.3L592.7 499.3L593.7 499.3L594.7 499.3L595.7 499.3L596.7 499.3L597.7 499.3L598.7 499.3L599.7 499.3L600.7 499.3L601.7 499.3L602.7 499.3L603.7 499.3L604.7 499.2L605.7 499.1L606.7 498.9L607.7 498.6L608.7 498.3L609.7 497.9L610.7 497.5L611.7 497.1L612.7 496.7L613.7 496.2L614.7 495.7L615.7 495.0L616.7 494.1L617.7 492.7L618.7 490.9L619.7 488.9L620.7 486.8L621.7 484.4L622.7 481.7L623.7 479.3L624.7 477.1L625.7 475.0L626.7 472.6L627.7 470.1L628.7 467.7L629.7 466.0L630.7 464.7L631.7 463.7L632.7 463.0L633.7 462.5L634.7 462.2L635.0 462.2L635.7 462.3L636.7 462.7L637.7 463.1L638.7 463.6L639.7 464.2L640.7 464.9L641.7 465.6L642.7 466.5L643.7 467.4L644.7 468.2L645.7 468.9L646.7 469.7L647.7 470.6L648.7 471.3L649.7 471.9L650.7 472.3L651.7 472.3L652.7 472.2L653.7 472.0L654.7 471.7L655.7 471.3L656.7 471.0L657.7 470.6L658.7 470.3L659.7 469.9L660.7 469.4L661.7 469.0L662.7 468.4L663.7 467.7L664.7 466.9L665.7 465.7L666.7 464.3L667.7 462.8L668.7 461.2L669.7 459.7L670.7 458.1L671.7 456.3L672.7 454.6L673.7 452.8L674.7 451.1L675.7 449.3L676.7 447.5L677.7 445.7L678.7 444.0L679.7 442.5L680.7 441.1L681.7 439.9L682.7 438.8L683.7 438.1L684.7 437.7L685.6 437.5L685.7 437.5L686.7 437.8L687.7 438.4L688.7 439.2L689.7 440.4L690.7 441.8L691.7 443.4L692.7 445.2L693.7 447.1L694.7 449.3L695.7 451.7L696.7 454.3L697.7 456.8L698.7 459.3L699.7 461.7L700.7 464.0L701.7 466.4L702.7 468.7L703.7 471.0L704.7 473.3L705.7 475.3L706.7 477.2L707.7 478.8L708.7 480.3L709.7 481.7L710.7 483.0L711.7 484.2L712.7 485.3L713.7 486.4L714.7 487.3L715.7 488.3L716.7 489.2L717.7 490.1L718.7 490.9L719.7 491.7L720.7 492.5L721.7 493.2L722.7 493.8L723.7 494.5L724.7 495.0L725.7 495.5L726.7 496.0L727.7 496.5L728.7 497.0L729.7 497.5L730.7 497.9L731.7 498.3L732.7 498.7L733.7 499.1L734.7 499.4L735.7 499.6L736.7 499.8L737.7 500.0L738.7 500.1L739.7 500.2L740.7 500.3L741.7 500.3L742.7 500.4L743.7 500.5L744.7 500.5L745.7 500.6L746.7 500.6L747.7 500.7L748.7 500.7L749.7 500.8L750.7 500.8L751.7 500.9L752.7 500.9L753.7 500.9L754.7 501.0L755.7 501.0L756.7 501.0L757.7 501.0L758.7 501.1L759.7 501.1L760.7 501.1L761.7 501.2L762.7 501.2L763.7 501.2L764.7 501.2L765.7 501.3L766.7 501.3L767.7 501.3L768.7 501.3L769.7 501.3L770.7 501.4L771.7 501.4L772.7 501.4L773.7 501.4L774.7 501.4L775.7 501.4L776.7 501.4L777.7 501.4L778.7 501.4L778.7 501.9" fill="#a0621e" stroke="#e05018" stroke-width="1.2" stroke-linejoin="miter" stroke-miterlimit="3"/>
<path d="M58.5 518.5L58.5 502.0L59.5 501.6L60.5 501.2L61.5 500.8L62.5 500.5L63.5 500.2L64.5 499.9L65.5 499.7L66.5 499.4L67.5 499.2L68.5 499.0L69.5 498.9L70.5 498.7L71.5 498.6L72.5 498.5L73.5 498.3L74.5 498.2L75.5 498.1L76.5 498.0L77.5 498.0L78.5 497.9L79.5 497.9L80.5 497.8L81.5 497.8L82.5 497.8L83.5 497.8L84.5 497.8L85.5 497.8L86.5 497.8L87.5 497.8L88.5 497.8L89.5 497.8L90.5 497.7L91.5 497.7L92.5 497.7L93.5 497.7L94.5 497.7L95.5 497.7L96.5 497.7L97.5 497.7L98.5 497.7L99.5 497.7L100.5 497.7L101.5 497.7L102.5 497.7L103.5 497.7L104.5 497.7L105.5 497.7L106.5 497.7L107.5 497.7L108.5 497.7L109.5 497.7L110.5 497.7L111.5 497.7L112.5 497.7L113.5 497.7L114.5 497.6L115.5 497.6L116.5 497.6L117.5 497.6L118.5 497.6L119.5 497.6L120.5 497.6L121.5 497.6L122.5 497.6L123.5 497.6L124.5 497.6L125.5 497.6L126.5 497.6L127.5 497.6L128.5 497.6L129.5 497.6L130.5 497.6L131.5 497.6L132.5 497.6L133.5 497.6L134.5 497.6L135.5 497.6L136.5 497.5L137.5 497.5L138.5 497.5L139.5 497.5L140.5 497.5L141.5 497.5L142.5 497.5L143.5 497.5L144.5 497.5L145.5 497.4L146.5 497.4L147.5 497.4L148.5 497.3L149.5 497.3L150.5 497.3L151.5 497.2L152.5 497.1L153.5 496.8L154.5 496.3L155.5 495.8L156.5 495.3L157.5 494.8L158.5 494.3L159.5 493.7L160.5 493.2L161.5 492.5L162.5 491.9L163.5 491.2L164.5 490.5L165.5 489.8L166.5 489.0L167.5 488.2L168.5 487.4L169.5 486.6L170.5 485.9L171.5 485.2L172.5 484.4L173.5 483.7L174.5 483.2L175.5 483.0L175.6 483.0L176.5 483.7L177.3 484.3L177.5 484.3L178.5 484.1L179.5 483.9L180.5 483.6L181.5 483.2L182.5 482.7L183.5 482.1L184.5 481.6L185.5 481.0L186.5 480.4L187.5 479.7L188.5 478.9L189.5 477.5L190.5 475.7L191.5 473.0L192.5 469.6L193.5 465.7L194.5 461.0L195.5 455.5L196.5 449.3L197.5 442.1L198.5 434.1L199.5 426.5L200.5 419.0L201.5 411.6L202.5 404.2L203.5 396.9L204.5 389.5L205.5 382.0L206.5 374.2L207.5 366.3L208.5 359.2L209.5 353.0L210.5 347.9L211.5 344.0L212.5 340.8L213.5 338.3L214.5 336.1L215.5 334.5L216.5 333.7L217.5 333.2L218.5 332.8L219.5 332.5L220.5 332.0L221.5 331.5L222.5 331.1L223.5 330.5L224.5 329.7L225.5 328.1L226.5 325.8L227.5 323.5L228.5 321.1L229.5 318.7L230.5 316.4L231.5 314.3L232.5 312.2L233.5 310.4L234.5 308.7L235.5 307.2L236.5 306.1L237.4 305.2L237.5 305.0L237.9 304.5L238.5 305.1L239.5 305.6L240.5 306.4L241.5 308.8L242.5 312.3L243.5 318.1L244.5 324.3L245.5 330.6L246.5 336.7L247.5 342.5L248.5 348.2L249.5 354.0L250.5 361.5L251.5 370.6L252.5 380.0L253.5 388.8L254.5 397.2L255.5 405.5L256.5 413.3L257.5 420.2L258.5 426.2L259.5 431.6L260.5 436.6L261.5 441.3L262.5 445.9L263.5 450.4L264.5 454.7L265.5 458.7L266.5 462.2L267.5 465.3L268.5 468.2L269.5 470.8L270.5 473.1L271.5 475.1L272.5 477.0L273.5 478.7L274.5 480.1L275.5 481.2L276.5 482.0L277.5 482.7L278.5 483.3L279.5 483.8L280.5 484.1L281.2 484.2L281.5 484.2L282.5 484.0L283.5 483.3L284.5 482.4L285.5 481.3L286.5 479.9L287.5 478.1L288.5 474.8L289.5 470.8L290.5 466.6L291.5 461.7L292.5 456.3L293.5 450.5L294.5 444.2L295.5 437.3L296.5 430.2L297.5 422.8L298.5 415.2L299.5 407.1L300.5 398.3L301.5 388.6L302.5 377.3L303.5 363.1L304.5 349.7L305.5 337.2L306.5 325.3L307.5 313.8L308.5 302.9L309.5 292.4L310.5 282.9L311.5 274.7L312.5 266.8L313.5 259.2L314.5 252.4L315.5 246.2L316.5 241.5L317.5 238.0L318.5 235.3L319.5 233.3L320.4 231.9L320.5 231.8L321.0 231.1L321.5 231.6L321.6 231.7L322.5 232.2L323.5 232.8L324.5 234.7L325.5 237.4L326.5 240.5L327.5 244.3L328.5 248.2L329.5 251.8L330.5 255.4L331.5 259.1L332.5 262.8L333.5 266.6L334.5 270.4L335.5 274.5L336.5 278.0L337.5 280.6L338.5 282.9L339.5 285.1L340.5 287.6L341.5 290.5L342.5 293.6L343.5 296.7L344.5 299.7L345.5 302.4L346.5 304.7L347.5 307.1L348.5 309.9L349.5 313.4L350.5 318.3L351.5 323.5L352.5 328.7L353.5 334.1L354.5 339.5L355.5 345.0L356.5 350.8L357.5 356.7L358.5 362.2L359.5 367.3L360.5 372.2L361.5 377.2L362.5 382.1L363.5 387.2L364.5 393.0L365.5 399.6L366.5 406.3L367.5 412.5L368.5 418.6L369.5 424.4L370.5 430.0L371.5 435.5L372.5 440.2L373.5 443.6L374.5 446.5L375.5 449.1L376.5 451.6L377.5 453.9L378.5 456.2L379.5 458.7L380.5 461.4L381.5 464.5L382.5 467.7L383.5 471.0L384.5 474.1L385.5 477.0L386.5 479.3L387.5 481.5L388.5 483.5L389.5 485.3L390.5 487.0L391.5 488.6L392.5 490.1L393.5 491.4L394.5 492.7L395.5 494.0L396.5 495.1L397.5 496.2L398.5 497.3L399.5 498.2L400.5 499.1L401.5 499.9L402.5 500.6L403.5 501.3L404.5 501.9L405.5 502.5L406.5 503.0L407.5 503.5L408.5 504.0L409.5 504.4L410.5 504.9L411.5 505.3L412.5 505.7L413.5 506.1L414.5 506.4L415.5 506.8L416.5 507.1L417.5 507.3L418.5 507.6L419.5 507.8L420.5 508.1L421.5 508.3L422.5 508.5L423.5 508.7L424.5 508.9L425.5 509.0L426.5 509.2L427.5 509.3L428.5 509.4L429.5 509.5L430.5 509.6L431.5 509.8L432.5 509.9L433.5 510.0L434.5 510.0L435.5 510.1L436.5 510.1L437.5 510.1L438.5 510.1L439.5 510.1L440.5 510.1L441.5 510.1L442.5 510.0L443.5 510.0L444.5 510.0L445.5 509.9L446.5 509.9L447.5 509.9L448.5 509.8L449.5 509.7L450.5 509.7L451.5 509.6L452.5 509.5L453.5 509.4L454.5 509.1L455.5 508.7L456.5 508.3L457.5 507.7L458.5 507.2L459.5 506.7L460.5 506.1L461.5 505.6L462.5 505.0L463.5 504.4L464.5 503.8L465.5 503.2L466.5 502.6L467.5 502.0L468.5 501.4L469.5 500.9L470.5 500.3L471.5 499.8L472.5 499.3L473.5 499.0L474.5 498.7L475.5 498.4L476.5 498.2L477.5 498.0L478.5 497.9L479.5 497.8L480.5 497.7L481.5 497.7L482.5 497.7L483.5 497.9L484.5 498.1L485.5 498.3L486.5 498.8L487.5 499.3L488.5 499.8L489.5 500.3L490.5 500.8L491.5 501.3L492.5 501.8L493.5 502.3L494.5 502.8L495.5 503.2L496.5 503.7L497.5 504.1L498.5 504.5L499.5 504.9L500.5 505.3L501.5 505.7L502.5 506.1L503.5 506.5L504.5 506.9L505.5 507.3L506.5 507.7L507.5 508.0L508.5 508.4L509.5 508.7L510.5 509.0L511.5 509.3L512.5 509.6L513.5 509.9L514.5 510.2L515.5 510.5L516.5 510.8L517.5 511.1L518.5 511.4L519.5 511.7L520.5 511.9L521.5 512.2L522.5 512.4L523.5 512.7L524.5 512.9L525.5 513.1L526.5 513.3L527.5 513.5L528.5 513.7L529.5 513.8L530.5 514.0L531.5 514.1L532.5 514.2L533.5 514.4L534.5 514.5L535.5 514.7L536.5 514.8L537.5 514.9L538.5 515.0L539.5 515.1L540.5 515.2L541.5 515.3L542.5 515.4L543.5 515.5L544.5 515.5L545.5 515.6L546.5 515.6L547.5 515.6L548.5 515.7L549.5 515.7L550.5 515.7L551.5 515.7L552.5 515.7L553.5 515.7L554.5 515.7L555.5 515.7L556.5 515.7L557.5 515.7L558.5 515.7L559.5 515.7L560.5 515.8L561.5 515.8L562.5 515.8L563.5 515.8L564.5 515.8L565.5 515.8L566.5 515.8L567.5 515.8L568.5 515.8L569.5 515.8L570.5 515.8L571.5 515.8L572.5 515.8L573.5 515.8L574.5 515.8L575.5 515.8L576.5 515.8L577.5 515.8L578.5 515.8L579.5 515.8L580.5 515.8L581.5 515.8L582.5 515.8L583.5 515.8L584.5 515.8L585.5 515.8L586.5 515.8L587.5 515.8L588.5 515.8L589.5 515.8L590.5 515.8L591.5 515.6L592.5 515.4L593.5 515.1L594.5 514.8L595.5 514.4L596.5 514.0L597.5 513.6L598.5 513.2L599.5 512.8L600.5 512.2L601.5 511.5L602.5 510.6L603.5 509.2L604.5 507.4L605.5 505.4L606.5 503.4L607.5 500.9L608.5 498.3L609.5 495.9L610.5 493.7L611.5 491.6L612.5 489.2L613.5 486.7L614.5 484.3L615.5 482.6L616.5 481.3L617.5 480.3L618.5 479.6L619.5 479.1L620.5 478.8L620.8 478.8L621.5 478.9L622.5 479.3L623.5 479.7L624.5 480.2L625.5 480.8L626.5 481.5L627.5 482.2L628.5 483.1L629.5 483.9L630.5 484.8L631.5 485.5L632.5 486.3L633.5 487.1L634.5 487.9L635.5 488.5L636.5 488.9L637.5 488.9L638.5 488.8L639.5 488.5L640.5 488.2L641.5 487.9L642.5 487.5L643.5 487.2L644.5 486.9L645.5 486.5L646.5 486.0L647.5 485.5L648.5 485.0L649.5 484.3L650.5 483.5L651.5 482.3L652.5 480.9L653.5 479.4L654.5 477.8L655.5 476.3L656.5 474.7L657.5 473.0L658.5 471.2L659.5 469.4L660.5 467.7L661.5 465.9L662.5 464.2L663.5 462.4L664.5 460.7L665.5 459.1L666.5 457.8L667.5 456.5L668.5 455.4L669.5 454.8L670.5 454.3L671.4 454.1L671.5 454.1L672.5 454.4L673.5 455.0L674.5 455.9L675.5 457.0L676.5 458.4L677.5 460.0L678.5 461.8L679.5 463.8L680.5 466.0L681.5 468.4L682.5 470.9L683.5 473.4L684.5 475.9L685.5 478.3L686.5 480.6L687.5 483.0L688.5 485.3L689.5 487.6L690.5 489.8L691.5 491.9L692.5 493.7L693.5 495.4L694.5 496.8L695.5 498.2L696.5 499.5L697.5 500.7L698.5 501.9L699.5 502.9L700.5 503.9L701.5 504.8L702.5 505.7L703.5 506.6L704.5 507.4L705.5 508.2L706.5 509.0L707.5 509.7L708.5 510.4L709.5 511.0L710.5 511.6L711.5 512.1L712.5 512.6L713.5 513.1L714.5 513.5L715.5 514.0L716.5 514.4L717.5 514.9L718.5 515.2L719.5 515.6L720.5 515.9L721.5 516.1L722.5 516.4L723.5 516.5L724.5 516.6L725.5 516.7L726.5 516.8L727.5 516.9L728.5 516.9L729.5 517.0L730.5 517.1L731.5 517.1L732.5 517.2L733.5 517.2L734.5 517.3L735.5 517.3L736.5 517.3L737.5 517.4L738.5 517.4L739.5 517.4L740.5 517.5L741.5 517.5L742.5 517.5L743.5 517.6L744.5 517.6L745.5 517.6L746.5 517.6L747.5 517.7L748.5 517.7L749.5 517.7L750.5 517.8L751.5 517.8L752.5 517.8L753.5 517.8L754.5 517.8L755.5 517.9L756.5 517.9L757.5 517.9L758.5 517.9L759.5 517.9L760.5 517.9L761.5 517.9L762.5 517.9L763.5 518.0L764.5 518.0L764.5 518.5" fill="#14d040" stroke="#10ff38" stroke-width="1.2" stroke-linejoin="miter" stroke-miterlimit="3"/>
<path d="M44.4 535.0L44.4 518.9L45.4 518.4L46.4 518.0L47.4 517.7L48.4 517.3L49.4 517.0L50.4 516.8L51.4 516.5L52.4 516.3L53.4 516.1L54.4 515.9L55.4 515.7L56.4 515.6L57.4 515.5L58.4 515.3L59.4 515.2L60.4 515.1L61.4 515.0L62.4 514.9L63.4 514.8L64.4 514.8L65.4 514.7L66.4 514.7L67.4 514.7L68.4 514.7L69.4 514.7L70.4 514.7L71.4 514.7L72.4 514.7L73.4 514.6L74.4 514.6L75.4 514.6L76.4 514.6L77.4 514.6L78.4 514.6L79.4 514.6L80.4 514.6L81.4 514.6L82.4 514.6L83.4 514.6L84.4 514.6L85.4 514.6L86.4 514.6L87.4 514.6L88.4 514.6L89.4 514.6L90.4 514.6L91.4 514.6L92.4 514.6L93.4 514.6L94.4 514.6L95.4 514.6L96.4 514.5L97.4 514.5L98.4 514.5L99.4 514.5L100.4 514.5L101.4 514.5L102.4 514.5L103.4 514.5L104.4 514.5L105.4 514.5L106.4 514.5L107.4 514.5L108.4 514.5L109.4 514.5L110.4 514.5L111.4 514.5L112.4 514.5L113.4 514.5L114.4 514.5L115.4 514.5L116.4 514.5L117.4 514.5L118.4 514.5L119.4 514.5L120.4 514.4L121.4 514.4L122.4 514.4L123.4 514.4L124.4 514.4L125.4 514.4L126.4 514.4L127.4 514.4L128.4 514.4L129.4 514.4L130.4 514.3L131.4 514.3L132.4 514.3L133.4 514.3L134.4 514.2L135.4 514.2L136.4 514.2L137.4 514.1L138.4 514.0L139.4 513.7L140.4 513.3L141.4 512.8L142.4 512.2L143.4 511.8L144.4 511.2L145.4 510.7L146.4 510.1L147.4 509.5L148.4 508.9L149.4 508.2L150.4 507.6L151.4 506.8L152.4 506.0L153.4 505.2L154.4 504.4L155.4 503.7L156.4 503.0L157.4 502.3L158.4 501.5L159.4 500.9L160.4 500.3L161.4 500.1L161.5 500.1L162.4 500.8L163.2 501.4L163.4 501.4L164.4 501.3L165.4 501.0L166.4 500.7L167.4 500.3L168.4 499.8L169.4 499.3L170.4 498.7L171.4 498.2L172.4 497.6L173.4 496.9L174.4 496.1L175.4 494.8L176.4 492.9L177.4 490.4L178.4 487.0L179.4 483.1L180.4 478.6L181.4 473.1L182.4 467.0L183.4 459.9L184.4 452.1L185.4 444.6L186.4 437.2L187.4 430.0L188.4 422.8L189.4 415.5L190.4 408.3L191.4 400.9L192.4 393.2L193.4 385.5L194.4 378.5L195.4 372.4L196.4 367.4L197.4 363.6L198.4 360.5L199.4 358.0L200.4 355.8L201.4 354.2L202.4 353.4L203.4 353.0L204.4 352.6L205.4 352.2L206.4 351.8L207.4 351.3L208.4 350.9L209.4 350.3L210.4 349.5L211.4 347.9L212.4 345.7L213.4 343.4L214.4 341.0L215.4 338.7L216.4 336.5L217.4 334.4L218.4 332.4L219.4 330.6L220.4 328.9L221.4 327.5L222.4 326.3L223.3 325.4L223.4 325.3L223.8 324.8L224.4 325.3L225.4 325.9L226.4 326.7L227.4 329.0L228.4 332.5L229.4 338.2L230.4 344.2L231.4 350.4L232.4 356.4L233.4 362.1L234.4 367.7L235.4 373.4L236.4 380.8L237.4 389.7L238.4 399.0L239.4 407.6L240.4 415.9L241.4 424.0L242.4 431.6L243.4 438.5L244.4 444.4L245.4 449.7L246.4 454.6L247.4 459.2L248.4 463.6L249.4 468.1L250.4 472.3L251.4 476.2L252.4 479.7L253.4 482.8L254.4 485.6L255.4 488.1L256.4 490.3L257.4 492.3L258.4 494.1L259.4 495.8L260.4 497.2L261.4 498.2L262.4 499.0L263.4 499.6L264.4 500.2L265.4 500.7L266.4 501.0L267.1 501.0L267.4 501.0L268.4 500.7L269.4 500.0L270.4 499.1L271.4 497.9L272.4 496.5L273.4 494.6L274.4 491.4L275.4 487.3L276.4 483.1L277.4 478.2L278.4 472.8L279.4 466.9L280.4 460.6L281.4 453.7L282.4 446.5L283.4 439.2L284.4 431.6L285.4 423.5L286.4 414.6L287.4 404.8L288.4 393.6L289.4 379.4L290.4 365.9L291.4 353.4L292.4 341.4L293.4 330.0L294.4 319.0L295.4 308.5L296.4 299.0L297.4 290.7L298.4 282.8L299.4 275.2L300.4 268.4L301.4 262.1L302.4 257.4L303.4 253.9L304.4 251.2L305.4 249.3L306.3 247.9L306.4 247.7L306.9 247.1L307.4 247.6L307.5 247.7L308.4 248.1L309.4 248.8L310.4 250.7L311.4 253.4L312.4 256.5L313.4 260.3L314.4 264.1L315.4 267.8L316.4 271.4L317.4 275.1L318.4 278.8L319.4 282.6L320.4 286.4L321.4 290.5L322.4 294.0L323.4 296.6L324.4 298.9L325.4 301.1L326.4 303.6L327.4 306.5L328.4 309.6L329.4 312.8L330.4 315.8L331.4 318.5L332.4 320.8L333.4 323.2L334.4 326.0L335.4 329.5L336.4 334.5L337.4 339.6L338.4 344.9L339.4 350.2L340.4 355.6L341.4 361.2L342.4 367.0L343.4 372.9L344.4 378.4L345.4 383.5L346.4 388.4L347.4 393.4L348.4 398.4L349.4 403.5L350.4 409.3L351.4 415.9L352.4 422.6L353.4 428.8L354.4 434.9L355.4 440.8L356.4 446.4L357.4 451.9L358.4 456.6L359.4 460.0L360.4 462.9L361.4 465.5L362.4 468.0L363.4 470.3L364.4 472.6L365.4 475.1L366.4 477.8L367.4 480.9L368.4 484.2L369.4 487.4L370.4 490.6L371.4 493.4L372.4 495.8L373.4 497.9L374.4 499.9L375.4 501.8L376.4 503.5L377.4 505.1L378.4 506.5L379.4 507.9L380.4 509.2L381.4 510.4L382.4 511.6L383.4 512.7L384.4 513.7L385.4 514.7L386.4 515.6L387.4 516.4L388.4 517.1L389.4 517.7L390.4 518.4L391.4 518.9L392.4 519.5L393.4 520.0L394.4 520.5L395.4 520.9L396.4 521.4L397.4 521.8L398.4 522.2L399.4 522.6L400.4 522.9L401.4 523.3L402.4 523.6L403.4 523.8L404.4 524.1L405.4 524.3L406.4 524.6L407.4 524.8L408.4 525.0L409.4 525.2L410.4 525.4L411.4 525.5L412.4 525.7L413.4 525.8L414.4 525.9L415.4 526.0L416.4 526.1L417.4 526.3L418.4 526.4L419.4 526.5L420.4 526.5L421.4 526.6L422.4 526.6L423.4 526.6L424.4 526.6L425.4 526.6L426.4 526.6L427.4 526.6L428.4 526.6L429.4 526.5L430.4 526.5L431.4 526.4L432.4 526.4L433.4 526.4L434.4 526.3L435.4 526.2L436.4 526.2L437.4 526.1L438.4 526.0L439.4 525.9L440.4 525.6L441.4 525.2L442.4 524.7L443.4 524.2L444.4 523.7L445.4 523.2L446.4 522.6L447.4 522.1L448.4 521.5L449.4 520.9L450.4 520.3L451.4 519.7L452.4 519.1L453.4 518.5L454.4 517.9L455.4 517.4L456.4 516.8L457.4 516.3L458.4 515.8L459.4 515.5L460.4 515.2L461.4 514.9L462.4 514.7L463.4 514.5L464.4 514.4L465.4 514.3L466.4 514.2L467.4 514.1L468.4 514.2L469.4 514.3L470.4 514.6L471.4 514.8L472.4 515.3L473.4 515.8L474.4 516.3L475.4 516.8L476.4 517.3L477.4 517.8L478.4 518.3L479.4 518.8L480.4 519.2L481.4 519.7L482.4 520.2L483.4 520.6L484.4 521.0L485.4 521.4L486.4 521.8L487.4 522.2L488.4 522.6L489.4 523.0L490.4 523.4L491.4 523.8L492.4 524.2L493.4 524.5L494.4 524.9L495.4 525.2L496.4 525.5L497.4 525.8L498.4 526.1L499.4 526.4L500.4 526.7L501.4 527.0L502.4 527.3L503.4 527.6L504.4 527.9L505.4 528.2L506.4 528.4L507.4 528.7L508.4 528.9L509.4 529.2L510.4 529.4L511.4 529.6L512.4 529.8L513.4 530.0L514.4 530.2L515.4 530.3L516.4 530.5L517.4 530.6L518.4 530.8L519.4 530.9L520.4 531.0L521.4 531.2L522.4 531.3L523.4 531.4L524.4 531.5L525.4 531.6L526.4 531.7L527.4 531.8L528.4 531.9L529.4 532.0L530.4 532.1L531.4 532.1L532.4 532.1L533.4 532.2L534.4 532.2L535.4 532.2L536.4 532.2L537.4 532.2L538.4 532.2L539.4 532.2L540.4 532.2L541.4 532.2L542.4 532.2L543.4 532.2L544.4 532.3L545.4 532.3L546.4 532.3L547.4 532.3L548.4 532.3L549.4 532.3L550.4 532.3L551.4 532.3L552.4 532.3L553.4 532.3L554.4 532.3L555.4 532.3L556.4 532.3L557.4 532.3L558.4 532.3L559.4 532.3L560.4 532.3L561.4 532.3L562.4 532.3L563.4 532.3L564.4 532.4L565.4 532.4L566.4 532.4L567.4 532.4L568.4 532.4L569.4 532.4L570.4 532.4L571.4 532.4L572.4 532.4L573.4 532.4L574.4 532.4L575.4 532.4L576.4 532.3L577.4 532.1L578.4 531.9L579.4 531.6L580.4 531.3L581.4 530.9L582.4 530.5L583.4 530.1L584.4 529.7L585.4 529.3L586.4 528.7L587.4 528.0L588.4 527.1L589.4 525.7L590.4 523.9L591.4 521.9L592.4 519.9L593.4 517.4L594.4 514.8L595.4 512.3L596.4 510.2L597.4 508.0L598.4 505.7L599.4 503.1L600.4 500.8L601.4 499.0L602.4 497.7L603.4 496.7L604.4 496.0L605.4 495.5L606.4 495.2L606.7 495.2L607.4 495.3L608.4 495.7L609.4 496.1L610.4 496.7L611.4 497.3L612.4 497.9L613.4 498.7L614.4 499.5L615.4 500.4L616.4 501.2L617.4 502.0L618.4 502.8L619.4 503.6L620.4 504.4L621.4 505.0L622.4 505.3L623.4 505.4L624.4 505.2L625.4 505.0L626.4 504.7L627.4 504.4L628.4 504.0L629.4 503.7L630.4 503.3L631.4 502.9L632.4 502.5L633.4 502.0L634.4 501.4L635.4 500.8L636.4 499.9L637.4 498.8L638.4 497.4L639.4 495.9L640.4 494.3L641.4 492.7L642.4 491.1L643.4 489.4L644.4 487.6L645.4 485.8L646.4 484.1L647.4 482.4L648.4 480.6L649.4 478.8L650.4 477.1L651.4 475.5L652.4 474.2L653.4 472.9L654.4 471.8L655.4 471.2L656.4 470.7L657.3 470.5L657.4 470.5L658.4 470.8L659.4 471.4L660.4 472.3L661.4 473.4L662.4 474.8L663.4 476.4L664.4 478.2L665.4 480.2L666.4 482.4L667.4 484.8L668.4 487.3L669.4 489.9L670.4 492.4L671.4 494.8L672.4 497.1L673.4 499.4L674.4 501.8L675.4 504.1L676.4 506.3L677.4 508.4L678.4 510.2L679.4 511.8L680.4 513.3L681.4 514.7L682.4 516.0L683.4 517.2L684.4 518.3L685.4 519.4L686.4 520.4L687.4 521.3L688.4 522.2L689.4 523.1L690.4 523.9L691.4 524.7L692.4 525.5L693.4 526.2L694.4 526.9L695.4 527.5L696.4 528.1L697.4 528.6L698.4 529.1L699.4 529.6L700.4 530.0L701.4 530.5L702.4 531.0L703.4 531.4L704.4 531.8L705.4 532.1L706.4 532.4L707.4 532.7L708.4 532.9L709.4 533.0L710.4 533.1L711.4 533.2L712.4 533.3L713.4 533.4L714.4 533.4L715.4 533.5L716.4 533.6L717.4 533.6L718.4 533.7L719.4 533.7L720.4 533.8L721.4 533.8L722.4 533.9L723.4 533.9L724.4 533.9L725.4 534.0L726.4 534.0L727.4 534.0L728.4 534.1L729.4 534.1L730.4 534.1L731.4 534.1L732.4 534.2L733.4 534.2L734.4 534.2L735.4 534.2L736.4 534.3L737.4 534.3L738.4 534.3L739.4 534.3L740.4 534.4L741.4 534.4L742.4 534.4L743.4 534.4L744.4 534.4L745.4 534.4L746.4 534.5L747.4 534.5L748.4 534.5L749.4 534.5L750.4 534.5L750.4 535.0" fill="#c8207c" stroke="#ff1478" stroke-width="1.2" stroke-linejoin="miter" stroke-miterlimit="3"/>
<path d="M30.3 551.5L30.3 535.5L31.3 535.1L32.3 534.7L33.3 534.3L34.3 534.0L35.3 533.7L36.3 533.4L37.3 533.2L38.3 533.0L39.3 532.7L40.3 532.6L41.3 532.4L42.3 532.3L43.3 532.1L44.3 532.0L45.3 531.9L46.3 531.8L47.3 531.7L48.3 531.6L49.3 531.5L50.3 531.5L51.3 531.4L52.3 531.4L53.3 531.4L54.3 531.4L55.3 531.4L56.3 531.4L57.3 531.3L58.3 531.3L59.3 531.3L60.3 531.3L61.3 531.3L62.3 531.3L63.3 531.3L64.3 531.3L65.3 531.3L66.3 531.3L67.3 531.3L68.3 531.3L69.3 531.3L70.3 531.3L71.3 531.3L72.3 531.3L73.3 531.3L74.3 531.3L75.3 531.3L76.3 531.2L77.3 531.2L78.3 531.2L79.3 531.2L80.3 531.2L81.3 531.2L82.3 531.2L83.3 531.2L84.3 531.2L85.3 531.2L86.3 531.2L87.3 531.2L88.3 531.2L89.3 531.2L90.3 531.2L91.3 531.2L92.3 531.2L93.3 531.2L94.3 531.2L95.3 531.2L96.3 531.2L97.3 531.2L98.3 531.2L99.3 531.2L100.3 531.2L101.3 531.2L102.3 531.1L103.3 531.1L104.3 531.1L105.3 531.1L106.3 531.1L107.3 531.1L108.3 531.1L109.3 531.1L110.3 531.1L111.3 531.1L112.3 531.1L113.3 531.1L114.3 531.1L115.3 531.0L116.3 531.0L117.3 531.0L118.3 531.0L119.3 531.0L120.3 530.9L121.3 530.9L122.3 530.8L123.3 530.8L124.3 530.7L125.3 530.4L126.3 529.9L127.3 529.5L128.3 528.9L129.3 528.5L130.3 528.0L131.3 527.4L132.3 526.8L133.3 526.2L134.3 525.6L135.3 525.0L136.3 524.3L137.3 523.6L138.3 522.8L139.3 522.0L140.3 521.2L141.3 520.4L142.3 519.8L143.3 519.1L144.3 518.3L145.3 517.6L146.3 517.1L147.3 516.9L147.4 516.9L148.3 517.6L149.1 518.2L149.3 518.2L150.3 518.0L151.3 517.8L152.3 517.5L153.3 517.1L154.3 516.6L155.3 516.1L156.3 515.5L157.3 515.0L158.3 514.4L159.3 513.8L160.3 512.9L161.3 511.6L162.3 509.8L163.3 507.2L164.3 503.9L165.3 500.1L166.3 495.5L167.3 490.1L168.3 484.1L169.3 477.0L170.3 469.2L171.3 461.8L172.3 454.5L173.3 447.3L174.3 440.2L175.3 433.0L176.3 425.8L177.3 418.5L178.3 410.9L179.3 403.2L180.3 396.3L181.3 390.2L182.3 385.2L183.3 381.4L184.3 378.4L185.3 375.9L186.3 373.8L187.3 372.2L188.3 371.4L189.3 370.9L190.3 370.6L191.3 370.2L192.3 369.8L193.3 369.3L194.3 368.9L195.3 368.3L196.3 367.5L197.3 365.9L198.3 363.7L199.3 361.5L200.3 359.1L201.3 356.8L202.3 354.6L203.3 352.5L204.3 350.5L205.3 348.7L206.3 347.1L207.3 345.6L208.3 344.5L209.2 343.6L209.3 343.5L209.7 343.0L210.3 343.5L211.3 344.0L212.3 344.8L213.3 347.1L214.3 350.6L215.3 356.2L216.3 362.3L217.3 368.4L218.3 374.3L219.3 380.0L220.3 385.5L221.3 391.2L222.3 398.5L223.3 407.4L224.3 416.6L225.3 425.1L226.3 433.3L227.3 441.4L228.3 449.0L229.3 455.8L230.3 461.6L231.3 466.9L232.3 471.7L233.3 476.3L234.3 480.7L235.3 485.1L236.3 489.3L237.3 493.2L238.3 496.7L239.3 499.7L240.3 502.5L241.3 505.0L242.3 507.2L243.3 509.1L244.3 511.0L245.3 512.6L246.3 514.0L247.3 515.0L248.3 515.8L249.3 516.4L250.3 517.0L251.3 517.5L252.3 517.7L253.0 517.8L253.3 517.8L254.3 517.5L255.3 516.8L256.3 515.9L257.3 514.7L258.3 513.3L259.3 511.4L260.3 508.2L261.3 504.2L262.3 500.0L263.3 495.1L264.3 489.7L265.3 483.9L266.3 477.6L267.3 470.8L268.3 463.7L269.3 456.4L270.3 448.8L271.3 440.8L272.3 432.0L273.3 422.3L274.3 411.1L275.3 397.0L276.3 383.6L277.3 371.1L278.3 359.3L279.3 347.9L280.3 337.0L281.3 326.6L282.3 317.1L283.3 308.9L284.3 301.1L285.3 293.6L286.3 286.8L287.3 280.5L288.3 275.9L289.3 272.4L290.3 269.7L291.3 267.8L292.2 266.4L292.3 266.2L292.8 265.6L293.3 266.1L293.4 266.2L294.3 266.6L295.3 267.3L296.3 269.2L297.3 271.9L298.3 274.9L299.3 278.7L300.3 282.5L301.3 286.1L302.3 289.8L303.3 293.4L304.3 297.1L305.3 300.9L306.3 304.7L307.3 308.7L308.3 312.2L309.3 314.8L310.3 317.1L311.3 319.3L312.3 321.8L313.3 324.6L314.3 327.7L315.3 330.8L316.3 333.8L317.3 336.5L318.3 338.8L319.3 341.2L320.3 343.9L321.3 347.5L322.3 352.4L323.3 357.5L324.3 362.7L325.3 368.0L326.3 373.4L327.3 378.9L328.3 384.7L329.3 390.5L330.3 396.1L331.3 401.1L332.3 405.9L333.3 410.9L334.3 415.8L335.3 420.9L336.3 426.7L337.3 433.2L338.3 439.9L339.3 446.1L340.3 452.1L341.3 457.9L342.3 463.5L343.3 469.0L344.3 473.6L345.3 477.0L346.3 479.9L347.3 482.5L348.3 485.0L349.3 487.3L350.3 489.6L351.3 492.0L352.3 494.8L353.3 497.8L354.3 501.0L355.3 504.3L356.3 507.4L357.3 510.2L358.3 512.6L359.3 514.7L360.3 516.7L361.3 518.5L362.3 520.2L363.3 521.8L364.3 523.3L365.3 524.6L366.3 525.9L367.3 527.1L368.3 528.3L369.3 529.4L370.3 530.4L371.3 531.3L372.3 532.2L373.3 533.0L374.3 533.7L375.3 534.4L376.3 535.0L377.3 535.6L378.3 536.1L379.3 536.6L380.3 537.1L381.3 537.5L382.3 538.0L383.3 538.4L384.3 538.8L385.3 539.2L386.3 539.5L387.3 539.9L388.3 540.2L389.3 540.4L390.3 540.7L391.3 540.9L392.3 541.2L393.3 541.4L394.3 541.6L395.3 541.8L396.3 541.9L397.3 542.1L398.3 542.2L399.3 542.4L400.3 542.5L401.3 542.6L402.3 542.7L403.3 542.8L404.3 542.9L405.3 543.0L406.3 543.1L407.3 543.2L408.3 543.2L409.3 543.2L410.3 543.2L411.3 543.2L412.3 543.2L413.3 543.2L414.3 543.1L415.3 543.1L416.3 543.1L417.3 543.0L418.3 543.0L419.3 542.9L420.3 542.9L421.3 542.8L422.3 542.8L423.3 542.7L424.3 542.6L425.3 542.5L426.3 542.2L427.3 541.8L428.3 541.3L429.3 540.8L430.3 540.3L431.3 539.8L432.3 539.3L433.3 538.7L434.3 538.1L435.3 537.5L436.3 536.9L437.3 536.3L438.3 535.7L439.3 535.1L440.3 534.6L441.3 534.0L442.3 533.4L443.3 532.9L444.3 532.5L445.3 532.1L446.3 531.8L447.3 531.6L448.3 531.4L449.3 531.2L450.3 531.1L451.3 530.9L452.3 530.8L453.3 530.8L454.3 530.8L455.3 531.0L456.3 531.2L457.3 531.5L458.3 531.9L459.3 532.4L460.3 532.9L461.3 533.4L462.3 533.9L463.3 534.4L464.3 534.9L465.3 535.4L466.3 535.9L467.3 536.3L468.3 536.8L469.3 537.2L470.3 537.6L471.3 538.0L472.3 538.5L473.3 538.9L474.3 539.2L475.3 539.6L476.3 540.0L477.3 540.4L478.3 540.7L479.3 541.1L480.3 541.4L481.3 541.8L482.3 542.1L483.3 542.4L484.3 542.7L485.3 543.0L486.3 543.3L487.3 543.6L488.3 543.9L489.3 544.2L490.3 544.5L491.3 544.7L492.3 545.0L493.3 545.3L494.3 545.5L495.3 545.7L496.3 546.0L497.3 546.2L498.3 546.4L499.3 546.6L500.3 546.7L501.3 546.9L502.3 547.0L503.3 547.2L504.3 547.3L505.3 547.4L506.3 547.6L507.3 547.7L508.3 547.8L509.3 548.0L510.3 548.1L511.3 548.2L512.3 548.3L513.3 548.4L514.3 548.5L515.3 548.5L516.3 548.6L517.3 548.6L518.3 548.7L519.3 548.7L520.3 548.7L521.3 548.7L522.3 548.7L523.3 548.7L524.3 548.7L525.3 548.8L526.3 548.8L527.3 548.8L528.3 548.8L529.3 548.8L530.3 548.8L531.3 548.8L532.3 548.8L533.3 548.8L534.3 548.8L535.3 548.8L536.3 548.8L537.3 548.8L538.3 548.8L539.3 548.8L540.3 548.9L541.3 548.9L542.3 548.9L543.3 548.9L544.3 548.9L545.3 548.9L546.3 548.9L547.3 548.9L548.3 548.9L549.3 548.9L550.3 548.9L551.3 548.9L552.3 548.9L553.3 548.9L554.3 548.9L555.3 548.9L556.3 548.9L557.3 548.9L558.3 548.9L559.3 548.9L560.3 548.9L561.3 548.9L562.3 548.8L563.3 548.7L564.3 548.5L565.3 548.2L566.3 547.9L567.3 547.5L568.3 547.1L569.3 546.7L570.3 546.3L571.3 545.8L572.3 545.3L573.3 544.6L574.3 543.7L575.3 542.3L576.3 540.5L577.3 538.5L578.3 536.5L579.3 534.1L580.3 531.4L581.3 529.0L582.3 526.9L583.3 524.7L584.3 522.4L585.3 519.9L586.3 517.5L587.3 515.8L588.3 514.5L589.3 513.5L590.3 512.8L591.3 512.3L592.3 512.0L592.6 512.0L593.3 512.1L594.3 512.5L595.3 512.9L596.3 513.4L597.3 514.0L598.3 514.7L599.3 515.5L600.3 516.3L601.3 517.2L602.3 518.0L603.3 518.7L604.3 519.5L605.3 520.3L606.3 521.1L607.3 521.7L608.3 522.1L609.3 522.1L610.3 522.0L611.3 521.7L612.3 521.4L613.3 521.1L614.3 520.7L615.3 520.4L616.3 520.0L617.3 519.7L618.3 519.2L619.3 518.7L620.3 518.2L621.3 517.5L622.3 516.7L623.3 515.6L624.3 514.2L625.3 512.6L626.3 511.1L627.3 509.5L628.3 507.9L629.3 506.2L630.3 504.5L631.3 502.7L632.3 501.0L633.3 499.2L634.3 497.5L635.3 495.7L636.3 494.0L637.3 492.5L638.3 491.1L639.3 489.9L640.3 488.8L641.3 488.1L642.3 487.7L643.2 487.5L643.3 487.5L644.3 487.8L645.3 488.4L646.3 489.2L647.3 490.4L648.3 491.7L649.3 493.3L650.3 495.1L651.3 497.1L652.3 499.3L653.3 501.7L654.3 504.2L655.3 506.7L656.3 509.2L657.3 511.6L658.3 513.9L659.3 516.2L660.3 518.5L661.3 520.8L662.3 523.0L663.3 525.1L664.3 526.9L665.3 528.5L666.3 530.0L667.3 531.4L668.3 532.7L669.3 533.9L670.3 535.0L671.3 536.0L672.3 537.0L673.3 537.9L674.3 538.8L675.3 539.7L676.3 540.5L677.3 541.3L678.3 542.1L679.3 542.8L680.3 543.5L681.3 544.1L682.3 544.6L683.3 545.1L684.3 545.6L685.3 546.1L686.3 546.6L687.3 547.1L688.3 547.5L689.3 547.9L690.3 548.3L691.3 548.6L692.3 548.9L693.3 549.2L694.3 549.4L695.3 549.6L696.3 549.7L697.3 549.7L698.3 549.8L699.3 549.9L700.3 550.0L701.3 550.0L702.3 550.1L703.3 550.2L704.3 550.2L705.3 550.3L706.3 550.3L707.3 550.3L708.3 550.4L709.3 550.4L710.3 550.5L711.3 550.5L712.3 550.5L713.3 550.6L714.3 550.6L715.3 550.6L716.3 550.6L717.3 550.7L718.3 550.7L719.3 550.7L720.3 550.7L721.3 550.8L722.3 550.8L723.3 550.8L724.3 550.8L725.3 550.9L726.3 550.9L727.3 550.9L728.3 550.9L729.3 550.9L730.3 551.0L731.3 551.0L732.3 551.0L733.3 551.0L734.3 551.0L735.3 551.0L736.3 551.0L736.3 551.5" fill="#2ac8d4" stroke="#28f0f4" stroke-width="1.2" stroke-linejoin="miter" stroke-miterlimit="3"/>
<g fill="none" stroke="#000" stroke-width="2.7" stroke-linejoin="miter" stroke-linecap="butt">
<path d="M730.6 559.4H23.5V264.9L248.8 1.7H955.5V295.4L730.6 559.4"/>
</g>
<path d="M23.5 559.4L30.3 551.5" stroke="#999" stroke-width="0.8" fill="none"/>
<path d="M24.3 559.4v6.9M65.8 559.4v5.2M107.2 559.4v5.2M148.7 559.4v5.2M190.1 559.4v5.2M231.6 559.4v6.9M273.0 559.4v5.2M314.5 559.4v5.2M355.9 559.4v5.2M397.4 559.4v5.2M438.8 559.4v6.9M480.3 559.4v5.2M521.7 559.4v5.2M563.1 559.4v5.2M604.6 559.4v5.2M646.0 559.4v6.9M687.5 559.4v5.2M729.0 559.4v5.2" stroke="#000" stroke-width="2.7" fill="none"/>
<path d="M736.8 551.5h8.5M750.9 535.0h8.5M765.0 518.5h8.5M779.1 501.9h8.5M793.1 485.4h8.5M807.2 468.9h8.5M821.3 452.4h8.5M835.4 435.9h8.5M849.4 419.3h8.5M863.5 402.8h8.5M877.6 386.3h8.5M891.7 369.8h8.5M905.7 353.3h8.5M919.8 336.7h8.5M933.9 320.2h8.5M948.0 303.7h8.5" stroke="#000" stroke-width="2.6" fill="none"/>
<g font-family="Liberation Sans, sans-serif" font-weight="bold" font-size="27" text-anchor="middle" fill="#000">
<text x="25.2" y="591.9" textLength="41.2" lengthAdjust="spacingAndGlyphs">550</text>
<text x="231.8" y="591.9" textLength="41.2" lengthAdjust="spacingAndGlyphs">600</text>
<text x="439.1" y="591.9" textLength="41.2" lengthAdjust="spacingAndGlyphs">650</text>
<text x="646.4" y="591.9" textLength="41.2" lengthAdjust="spacingAndGlyphs">700</text>
<text x="376.8" y="621.2" font-size="25.9" textLength="187.6" lengthAdjust="spacingAndGlyphs">Wavelength/nm</text>
<text transform="translate(988.6 141.6) rotate(-90)" font-size="25.4" textLength="156" lengthAdjust="spacingAndGlyphs">Intensity/a.u.</text>
</g>
<g font-family="Liberation Serif, serif" font-style="normal" font-weight="bold" font-size="23" text-anchor="middle" fill="#000" stroke="#000" stroke-width="0.3">
<text transform="matrix(0.663 0.482 -0.438 0.899 756.8 558.3)" y="7.6">0</text>
<text transform="matrix(0.663 0.482 -0.438 0.899 770.9 541.8)" y="7.6">1</text>
<text transform="matrix(0.663 0.482 -0.438 0.899 785.0 525.3)" y="7.6">2</text>
<text transform="matrix(0.663 0.482 -0.438 0.899 799.1 508.7)" y="7.6">3</text>
<text transform="matrix(0.663 0.482 -0.438 0.899 813.1 492.2)" y="7.6">4</text>
<text transform="matrix(0.663 0.482 -0.438 0.899 827.2 475.7)" y="7.6">5</text>
<text transform="matrix(0.663 0.482 -0.438 0.899 841.3 459.2)" y="7.6">6</text>
<text transform="matrix(0.663 0.482 -0.438 0.899 855.4 442.7)" y="7.6">7</text>
<text transform="matrix(0.663 0.482 -0.438 0.899 869.4 426.1)" y="7.6">8</text>
<text transform="matrix(0.663 0.482 -0.438 0.899 883.5 409.6)" y="7.6">9</text>
<text transform="matrix(0.637 0.516 -0.515 0.857 897.4 392.8)" y="7.6">10</text>
<text transform="matrix(0.637 0.516 -0.515 0.857 911.5 376.3)" y="7.6">11</text>
<text transform="matrix(0.637 0.516 -0.515 0.857 925.5 359.8)" y="7.6">12</text>
<text transform="matrix(0.637 0.516 -0.515 0.857 939.6 343.2)" y="7.6">13</text>
<text transform="matrix(0.637 0.516 -0.515 0.857 953.7 326.7)" y="7.6">14</text>
<text transform="matrix(0.637 0.516 -0.515 0.857 972.5 306.9)" y="7.6">15</text>
</g>
<text transform="translate(864 491.5) rotate(-48.5)" font-family="Liberation Serif, serif" font-weight="bold" font-size="27.8" fill="#000">Time/d</text>
</svg></body></html>
